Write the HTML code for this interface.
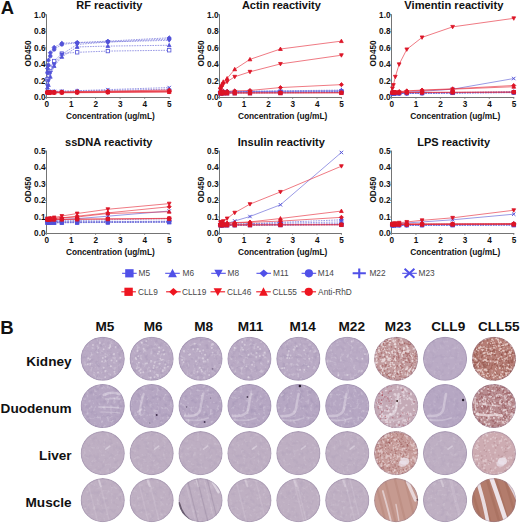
<!DOCTYPE html>
<html><head><meta charset="utf-8"><style>
html,body{margin:0;padding:0;background:#fff;width:520px;height:523px;overflow:hidden}
text{font-family:"Liberation Sans",sans-serif}
</style></head><body>
<svg width="520" height="523" viewBox="0 0 520 523" style="display:block"><g font-family="'Liberation Sans', sans-serif" fill="#111"><text x="76.30" y="9.40" font-size="11" font-weight="bold" textLength="66.00" lengthAdjust="spacingAndGlyphs">RF reactivity</text><path d="M46.50,14.30V97.50H169.70" stroke="#747474" stroke-width="1" fill="none"/><path d="M45.20,97.50H46.5" stroke="#747474" stroke-width="0.9"/><text x="45.50" y="100.40" font-size="8.2" font-weight="bold" text-anchor="end">0.0</text><path d="M45.20,80.92H46.5" stroke="#747474" stroke-width="0.9"/><text x="45.50" y="83.82" font-size="8.2" font-weight="bold" text-anchor="end">0.2</text><path d="M45.20,64.34H46.5" stroke="#747474" stroke-width="0.9"/><text x="45.50" y="67.24" font-size="8.2" font-weight="bold" text-anchor="end">0.4</text><path d="M45.20,47.76H46.5" stroke="#747474" stroke-width="0.9"/><text x="45.50" y="50.66" font-size="8.2" font-weight="bold" text-anchor="end">0.6</text><path d="M45.20,31.18H46.5" stroke="#747474" stroke-width="0.9"/><text x="45.50" y="34.08" font-size="8.2" font-weight="bold" text-anchor="end">0.8</text><path d="M45.20,14.60H46.5" stroke="#747474" stroke-width="0.9"/><text x="45.50" y="17.50" font-size="8.2" font-weight="bold" text-anchor="end">1.0</text><path d="M46.50,97.5V98.80" stroke="#747474" stroke-width="0.9"/><text x="46.70" y="106.60" font-size="8.2" font-weight="bold" text-anchor="middle">0</text><path d="M71.04,97.5V98.80" stroke="#747474" stroke-width="0.9"/><text x="71.24" y="106.60" font-size="8.2" font-weight="bold" text-anchor="middle">1</text><path d="M95.58,97.5V98.80" stroke="#747474" stroke-width="0.9"/><text x="95.78" y="106.60" font-size="8.2" font-weight="bold" text-anchor="middle">2</text><path d="M120.12,97.5V98.80" stroke="#747474" stroke-width="0.9"/><text x="120.32" y="106.60" font-size="8.2" font-weight="bold" text-anchor="middle">3</text><path d="M144.66,97.5V98.80" stroke="#747474" stroke-width="0.9"/><text x="144.86" y="106.60" font-size="8.2" font-weight="bold" text-anchor="middle">4</text><path d="M169.20,97.5V98.80" stroke="#747474" stroke-width="0.9"/><text x="169.40" y="106.60" font-size="8.2" font-weight="bold" text-anchor="middle">5</text><text x="65.90" y="118.80" font-size="8.2" font-weight="bold" textLength="88.90" lengthAdjust="spacingAndGlyphs">Concentration (ug/mL)</text><text transform="translate(30.90,53.40) rotate(-90)" font-size="8.2" font-weight="bold" text-anchor="middle" textLength="26" lengthAdjust="spacingAndGlyphs">OD450</text><polyline points="46.50,87.55 47.46,79.26 48.41,72.63 50.33,67.66 54.17,61.02 61.84,53.56 77.17,52.32 107.85,51.08 169.20,50.25" fill="none" stroke="#6a6ad8" stroke-width="0.85" stroke-opacity="0.8" stroke-dasharray="1.6,1"/><rect x="45.76" y="77.56" width="3.40" height="3.40" fill="white" stroke="#5252d8" stroke-width="0.8"/><rect x="46.71" y="70.93" width="3.40" height="3.40" fill="white" stroke="#5252d8" stroke-width="0.8"/><rect x="48.63" y="65.96" width="3.40" height="3.40" fill="white" stroke="#5252d8" stroke-width="0.8"/><rect x="52.47" y="59.32" width="3.40" height="3.40" fill="white" stroke="#5252d8" stroke-width="0.8"/><rect x="60.14" y="51.86" width="3.40" height="3.40" fill="white" stroke="#5252d8" stroke-width="0.8"/><rect x="75.47" y="50.62" width="3.40" height="3.40" fill="white" stroke="#5252d8" stroke-width="0.8"/><rect x="106.15" y="49.38" width="3.40" height="3.40" fill="white" stroke="#5252d8" stroke-width="0.8"/><rect x="167.50" y="48.55" width="3.40" height="3.40" fill="white" stroke="#5252d8" stroke-width="0.8"/><polyline points="46.50,89.21 47.46,87.55 48.41,85.06 50.33,76.78 54.17,66.00 61.84,56.88 77.17,46.93 107.85,46.10 169.20,45.27" fill="none" stroke="#6a6ad8" stroke-width="0.85" stroke-opacity="0.8" stroke-dasharray="1.6,1"/><path d="M47.46,85.60L49.33,89.02L45.59,89.02Z" fill="#5252d8" stroke="#5252d8" stroke-width="0.8"/><path d="M48.41,83.11L50.28,86.53L46.54,86.53Z" fill="#5252d8" stroke="#5252d8" stroke-width="0.8"/><path d="M50.33,74.82L52.20,78.24L48.46,78.24Z" fill="#5252d8" stroke="#5252d8" stroke-width="0.8"/><path d="M54.17,64.04L56.04,67.46L52.30,67.46Z" fill="#5252d8" stroke="#5252d8" stroke-width="0.8"/><path d="M61.84,54.92L63.71,58.35L59.97,58.35Z" fill="#5252d8" stroke="#5252d8" stroke-width="0.8"/><path d="M77.17,44.98L79.05,48.40L75.30,48.40Z" fill="#5252d8" stroke="#5252d8" stroke-width="0.8"/><path d="M107.85,44.15L109.72,47.57L105.98,47.57Z" fill="#5252d8" stroke="#5252d8" stroke-width="0.8"/><path d="M169.20,43.32L171.07,46.74L167.33,46.74Z" fill="#5252d8" stroke="#5252d8" stroke-width="0.8"/><polyline points="46.50,89.21 47.46,85.89 48.41,80.92 50.33,72.63 54.17,64.34 61.84,54.39 77.17,44.44 107.85,41.96 169.20,40.30" fill="none" stroke="#6a6ad8" stroke-width="0.85" stroke-opacity="0.8" stroke-dasharray="1.6,1"/><path d="M47.46,87.85L49.33,84.43L45.59,84.43Z" fill="#5252d8" stroke="#5252d8" stroke-width="0.8"/><path d="M48.41,82.88L50.28,79.45L46.54,79.45Z" fill="#5252d8" stroke="#5252d8" stroke-width="0.8"/><path d="M50.33,74.58L52.20,71.16L48.46,71.16Z" fill="#5252d8" stroke="#5252d8" stroke-width="0.8"/><path d="M54.17,66.30L56.04,62.87L52.30,62.87Z" fill="#5252d8" stroke="#5252d8" stroke-width="0.8"/><path d="M61.84,56.35L63.71,52.93L59.97,52.93Z" fill="#5252d8" stroke="#5252d8" stroke-width="0.8"/><path d="M77.17,46.40L79.05,42.98L75.30,42.98Z" fill="#5252d8" stroke="#5252d8" stroke-width="0.8"/><path d="M107.85,43.91L109.72,40.49L105.98,40.49Z" fill="#5252d8" stroke="#5252d8" stroke-width="0.8"/><path d="M169.20,42.25L171.07,38.83L167.33,38.83Z" fill="#5252d8" stroke="#5252d8" stroke-width="0.8"/><polyline points="46.50,85.06 47.46,68.48 48.41,60.19 50.33,52.73 54.17,47.35 61.84,43.20 77.17,42.54 107.85,41.13 169.20,37.81" fill="none" stroke="#6a6ad8" stroke-width="0.85" stroke-opacity="0.8" stroke-dasharray="1.6,1"/><path d="M47.46,66.44L49.50,68.48L47.46,70.53L45.42,68.48Z" fill="#5252d8" stroke="#5252d8" stroke-width="0.8"/><path d="M48.41,58.15L50.45,60.19L48.41,62.23L46.37,60.19Z" fill="#5252d8" stroke="#5252d8" stroke-width="0.8"/><path d="M50.33,50.69L52.37,52.73L50.33,54.77L48.29,52.73Z" fill="#5252d8" stroke="#5252d8" stroke-width="0.8"/><path d="M54.17,45.31L56.21,47.35L54.17,49.39L52.13,47.35Z" fill="#5252d8" stroke="#5252d8" stroke-width="0.8"/><path d="M61.84,41.16L63.88,43.20L61.84,45.24L59.80,43.20Z" fill="#5252d8" stroke="#5252d8" stroke-width="0.8"/><path d="M77.17,40.50L79.22,42.54L77.17,44.58L75.13,42.54Z" fill="#5252d8" stroke="#5252d8" stroke-width="0.8"/><path d="M107.85,39.09L109.89,41.13L107.85,43.17L105.81,41.13Z" fill="#5252d8" stroke="#5252d8" stroke-width="0.8"/><path d="M169.20,35.77L171.24,37.81L169.20,39.85L167.16,37.81Z" fill="#5252d8" stroke="#5252d8" stroke-width="0.8"/><polyline points="46.50,87.55 47.46,72.63 48.41,65.17 50.33,56.05 54.17,49.42 61.84,44.44 77.17,42.79 107.85,41.96 169.20,39.06" fill="none" stroke="#6a6ad8" stroke-width="0.85" stroke-opacity="0.8" stroke-dasharray="1.6,1"/><circle cx="47.46" cy="72.63" r="1.78" fill="#5252d8" stroke="#5252d8" stroke-width="0.8"/><circle cx="48.41" cy="65.17" r="1.78" fill="#5252d8" stroke="#5252d8" stroke-width="0.8"/><circle cx="50.33" cy="56.05" r="1.78" fill="#5252d8" stroke="#5252d8" stroke-width="0.8"/><circle cx="54.17" cy="49.42" r="1.78" fill="#5252d8" stroke="#5252d8" stroke-width="0.8"/><circle cx="61.84" cy="44.44" r="1.78" fill="#5252d8" stroke="#5252d8" stroke-width="0.8"/><circle cx="77.17" cy="42.79" r="1.78" fill="#5252d8" stroke="#5252d8" stroke-width="0.8"/><circle cx="107.85" cy="41.96" r="1.78" fill="#5252d8" stroke="#5252d8" stroke-width="0.8"/><circle cx="169.20" cy="39.06" r="1.78" fill="#5252d8" stroke="#5252d8" stroke-width="0.8"/><polyline points="46.50,91.70 47.46,91.68 48.41,91.66 50.33,91.62 54.17,91.54 61.84,91.39 77.17,91.08 107.85,90.45 169.20,89.21" fill="none" stroke="#6a6ad8" stroke-width="0.85" stroke-opacity="0.8" stroke-dasharray="1.6,1"/><path d="M45.25,91.68H49.67M47.46,89.47V93.89" stroke="#5252d8" stroke-width="1.1" fill="none"/><path d="M46.20,91.66H50.62M48.41,89.45V93.87" stroke="#5252d8" stroke-width="1.1" fill="none"/><path d="M48.12,91.62H52.54M50.33,89.41V93.83" stroke="#5252d8" stroke-width="1.1" fill="none"/><path d="M51.96,91.54H56.38M54.17,89.33V93.75" stroke="#5252d8" stroke-width="1.1" fill="none"/><path d="M59.63,91.39H64.05M61.84,89.18V93.60" stroke="#5252d8" stroke-width="1.1" fill="none"/><path d="M74.97,91.08H79.38M77.17,88.87V93.29" stroke="#5252d8" stroke-width="1.1" fill="none"/><path d="M105.64,90.45H110.06M107.85,88.24V92.66" stroke="#5252d8" stroke-width="1.1" fill="none"/><path d="M166.99,89.21H171.41M169.20,87.00V91.42" stroke="#5252d8" stroke-width="1.1" fill="none"/><polyline points="46.50,91.70 47.46,91.66 48.41,91.63 50.33,91.57 54.17,91.44 61.84,91.18 77.17,90.66 107.85,89.62 169.20,87.55" fill="none" stroke="#6a6ad8" stroke-width="0.85" stroke-opacity="0.8" stroke-dasharray="1.6,1"/><path d="M45.76,89.96L49.16,93.36M49.16,89.96L45.76,93.36" stroke="#5252d8" stroke-width="1.0" fill="none"/><path d="M46.71,89.93L50.11,93.33M50.11,89.93L46.71,93.33" stroke="#5252d8" stroke-width="1.0" fill="none"/><path d="M48.63,89.87L52.03,93.27M52.03,89.87L48.63,93.27" stroke="#5252d8" stroke-width="1.0" fill="none"/><path d="M52.47,89.74L55.87,93.14M55.87,89.74L52.47,93.14" stroke="#5252d8" stroke-width="1.0" fill="none"/><path d="M60.14,89.48L63.54,92.88M63.54,89.48L60.14,92.88" stroke="#5252d8" stroke-width="1.0" fill="none"/><path d="M75.47,88.96L78.88,92.36M78.88,88.96L75.47,92.36" stroke="#5252d8" stroke-width="1.0" fill="none"/><path d="M106.15,87.92L109.55,91.32M109.55,87.92L106.15,91.32" stroke="#5252d8" stroke-width="1.0" fill="none"/><path d="M167.50,85.85L170.90,89.25M170.90,85.85L167.50,89.25" stroke="#5252d8" stroke-width="1.0" fill="none"/><polyline points="46.50,92.53 47.46,92.52 48.41,92.51 50.33,92.50 54.17,92.47 61.84,92.42 77.17,92.32 107.85,92.11 169.20,91.70" fill="none" stroke="#e62c3a" stroke-width="0.85" stroke-opacity="0.75"/><rect x="45.76" y="90.82" width="3.40" height="3.40" fill="#dc1426" stroke="#dc1426" stroke-width="0.8"/><rect x="46.71" y="90.81" width="3.40" height="3.40" fill="#dc1426" stroke="#dc1426" stroke-width="0.8"/><rect x="48.63" y="90.80" width="3.40" height="3.40" fill="#dc1426" stroke="#dc1426" stroke-width="0.8"/><rect x="52.47" y="90.77" width="3.40" height="3.40" fill="#dc1426" stroke="#dc1426" stroke-width="0.8"/><rect x="60.14" y="90.72" width="3.40" height="3.40" fill="#dc1426" stroke="#dc1426" stroke-width="0.8"/><rect x="75.47" y="90.62" width="3.40" height="3.40" fill="#dc1426" stroke="#dc1426" stroke-width="0.8"/><rect x="106.15" y="90.41" width="3.40" height="3.40" fill="#dc1426" stroke="#dc1426" stroke-width="0.8"/><rect x="167.50" y="90.00" width="3.40" height="3.40" fill="#dc1426" stroke="#dc1426" stroke-width="0.8"/><polyline points="46.50,92.53 47.46,92.51 48.41,92.50 50.33,92.47 54.17,92.42 61.84,92.32 77.17,92.11 107.85,91.70 169.20,90.87" fill="none" stroke="#e62c3a" stroke-width="0.85" stroke-opacity="0.75"/><path d="M47.46,90.47L49.50,92.51L47.46,94.55L45.42,92.51Z" fill="#dc1426" stroke="#dc1426" stroke-width="0.8"/><path d="M48.41,90.46L50.45,92.50L48.41,94.54L46.37,92.50Z" fill="#dc1426" stroke="#dc1426" stroke-width="0.8"/><path d="M50.33,90.43L52.37,92.47L50.33,94.51L48.29,92.47Z" fill="#dc1426" stroke="#dc1426" stroke-width="0.8"/><path d="M54.17,90.38L56.21,92.42L54.17,94.46L52.13,92.42Z" fill="#dc1426" stroke="#dc1426" stroke-width="0.8"/><path d="M61.84,90.28L63.88,92.32L61.84,94.36L59.80,92.32Z" fill="#dc1426" stroke="#dc1426" stroke-width="0.8"/><path d="M77.17,90.07L79.22,92.11L77.17,94.15L75.13,92.11Z" fill="#dc1426" stroke="#dc1426" stroke-width="0.8"/><path d="M107.85,89.66L109.89,91.70L107.85,93.74L105.81,91.70Z" fill="#dc1426" stroke="#dc1426" stroke-width="0.8"/><path d="M169.20,88.83L171.24,90.87L169.20,92.91L167.16,90.87Z" fill="#dc1426" stroke="#dc1426" stroke-width="0.8"/><polyline points="46.50,92.11 47.46,92.10 48.41,92.08 50.33,92.05 54.17,91.98 61.84,91.85 77.17,91.59 107.85,91.08 169.20,90.04" fill="none" stroke="#e62c3a" stroke-width="0.85" stroke-opacity="0.75"/><path d="M47.46,90.14L49.33,93.56L45.59,93.56Z" fill="#dc1426" stroke="#dc1426" stroke-width="0.8"/><path d="M48.41,90.12L50.28,93.55L46.54,93.55Z" fill="#dc1426" stroke="#dc1426" stroke-width="0.8"/><path d="M50.33,90.09L52.20,93.51L48.46,93.51Z" fill="#dc1426" stroke="#dc1426" stroke-width="0.8"/><path d="M54.17,90.03L56.04,93.45L52.30,93.45Z" fill="#dc1426" stroke="#dc1426" stroke-width="0.8"/><path d="M61.84,89.90L63.71,93.32L59.97,93.32Z" fill="#dc1426" stroke="#dc1426" stroke-width="0.8"/><path d="M77.17,89.64L79.05,93.06L75.30,93.06Z" fill="#dc1426" stroke="#dc1426" stroke-width="0.8"/><path d="M107.85,89.12L109.72,92.54L105.98,92.54Z" fill="#dc1426" stroke="#dc1426" stroke-width="0.8"/><path d="M169.20,88.08L171.07,91.51L167.33,91.51Z" fill="#dc1426" stroke="#dc1426" stroke-width="0.8"/><polyline points="46.50,92.53 47.46,92.52 48.41,92.51 50.33,92.49 54.17,92.45 61.84,92.37 77.17,92.22 107.85,91.90 169.20,91.28" fill="none" stroke="#e62c3a" stroke-width="0.85" stroke-opacity="0.75"/><circle cx="47.46" cy="92.52" r="1.78" fill="#dc1426" stroke="#dc1426" stroke-width="0.8"/><circle cx="48.41" cy="92.51" r="1.78" fill="#dc1426" stroke="#dc1426" stroke-width="0.8"/><circle cx="50.33" cy="92.49" r="1.78" fill="#dc1426" stroke="#dc1426" stroke-width="0.8"/><circle cx="54.17" cy="92.45" r="1.78" fill="#dc1426" stroke="#dc1426" stroke-width="0.8"/><circle cx="61.84" cy="92.37" r="1.78" fill="#dc1426" stroke="#dc1426" stroke-width="0.8"/><circle cx="77.17" cy="92.22" r="1.78" fill="#dc1426" stroke="#dc1426" stroke-width="0.8"/><circle cx="107.85" cy="91.90" r="1.78" fill="#dc1426" stroke="#dc1426" stroke-width="0.8"/><circle cx="169.20" cy="91.28" r="1.78" fill="#dc1426" stroke="#dc1426" stroke-width="0.8"/><polyline points="46.50,92.94 47.46,92.93 48.41,92.93 50.33,92.91 54.17,92.89 61.84,92.84 77.17,92.73 107.85,92.53 169.20,92.11" fill="none" stroke="#e62c3a" stroke-width="0.85" stroke-opacity="0.75"/><path d="M47.46,94.89L49.33,91.47L45.59,91.47Z" fill="#dc1426" stroke="#dc1426" stroke-width="0.8"/><path d="M48.41,94.88L50.28,91.46L46.54,91.46Z" fill="#dc1426" stroke="#dc1426" stroke-width="0.8"/><path d="M50.33,94.87L52.20,91.45L48.46,91.45Z" fill="#dc1426" stroke="#dc1426" stroke-width="0.8"/><path d="M54.17,94.84L56.04,91.42L52.30,91.42Z" fill="#dc1426" stroke="#dc1426" stroke-width="0.8"/><path d="M61.84,94.79L63.71,91.37L59.97,91.37Z" fill="#dc1426" stroke="#dc1426" stroke-width="0.8"/><path d="M77.17,94.69L79.05,91.27L75.30,91.27Z" fill="#dc1426" stroke="#dc1426" stroke-width="0.8"/><path d="M107.85,94.48L109.72,91.06L105.98,91.06Z" fill="#dc1426" stroke="#dc1426" stroke-width="0.8"/><path d="M169.20,94.07L171.07,90.65L167.33,90.65Z" fill="#dc1426" stroke="#dc1426" stroke-width="0.8"/><text x="241.90" y="9.40" font-size="11" font-weight="bold" textLength="78.90" lengthAdjust="spacingAndGlyphs">Actin reactivity</text><path d="M219.50,14.30V97.50H341.90" stroke="#747474" stroke-width="1" fill="none"/><path d="M218.20,97.50H219.5" stroke="#747474" stroke-width="0.9"/><text x="218.50" y="100.40" font-size="8.2" font-weight="bold" text-anchor="end">0.0</text><path d="M218.20,80.92H219.5" stroke="#747474" stroke-width="0.9"/><text x="218.50" y="83.82" font-size="8.2" font-weight="bold" text-anchor="end">0.2</text><path d="M218.20,64.34H219.5" stroke="#747474" stroke-width="0.9"/><text x="218.50" y="67.24" font-size="8.2" font-weight="bold" text-anchor="end">0.4</text><path d="M218.20,47.76H219.5" stroke="#747474" stroke-width="0.9"/><text x="218.50" y="50.66" font-size="8.2" font-weight="bold" text-anchor="end">0.6</text><path d="M218.20,31.18H219.5" stroke="#747474" stroke-width="0.9"/><text x="218.50" y="34.08" font-size="8.2" font-weight="bold" text-anchor="end">0.8</text><path d="M218.20,14.60H219.5" stroke="#747474" stroke-width="0.9"/><text x="218.50" y="17.50" font-size="8.2" font-weight="bold" text-anchor="end">1.0</text><path d="M219.50,97.5V98.80" stroke="#747474" stroke-width="0.9"/><text x="219.70" y="106.60" font-size="8.2" font-weight="bold" text-anchor="middle">0</text><path d="M243.88,97.5V98.80" stroke="#747474" stroke-width="0.9"/><text x="244.08" y="106.60" font-size="8.2" font-weight="bold" text-anchor="middle">1</text><path d="M268.26,97.5V98.80" stroke="#747474" stroke-width="0.9"/><text x="268.46" y="106.60" font-size="8.2" font-weight="bold" text-anchor="middle">2</text><path d="M292.64,97.5V98.80" stroke="#747474" stroke-width="0.9"/><text x="292.84" y="106.60" font-size="8.2" font-weight="bold" text-anchor="middle">3</text><path d="M317.02,97.5V98.80" stroke="#747474" stroke-width="0.9"/><text x="317.22" y="106.60" font-size="8.2" font-weight="bold" text-anchor="middle">4</text><path d="M341.40,97.5V98.80" stroke="#747474" stroke-width="0.9"/><text x="341.60" y="106.60" font-size="8.2" font-weight="bold" text-anchor="middle">5</text><text x="237.90" y="118.80" font-size="8.2" font-weight="bold" textLength="89.40" lengthAdjust="spacingAndGlyphs">Concentration (ug/mL)</text><text transform="translate(203.90,53.40) rotate(-90)" font-size="8.2" font-weight="bold" text-anchor="middle" textLength="26" lengthAdjust="spacingAndGlyphs">OD450</text><polyline points="219.50,93.36 220.45,93.35 221.40,93.34 223.30,93.33 227.12,93.30 234.74,93.25 249.97,93.15 280.45,92.94 341.40,92.53" fill="none" stroke="#6a6ad8" stroke-width="0.85" stroke-opacity="0.8" stroke-dasharray="1.6,1"/><rect x="218.75" y="91.65" width="3.40" height="3.40" fill="#5252d8" stroke="#5252d8" stroke-width="0.8"/><rect x="219.70" y="91.64" width="3.40" height="3.40" fill="#5252d8" stroke="#5252d8" stroke-width="0.8"/><rect x="221.60" y="91.63" width="3.40" height="3.40" fill="#5252d8" stroke="#5252d8" stroke-width="0.8"/><rect x="225.42" y="91.60" width="3.40" height="3.40" fill="#5252d8" stroke="#5252d8" stroke-width="0.8"/><rect x="233.04" y="91.55" width="3.40" height="3.40" fill="#5252d8" stroke="#5252d8" stroke-width="0.8"/><rect x="248.28" y="91.45" width="3.40" height="3.40" fill="#5252d8" stroke="#5252d8" stroke-width="0.8"/><rect x="278.75" y="91.24" width="3.40" height="3.40" fill="#5252d8" stroke="#5252d8" stroke-width="0.8"/><rect x="339.70" y="90.83" width="3.40" height="3.40" fill="#5252d8" stroke="#5252d8" stroke-width="0.8"/><polyline points="219.50,92.53 220.45,92.52 221.40,92.51 223.30,92.50 227.12,92.47 234.74,92.42 249.97,92.32 280.45,92.11 341.40,91.70" fill="none" stroke="#6a6ad8" stroke-width="0.85" stroke-opacity="0.8" stroke-dasharray="1.6,1"/><path d="M220.45,90.56L222.32,93.99L218.58,93.99Z" fill="#5252d8" stroke="#5252d8" stroke-width="0.8"/><path d="M221.40,90.56L223.27,93.98L219.53,93.98Z" fill="#5252d8" stroke="#5252d8" stroke-width="0.8"/><path d="M223.30,90.55L225.17,93.97L221.43,93.97Z" fill="#5252d8" stroke="#5252d8" stroke-width="0.8"/><path d="M227.12,90.52L228.99,93.94L225.25,93.94Z" fill="#5252d8" stroke="#5252d8" stroke-width="0.8"/><path d="M234.74,90.47L236.61,93.89L232.87,93.89Z" fill="#5252d8" stroke="#5252d8" stroke-width="0.8"/><path d="M249.97,90.36L251.84,93.78L248.10,93.78Z" fill="#5252d8" stroke="#5252d8" stroke-width="0.8"/><path d="M280.45,90.16L282.32,93.58L278.58,93.58Z" fill="#5252d8" stroke="#5252d8" stroke-width="0.8"/><path d="M341.40,89.74L343.27,93.16L339.53,93.16Z" fill="#5252d8" stroke="#5252d8" stroke-width="0.8"/><polyline points="219.50,92.53 220.45,92.52 221.40,92.52 223.30,92.51 227.12,92.50 234.74,92.47 249.97,92.42 280.45,92.32 341.40,92.11" fill="none" stroke="#6a6ad8" stroke-width="0.85" stroke-opacity="0.8" stroke-dasharray="1.6,1"/><path d="M220.45,94.48L222.32,91.06L218.58,91.06Z" fill="#5252d8" stroke="#5252d8" stroke-width="0.8"/><path d="M221.40,94.47L223.27,91.05L219.53,91.05Z" fill="#5252d8" stroke="#5252d8" stroke-width="0.8"/><path d="M223.30,94.47L225.17,91.05L221.43,91.05Z" fill="#5252d8" stroke="#5252d8" stroke-width="0.8"/><path d="M227.12,94.46L228.99,91.03L225.25,91.03Z" fill="#5252d8" stroke="#5252d8" stroke-width="0.8"/><path d="M234.74,94.43L236.61,91.01L232.87,91.01Z" fill="#5252d8" stroke="#5252d8" stroke-width="0.8"/><path d="M249.97,94.38L251.84,90.96L248.10,90.96Z" fill="#5252d8" stroke="#5252d8" stroke-width="0.8"/><path d="M280.45,94.27L282.32,90.85L278.58,90.85Z" fill="#5252d8" stroke="#5252d8" stroke-width="0.8"/><path d="M341.40,94.07L343.27,90.65L339.53,90.65Z" fill="#5252d8" stroke="#5252d8" stroke-width="0.8"/><polyline points="219.50,92.53 220.45,92.52 221.40,92.51 223.30,92.50 227.12,92.47 234.74,92.42 249.97,92.32 280.45,92.11 341.40,91.70" fill="none" stroke="#6a6ad8" stroke-width="0.85" stroke-opacity="0.8" stroke-dasharray="1.6,1"/><path d="M220.45,90.48L222.49,92.52L220.45,94.56L218.41,92.52Z" fill="#5252d8" stroke="#5252d8" stroke-width="0.8"/><path d="M221.40,90.47L223.44,92.51L221.40,94.55L219.36,92.51Z" fill="#5252d8" stroke="#5252d8" stroke-width="0.8"/><path d="M223.30,90.46L225.34,92.50L223.30,94.54L221.26,92.50Z" fill="#5252d8" stroke="#5252d8" stroke-width="0.8"/><path d="M227.12,90.43L229.16,92.47L227.12,94.51L225.08,92.47Z" fill="#5252d8" stroke="#5252d8" stroke-width="0.8"/><path d="M234.74,90.38L236.78,92.42L234.74,94.46L232.70,92.42Z" fill="#5252d8" stroke="#5252d8" stroke-width="0.8"/><path d="M249.97,90.28L252.01,92.32L249.97,94.36L247.94,92.32Z" fill="#5252d8" stroke="#5252d8" stroke-width="0.8"/><path d="M280.45,90.07L282.49,92.11L280.45,94.15L278.41,92.11Z" fill="#5252d8" stroke="#5252d8" stroke-width="0.8"/><path d="M341.40,89.66L343.44,91.70L341.40,93.74L339.36,91.70Z" fill="#5252d8" stroke="#5252d8" stroke-width="0.8"/><polyline points="219.50,91.70 220.45,91.69 221.40,91.68 223.30,91.67 227.12,91.65 234.74,91.59 249.97,91.49 280.45,91.28 341.40,90.87" fill="none" stroke="#6a6ad8" stroke-width="0.85" stroke-opacity="0.8" stroke-dasharray="1.6,1"/><circle cx="220.45" cy="91.69" r="1.78" fill="#5252d8" stroke="#5252d8" stroke-width="0.8"/><circle cx="221.40" cy="91.68" r="1.78" fill="#5252d8" stroke="#5252d8" stroke-width="0.8"/><circle cx="223.30" cy="91.67" r="1.78" fill="#5252d8" stroke="#5252d8" stroke-width="0.8"/><circle cx="227.12" cy="91.65" r="1.78" fill="#5252d8" stroke="#5252d8" stroke-width="0.8"/><circle cx="234.74" cy="91.59" r="1.78" fill="#5252d8" stroke="#5252d8" stroke-width="0.8"/><circle cx="249.97" cy="91.49" r="1.78" fill="#5252d8" stroke="#5252d8" stroke-width="0.8"/><circle cx="280.45" cy="91.28" r="1.78" fill="#5252d8" stroke="#5252d8" stroke-width="0.8"/><circle cx="341.40" cy="90.87" r="1.78" fill="#5252d8" stroke="#5252d8" stroke-width="0.8"/><polyline points="219.50,91.70 220.45,91.68 221.40,91.67 223.30,91.65 227.12,91.59 234.74,91.49 249.97,91.28 280.45,90.87 341.40,90.04" fill="none" stroke="#6a6ad8" stroke-width="0.85" stroke-opacity="0.8" stroke-dasharray="1.6,1"/><path d="M218.24,91.68H222.66M220.45,89.47V93.89" stroke="#5252d8" stroke-width="1.1" fill="none"/><path d="M219.19,91.67H223.61M221.40,89.46V93.88" stroke="#5252d8" stroke-width="1.1" fill="none"/><path d="M221.09,91.65H225.51M223.30,89.44V93.86" stroke="#5252d8" stroke-width="1.1" fill="none"/><path d="M224.91,91.59H229.33M227.12,89.38V93.80" stroke="#5252d8" stroke-width="1.1" fill="none"/><path d="M232.53,91.49H236.95M234.74,89.28V93.70" stroke="#5252d8" stroke-width="1.1" fill="none"/><path d="M247.76,91.28H252.19M249.97,89.07V93.49" stroke="#5252d8" stroke-width="1.1" fill="none"/><path d="M278.24,90.87H282.66M280.45,88.66V93.08" stroke="#5252d8" stroke-width="1.1" fill="none"/><path d="M339.19,90.04H343.61M341.40,87.83V92.25" stroke="#5252d8" stroke-width="1.1" fill="none"/><polyline points="219.50,91.70 220.45,91.69 221.40,91.68 223.30,91.67 227.12,91.65 234.74,91.59 249.97,91.49 280.45,91.28 341.40,90.87" fill="none" stroke="#6a6ad8" stroke-width="0.85" stroke-opacity="0.8"/><path d="M218.75,89.99L222.15,93.39M222.15,89.99L218.75,93.39" stroke="#5252d8" stroke-width="1.0" fill="none"/><path d="M219.70,89.98L223.10,93.38M223.10,89.98L219.70,93.38" stroke="#5252d8" stroke-width="1.0" fill="none"/><path d="M221.60,89.97L225.00,93.37M225.00,89.97L221.60,93.37" stroke="#5252d8" stroke-width="1.0" fill="none"/><path d="M225.42,89.95L228.82,93.35M228.82,89.95L225.42,93.35" stroke="#5252d8" stroke-width="1.0" fill="none"/><path d="M233.04,89.89L236.44,93.29M236.44,89.89L233.04,93.29" stroke="#5252d8" stroke-width="1.0" fill="none"/><path d="M248.28,89.79L251.67,93.19M251.67,89.79L248.28,93.19" stroke="#5252d8" stroke-width="1.0" fill="none"/><path d="M278.75,89.58L282.15,92.98M282.15,89.58L278.75,92.98" stroke="#5252d8" stroke-width="1.0" fill="none"/><path d="M339.70,89.17L343.10,92.57M343.10,89.17L339.70,92.57" stroke="#5252d8" stroke-width="1.0" fill="none"/><polyline points="219.50,93.36 220.45,93.35 221.40,93.35 223.30,93.34 227.12,93.33 234.74,93.30 249.97,93.25 280.45,93.15 341.40,92.94" fill="none" stroke="#e62c3a" stroke-width="0.85" stroke-opacity="0.75"/><rect x="218.75" y="91.65" width="3.40" height="3.40" fill="#dc1426" stroke="#dc1426" stroke-width="0.8"/><rect x="219.70" y="91.65" width="3.40" height="3.40" fill="#dc1426" stroke="#dc1426" stroke-width="0.8"/><rect x="221.60" y="91.64" width="3.40" height="3.40" fill="#dc1426" stroke="#dc1426" stroke-width="0.8"/><rect x="225.42" y="91.63" width="3.40" height="3.40" fill="#dc1426" stroke="#dc1426" stroke-width="0.8"/><rect x="233.04" y="91.60" width="3.40" height="3.40" fill="#dc1426" stroke="#dc1426" stroke-width="0.8"/><rect x="248.28" y="91.55" width="3.40" height="3.40" fill="#dc1426" stroke="#dc1426" stroke-width="0.8"/><rect x="278.75" y="91.45" width="3.40" height="3.40" fill="#dc1426" stroke="#dc1426" stroke-width="0.8"/><rect x="339.70" y="91.24" width="3.40" height="3.40" fill="#dc1426" stroke="#dc1426" stroke-width="0.8"/><polyline points="219.50,91.70 220.45,91.70 221.40,91.70 223.30,91.28 227.12,91.28 234.74,90.87 249.97,90.45 280.45,87.55 341.40,84.65" fill="none" stroke="#e62c3a" stroke-width="0.85" stroke-opacity="0.75"/><path d="M220.45,89.66L222.49,91.70L220.45,93.74L218.41,91.70Z" fill="#dc1426" stroke="#dc1426" stroke-width="0.8"/><path d="M221.40,89.66L223.44,91.70L221.40,93.74L219.36,91.70Z" fill="#dc1426" stroke="#dc1426" stroke-width="0.8"/><path d="M223.30,89.24L225.34,91.28L223.30,93.32L221.26,91.28Z" fill="#dc1426" stroke="#dc1426" stroke-width="0.8"/><path d="M227.12,89.24L229.16,91.28L227.12,93.32L225.08,91.28Z" fill="#dc1426" stroke="#dc1426" stroke-width="0.8"/><path d="M234.74,88.83L236.78,90.87L234.74,92.91L232.70,90.87Z" fill="#dc1426" stroke="#dc1426" stroke-width="0.8"/><path d="M249.97,88.41L252.01,90.45L249.97,92.49L247.94,90.45Z" fill="#dc1426" stroke="#dc1426" stroke-width="0.8"/><path d="M280.45,85.51L282.49,87.55L280.45,89.59L278.41,87.55Z" fill="#dc1426" stroke="#dc1426" stroke-width="0.8"/><path d="M341.40,82.61L343.44,84.65L341.40,86.69L339.36,84.65Z" fill="#dc1426" stroke="#dc1426" stroke-width="0.8"/><polyline points="219.50,90.87 220.45,87.55 221.40,85.06 223.30,81.75 227.12,78.43 234.74,69.31 249.97,59.37 280.45,49.00 341.40,41.13" fill="none" stroke="#e62c3a" stroke-width="0.85" stroke-opacity="0.75"/><path d="M220.45,85.60L222.32,89.02L218.58,89.02Z" fill="#dc1426" stroke="#dc1426" stroke-width="0.8"/><path d="M221.40,83.11L223.27,86.53L219.53,86.53Z" fill="#dc1426" stroke="#dc1426" stroke-width="0.8"/><path d="M223.30,79.79L225.17,83.22L221.43,83.22Z" fill="#dc1426" stroke="#dc1426" stroke-width="0.8"/><path d="M227.12,76.48L228.99,79.90L225.25,79.90Z" fill="#dc1426" stroke="#dc1426" stroke-width="0.8"/><path d="M234.74,67.36L236.61,70.78L232.87,70.78Z" fill="#dc1426" stroke="#dc1426" stroke-width="0.8"/><path d="M249.97,57.41L251.84,60.83L248.10,60.83Z" fill="#dc1426" stroke="#dc1426" stroke-width="0.8"/><path d="M280.45,47.05L282.32,50.47L278.58,50.47Z" fill="#dc1426" stroke="#dc1426" stroke-width="0.8"/><path d="M341.40,39.17L343.27,42.59L339.53,42.59Z" fill="#dc1426" stroke="#dc1426" stroke-width="0.8"/><polyline points="219.50,92.53 220.45,92.53 221.40,92.53 223.30,92.53 227.12,92.53 234.74,92.53 249.97,92.53 280.45,92.53 341.40,92.53" fill="none" stroke="#e62c3a" stroke-width="0.85" stroke-opacity="0.75"/><circle cx="220.45" cy="92.53" r="1.78" fill="#dc1426" stroke="#dc1426" stroke-width="0.8"/><circle cx="221.40" cy="92.53" r="1.78" fill="#dc1426" stroke="#dc1426" stroke-width="0.8"/><circle cx="223.30" cy="92.53" r="1.78" fill="#dc1426" stroke="#dc1426" stroke-width="0.8"/><circle cx="227.12" cy="92.53" r="1.78" fill="#dc1426" stroke="#dc1426" stroke-width="0.8"/><circle cx="234.74" cy="92.53" r="1.78" fill="#dc1426" stroke="#dc1426" stroke-width="0.8"/><circle cx="249.97" cy="92.53" r="1.78" fill="#dc1426" stroke="#dc1426" stroke-width="0.8"/><circle cx="280.45" cy="92.53" r="1.78" fill="#dc1426" stroke="#dc1426" stroke-width="0.8"/><circle cx="341.40" cy="92.53" r="1.78" fill="#dc1426" stroke="#dc1426" stroke-width="0.8"/><polyline points="219.50,91.70 220.45,89.21 221.40,87.55 223.30,84.24 227.12,81.75 234.74,76.78 249.97,71.80 280.45,63.93 341.40,55.22" fill="none" stroke="#e62c3a" stroke-width="0.85" stroke-opacity="0.75"/><path d="M220.45,91.16L222.32,87.74L218.58,87.74Z" fill="#dc1426" stroke="#dc1426" stroke-width="0.8"/><path d="M221.40,89.51L223.27,86.09L219.53,86.09Z" fill="#dc1426" stroke="#dc1426" stroke-width="0.8"/><path d="M223.30,86.19L225.17,82.77L221.43,82.77Z" fill="#dc1426" stroke="#dc1426" stroke-width="0.8"/><path d="M227.12,83.70L228.99,80.28L225.25,80.28Z" fill="#dc1426" stroke="#dc1426" stroke-width="0.8"/><path d="M234.74,78.73L236.61,75.31L232.87,75.31Z" fill="#dc1426" stroke="#dc1426" stroke-width="0.8"/><path d="M249.97,73.76L251.84,70.33L248.10,70.33Z" fill="#dc1426" stroke="#dc1426" stroke-width="0.8"/><path d="M280.45,65.88L282.32,62.46L278.58,62.46Z" fill="#dc1426" stroke="#dc1426" stroke-width="0.8"/><path d="M341.40,57.18L343.27,53.75L339.53,53.75Z" fill="#dc1426" stroke="#dc1426" stroke-width="0.8"/><text x="404.30" y="9.40" font-size="11" font-weight="bold" textLength="99.10" lengthAdjust="spacingAndGlyphs">Vimentin reactivity</text><path d="M391.50,14.30V97.50H514.25" stroke="#747474" stroke-width="1" fill="none"/><path d="M390.20,97.50H391.5" stroke="#747474" stroke-width="0.9"/><text x="390.50" y="100.40" font-size="8.2" font-weight="bold" text-anchor="end">0.0</text><path d="M390.20,80.92H391.5" stroke="#747474" stroke-width="0.9"/><text x="390.50" y="83.82" font-size="8.2" font-weight="bold" text-anchor="end">0.2</text><path d="M390.20,64.34H391.5" stroke="#747474" stroke-width="0.9"/><text x="390.50" y="67.24" font-size="8.2" font-weight="bold" text-anchor="end">0.4</text><path d="M390.20,47.76H391.5" stroke="#747474" stroke-width="0.9"/><text x="390.50" y="50.66" font-size="8.2" font-weight="bold" text-anchor="end">0.6</text><path d="M390.20,31.18H391.5" stroke="#747474" stroke-width="0.9"/><text x="390.50" y="34.08" font-size="8.2" font-weight="bold" text-anchor="end">0.8</text><path d="M390.20,14.60H391.5" stroke="#747474" stroke-width="0.9"/><text x="390.50" y="17.50" font-size="8.2" font-weight="bold" text-anchor="end">1.0</text><path d="M391.50,97.5V98.80" stroke="#747474" stroke-width="0.9"/><text x="391.70" y="106.60" font-size="8.2" font-weight="bold" text-anchor="middle">0</text><path d="M415.95,97.5V98.80" stroke="#747474" stroke-width="0.9"/><text x="416.15" y="106.60" font-size="8.2" font-weight="bold" text-anchor="middle">1</text><path d="M440.40,97.5V98.80" stroke="#747474" stroke-width="0.9"/><text x="440.60" y="106.60" font-size="8.2" font-weight="bold" text-anchor="middle">2</text><path d="M464.85,97.5V98.80" stroke="#747474" stroke-width="0.9"/><text x="465.05" y="106.60" font-size="8.2" font-weight="bold" text-anchor="middle">3</text><path d="M489.30,97.5V98.80" stroke="#747474" stroke-width="0.9"/><text x="489.50" y="106.60" font-size="8.2" font-weight="bold" text-anchor="middle">4</text><path d="M513.75,97.5V98.80" stroke="#747474" stroke-width="0.9"/><text x="513.95" y="106.60" font-size="8.2" font-weight="bold" text-anchor="middle">5</text><text x="410.20" y="118.80" font-size="8.2" font-weight="bold" textLength="90.00" lengthAdjust="spacingAndGlyphs">Concentration (ug/mL)</text><text transform="translate(375.90,53.40) rotate(-90)" font-size="8.2" font-weight="bold" text-anchor="middle" textLength="26" lengthAdjust="spacingAndGlyphs">OD450</text><polyline points="391.50,93.36 392.45,93.35 393.41,93.34 395.31,93.33 399.14,93.30 406.78,93.25 422.06,93.15 452.62,92.94 513.75,92.53" fill="none" stroke="#6a6ad8" stroke-width="0.85" stroke-opacity="0.8" stroke-dasharray="1.6,1"/><rect x="390.75" y="91.65" width="3.40" height="3.40" fill="#5252d8" stroke="#5252d8" stroke-width="0.8"/><rect x="391.71" y="91.64" width="3.40" height="3.40" fill="#5252d8" stroke="#5252d8" stroke-width="0.8"/><rect x="393.61" y="91.63" width="3.40" height="3.40" fill="#5252d8" stroke="#5252d8" stroke-width="0.8"/><rect x="397.44" y="91.60" width="3.40" height="3.40" fill="#5252d8" stroke="#5252d8" stroke-width="0.8"/><rect x="405.08" y="91.55" width="3.40" height="3.40" fill="#5252d8" stroke="#5252d8" stroke-width="0.8"/><rect x="420.36" y="91.45" width="3.40" height="3.40" fill="#5252d8" stroke="#5252d8" stroke-width="0.8"/><rect x="450.93" y="91.24" width="3.40" height="3.40" fill="#5252d8" stroke="#5252d8" stroke-width="0.8"/><rect x="512.05" y="90.83" width="3.40" height="3.40" fill="#5252d8" stroke="#5252d8" stroke-width="0.8"/><polyline points="391.50,93.36 392.45,93.35 393.41,93.34 395.31,93.33 399.14,93.30 406.78,93.25 422.06,93.15 452.62,92.94 513.75,92.53" fill="none" stroke="#6a6ad8" stroke-width="0.85" stroke-opacity="0.8" stroke-dasharray="1.6,1"/><path d="M392.45,91.39L394.32,94.81L390.58,94.81Z" fill="#5252d8" stroke="#5252d8" stroke-width="0.8"/><path d="M393.41,91.39L395.28,94.81L391.54,94.81Z" fill="#5252d8" stroke="#5252d8" stroke-width="0.8"/><path d="M395.31,91.37L397.18,94.80L393.44,94.80Z" fill="#5252d8" stroke="#5252d8" stroke-width="0.8"/><path d="M399.14,91.35L401.01,94.77L397.27,94.77Z" fill="#5252d8" stroke="#5252d8" stroke-width="0.8"/><path d="M406.78,91.30L408.65,94.72L404.91,94.72Z" fill="#5252d8" stroke="#5252d8" stroke-width="0.8"/><path d="M422.06,91.19L423.93,94.61L420.19,94.61Z" fill="#5252d8" stroke="#5252d8" stroke-width="0.8"/><path d="M452.62,90.99L454.50,94.41L450.75,94.41Z" fill="#5252d8" stroke="#5252d8" stroke-width="0.8"/><path d="M513.75,90.57L515.62,93.99L511.88,93.99Z" fill="#5252d8" stroke="#5252d8" stroke-width="0.8"/><polyline points="391.50,93.36 392.45,93.35 393.41,93.34 395.31,93.33 399.14,93.30 406.78,93.25 422.06,93.15 452.62,92.94 513.75,92.53" fill="none" stroke="#6a6ad8" stroke-width="0.85" stroke-opacity="0.8" stroke-dasharray="1.6,1"/><path d="M392.45,95.30L394.32,91.88L390.58,91.88Z" fill="#5252d8" stroke="#5252d8" stroke-width="0.8"/><path d="M393.41,95.30L395.28,91.88L391.54,91.88Z" fill="#5252d8" stroke="#5252d8" stroke-width="0.8"/><path d="M395.31,95.28L397.18,91.86L393.44,91.86Z" fill="#5252d8" stroke="#5252d8" stroke-width="0.8"/><path d="M399.14,95.26L401.01,91.84L397.27,91.84Z" fill="#5252d8" stroke="#5252d8" stroke-width="0.8"/><path d="M406.78,95.21L408.65,91.79L404.91,91.79Z" fill="#5252d8" stroke="#5252d8" stroke-width="0.8"/><path d="M422.06,95.10L423.93,91.68L420.19,91.68Z" fill="#5252d8" stroke="#5252d8" stroke-width="0.8"/><path d="M452.62,94.90L454.50,91.47L450.75,91.47Z" fill="#5252d8" stroke="#5252d8" stroke-width="0.8"/><path d="M513.75,94.48L515.62,91.06L511.88,91.06Z" fill="#5252d8" stroke="#5252d8" stroke-width="0.8"/><polyline points="391.50,93.36 392.45,93.35 393.41,93.34 395.31,93.32 399.14,93.28 406.78,93.20 422.06,93.04 452.62,92.73 513.75,92.11" fill="none" stroke="#6a6ad8" stroke-width="0.85" stroke-opacity="0.8" stroke-dasharray="1.6,1"/><path d="M392.45,91.31L394.49,93.35L392.45,95.39L390.41,93.35Z" fill="#5252d8" stroke="#5252d8" stroke-width="0.8"/><path d="M393.41,91.30L395.45,93.34L393.41,95.38L391.37,93.34Z" fill="#5252d8" stroke="#5252d8" stroke-width="0.8"/><path d="M395.31,91.28L397.35,93.32L395.31,95.36L393.27,93.32Z" fill="#5252d8" stroke="#5252d8" stroke-width="0.8"/><path d="M399.14,91.24L401.18,93.28L399.14,95.32L397.10,93.28Z" fill="#5252d8" stroke="#5252d8" stroke-width="0.8"/><path d="M406.78,91.16L408.82,93.20L406.78,95.24L404.74,93.20Z" fill="#5252d8" stroke="#5252d8" stroke-width="0.8"/><path d="M422.06,91.00L424.10,93.04L422.06,95.08L420.02,93.04Z" fill="#5252d8" stroke="#5252d8" stroke-width="0.8"/><path d="M452.62,90.69L454.67,92.73L452.62,94.77L450.58,92.73Z" fill="#5252d8" stroke="#5252d8" stroke-width="0.8"/><path d="M513.75,90.07L515.79,92.11L513.75,94.15L511.71,92.11Z" fill="#5252d8" stroke="#5252d8" stroke-width="0.8"/><polyline points="391.50,93.36 392.45,93.35 393.41,93.34 395.31,93.32 399.14,93.28 406.78,93.20 422.06,93.04 452.62,92.73 513.75,92.11" fill="none" stroke="#6a6ad8" stroke-width="0.85" stroke-opacity="0.8" stroke-dasharray="1.6,1"/><circle cx="392.45" cy="93.35" r="1.78" fill="#5252d8" stroke="#5252d8" stroke-width="0.8"/><circle cx="393.41" cy="93.34" r="1.78" fill="#5252d8" stroke="#5252d8" stroke-width="0.8"/><circle cx="395.31" cy="93.32" r="1.78" fill="#5252d8" stroke="#5252d8" stroke-width="0.8"/><circle cx="399.14" cy="93.28" r="1.78" fill="#5252d8" stroke="#5252d8" stroke-width="0.8"/><circle cx="406.78" cy="93.20" r="1.78" fill="#5252d8" stroke="#5252d8" stroke-width="0.8"/><circle cx="422.06" cy="93.04" r="1.78" fill="#5252d8" stroke="#5252d8" stroke-width="0.8"/><circle cx="452.62" cy="92.73" r="1.78" fill="#5252d8" stroke="#5252d8" stroke-width="0.8"/><circle cx="513.75" cy="92.11" r="1.78" fill="#5252d8" stroke="#5252d8" stroke-width="0.8"/><polyline points="391.50,93.36 392.45,93.34 393.41,93.33 395.31,93.30 399.14,93.25 406.78,93.15 422.06,92.94 452.62,92.53 513.75,91.70" fill="none" stroke="#6a6ad8" stroke-width="0.85" stroke-opacity="0.8" stroke-dasharray="1.6,1"/><path d="M390.24,93.34H394.66M392.45,91.13V95.55" stroke="#5252d8" stroke-width="1.1" fill="none"/><path d="M391.20,93.33H395.62M393.41,91.12V95.54" stroke="#5252d8" stroke-width="1.1" fill="none"/><path d="M393.10,93.30H397.52M395.31,91.09V95.51" stroke="#5252d8" stroke-width="1.1" fill="none"/><path d="M396.93,93.25H401.35M399.14,91.04V95.46" stroke="#5252d8" stroke-width="1.1" fill="none"/><path d="M404.57,93.15H408.99M406.78,90.94V95.36" stroke="#5252d8" stroke-width="1.1" fill="none"/><path d="M419.85,92.94H424.27M422.06,90.73V95.15" stroke="#5252d8" stroke-width="1.1" fill="none"/><path d="M450.42,92.53H454.83M452.62,90.32V94.74" stroke="#5252d8" stroke-width="1.1" fill="none"/><path d="M511.54,91.70H515.96M513.75,89.49V93.91" stroke="#5252d8" stroke-width="1.1" fill="none"/><polyline points="391.50,93.36 392.45,93.36 393.41,93.36 395.31,92.94 399.14,92.53 406.78,92.11 422.06,91.28 452.62,89.21 513.75,78.52" fill="none" stroke="#6a6ad8" stroke-width="0.85" stroke-opacity="0.8"/><path d="M390.75,91.66L394.15,95.06M394.15,91.66L390.75,95.06" stroke="#5252d8" stroke-width="1.0" fill="none"/><path d="M391.71,91.66L395.11,95.06M395.11,91.66L391.71,95.06" stroke="#5252d8" stroke-width="1.0" fill="none"/><path d="M393.61,91.24L397.01,94.64M397.01,91.24L393.61,94.64" stroke="#5252d8" stroke-width="1.0" fill="none"/><path d="M397.44,90.83L400.84,94.23M400.84,90.83L397.44,94.23" stroke="#5252d8" stroke-width="1.0" fill="none"/><path d="M405.08,90.41L408.48,93.81M408.48,90.41L405.08,93.81" stroke="#5252d8" stroke-width="1.0" fill="none"/><path d="M420.36,89.58L423.76,92.98M423.76,89.58L420.36,92.98" stroke="#5252d8" stroke-width="1.0" fill="none"/><path d="M450.93,87.51L454.32,90.91M454.32,87.51L450.93,90.91" stroke="#5252d8" stroke-width="1.0" fill="none"/><path d="M512.05,76.82L515.45,80.22M515.45,76.82L512.05,80.22" stroke="#5252d8" stroke-width="1.0" fill="none"/><polyline points="391.50,92.53 392.45,92.52 393.41,92.52 395.31,92.51 399.14,92.50 406.78,92.47 422.06,92.42 452.62,92.32 513.75,92.11" fill="none" stroke="#e62c3a" stroke-width="0.85" stroke-opacity="0.75"/><rect x="390.75" y="90.82" width="3.40" height="3.40" fill="#dc1426" stroke="#dc1426" stroke-width="0.8"/><rect x="391.71" y="90.82" width="3.40" height="3.40" fill="#dc1426" stroke="#dc1426" stroke-width="0.8"/><rect x="393.61" y="90.81" width="3.40" height="3.40" fill="#dc1426" stroke="#dc1426" stroke-width="0.8"/><rect x="397.44" y="90.80" width="3.40" height="3.40" fill="#dc1426" stroke="#dc1426" stroke-width="0.8"/><rect x="405.08" y="90.77" width="3.40" height="3.40" fill="#dc1426" stroke="#dc1426" stroke-width="0.8"/><rect x="420.36" y="90.72" width="3.40" height="3.40" fill="#dc1426" stroke="#dc1426" stroke-width="0.8"/><rect x="450.93" y="90.62" width="3.40" height="3.40" fill="#dc1426" stroke="#dc1426" stroke-width="0.8"/><rect x="512.05" y="90.41" width="3.40" height="3.40" fill="#dc1426" stroke="#dc1426" stroke-width="0.8"/><polyline points="391.50,92.53 392.45,92.53 393.41,92.11 395.31,92.11 399.14,91.70 406.78,90.87 422.06,90.04 452.62,88.80 513.75,85.48" fill="none" stroke="#e62c3a" stroke-width="0.85" stroke-opacity="0.75"/><path d="M392.45,90.49L394.49,92.53L392.45,94.57L390.41,92.53Z" fill="#dc1426" stroke="#dc1426" stroke-width="0.8"/><path d="M393.41,90.07L395.45,92.11L393.41,94.15L391.37,92.11Z" fill="#dc1426" stroke="#dc1426" stroke-width="0.8"/><path d="M395.31,90.07L397.35,92.11L395.31,94.15L393.27,92.11Z" fill="#dc1426" stroke="#dc1426" stroke-width="0.8"/><path d="M399.14,89.66L401.18,91.70L399.14,93.74L397.10,91.70Z" fill="#dc1426" stroke="#dc1426" stroke-width="0.8"/><path d="M406.78,88.83L408.82,90.87L406.78,92.91L404.74,90.87Z" fill="#dc1426" stroke="#dc1426" stroke-width="0.8"/><path d="M422.06,88.00L424.10,90.04L422.06,92.08L420.02,90.04Z" fill="#dc1426" stroke="#dc1426" stroke-width="0.8"/><path d="M452.62,86.76L454.67,88.80L452.62,90.84L450.58,88.80Z" fill="#dc1426" stroke="#dc1426" stroke-width="0.8"/><path d="M513.75,83.44L515.79,85.48L513.75,87.52L511.71,85.48Z" fill="#dc1426" stroke="#dc1426" stroke-width="0.8"/><polyline points="391.50,92.53 392.45,92.53 393.41,92.11 395.31,92.11 399.14,91.70 406.78,91.28 422.06,90.45 452.62,89.21 513.75,86.72" fill="none" stroke="#e62c3a" stroke-width="0.85" stroke-opacity="0.75"/><path d="M392.45,90.57L394.32,93.99L390.58,93.99Z" fill="#dc1426" stroke="#dc1426" stroke-width="0.8"/><path d="M393.41,90.16L395.28,93.58L391.54,93.58Z" fill="#dc1426" stroke="#dc1426" stroke-width="0.8"/><path d="M395.31,90.16L397.18,93.58L393.44,93.58Z" fill="#dc1426" stroke="#dc1426" stroke-width="0.8"/><path d="M399.14,89.74L401.01,93.16L397.27,93.16Z" fill="#dc1426" stroke="#dc1426" stroke-width="0.8"/><path d="M406.78,89.33L408.65,92.75L404.91,92.75Z" fill="#dc1426" stroke="#dc1426" stroke-width="0.8"/><path d="M422.06,88.50L423.93,91.92L420.19,91.92Z" fill="#dc1426" stroke="#dc1426" stroke-width="0.8"/><path d="M452.62,87.25L454.50,90.68L450.75,90.68Z" fill="#dc1426" stroke="#dc1426" stroke-width="0.8"/><path d="M513.75,84.77L515.62,88.19L511.88,88.19Z" fill="#dc1426" stroke="#dc1426" stroke-width="0.8"/><polyline points="391.50,92.53 392.45,92.52 393.41,92.52 395.31,92.51 399.14,92.50 406.78,92.47 422.06,92.42 452.62,92.32 513.75,92.11" fill="none" stroke="#e62c3a" stroke-width="0.85" stroke-opacity="0.75"/><circle cx="392.45" cy="92.52" r="1.78" fill="#dc1426" stroke="#dc1426" stroke-width="0.8"/><circle cx="393.41" cy="92.52" r="1.78" fill="#dc1426" stroke="#dc1426" stroke-width="0.8"/><circle cx="395.31" cy="92.51" r="1.78" fill="#dc1426" stroke="#dc1426" stroke-width="0.8"/><circle cx="399.14" cy="92.50" r="1.78" fill="#dc1426" stroke="#dc1426" stroke-width="0.8"/><circle cx="406.78" cy="92.47" r="1.78" fill="#dc1426" stroke="#dc1426" stroke-width="0.8"/><circle cx="422.06" cy="92.42" r="1.78" fill="#dc1426" stroke="#dc1426" stroke-width="0.8"/><circle cx="452.62" cy="92.32" r="1.78" fill="#dc1426" stroke="#dc1426" stroke-width="0.8"/><circle cx="513.75" cy="92.11" r="1.78" fill="#dc1426" stroke="#dc1426" stroke-width="0.8"/><polyline points="391.50,90.87 392.45,88.38 393.41,85.06 395.31,76.78 399.14,64.34 406.78,49.42 422.06,37.40 452.62,26.87 513.75,18.33" fill="none" stroke="#e62c3a" stroke-width="0.85" stroke-opacity="0.75"/><path d="M392.45,90.34L394.32,86.91L390.58,86.91Z" fill="#dc1426" stroke="#dc1426" stroke-width="0.8"/><path d="M393.41,87.02L395.28,83.60L391.54,83.60Z" fill="#dc1426" stroke="#dc1426" stroke-width="0.8"/><path d="M395.31,78.73L397.18,75.31L393.44,75.31Z" fill="#dc1426" stroke="#dc1426" stroke-width="0.8"/><path d="M399.14,66.30L401.01,62.87L397.27,62.87Z" fill="#dc1426" stroke="#dc1426" stroke-width="0.8"/><path d="M406.78,51.37L408.65,47.95L404.91,47.95Z" fill="#dc1426" stroke="#dc1426" stroke-width="0.8"/><path d="M422.06,39.35L423.93,35.93L420.19,35.93Z" fill="#dc1426" stroke="#dc1426" stroke-width="0.8"/><path d="M452.62,28.82L454.50,25.40L450.75,25.40Z" fill="#dc1426" stroke="#dc1426" stroke-width="0.8"/><path d="M513.75,20.29L515.62,16.86L511.88,16.86Z" fill="#dc1426" stroke="#dc1426" stroke-width="0.8"/><text x="65.00" y="145.60" font-size="11" font-weight="bold" textLength="87.50" lengthAdjust="spacingAndGlyphs">ssDNA reactivity</text><path d="M46.50,150.70V233.50H169.70" stroke="#747474" stroke-width="1" fill="none"/><path d="M45.20,233.50H46.5" stroke="#747474" stroke-width="0.9"/><text x="45.50" y="236.40" font-size="8.2" font-weight="bold" text-anchor="end">0.0</text><path d="M45.20,217.00H46.5" stroke="#747474" stroke-width="0.9"/><text x="45.50" y="219.90" font-size="8.2" font-weight="bold" text-anchor="end">0.1</text><path d="M45.20,200.50H46.5" stroke="#747474" stroke-width="0.9"/><text x="45.50" y="203.40" font-size="8.2" font-weight="bold" text-anchor="end">0.2</text><path d="M45.20,184.00H46.5" stroke="#747474" stroke-width="0.9"/><text x="45.50" y="186.90" font-size="8.2" font-weight="bold" text-anchor="end">0.3</text><path d="M45.20,167.50H46.5" stroke="#747474" stroke-width="0.9"/><text x="45.50" y="170.40" font-size="8.2" font-weight="bold" text-anchor="end">0.4</text><path d="M45.20,151.00H46.5" stroke="#747474" stroke-width="0.9"/><text x="45.50" y="153.90" font-size="8.2" font-weight="bold" text-anchor="end">0.5</text><path d="M46.50,233.5V234.80" stroke="#747474" stroke-width="0.9"/><text x="46.70" y="242.60" font-size="8.2" font-weight="bold" text-anchor="middle">0</text><path d="M71.04,233.5V234.80" stroke="#747474" stroke-width="0.9"/><text x="71.24" y="242.60" font-size="8.2" font-weight="bold" text-anchor="middle">1</text><path d="M95.58,233.5V234.80" stroke="#747474" stroke-width="0.9"/><text x="95.78" y="242.60" font-size="8.2" font-weight="bold" text-anchor="middle">2</text><path d="M120.12,233.5V234.80" stroke="#747474" stroke-width="0.9"/><text x="120.32" y="242.60" font-size="8.2" font-weight="bold" text-anchor="middle">3</text><path d="M144.66,233.5V234.80" stroke="#747474" stroke-width="0.9"/><text x="144.86" y="242.60" font-size="8.2" font-weight="bold" text-anchor="middle">4</text><path d="M169.20,233.5V234.80" stroke="#747474" stroke-width="0.9"/><text x="169.40" y="242.60" font-size="8.2" font-weight="bold" text-anchor="middle">5</text><text x="65.90" y="255.00" font-size="8.2" font-weight="bold" textLength="88.90" lengthAdjust="spacingAndGlyphs">Concentration (ug/mL)</text><text transform="translate(30.90,189.60) rotate(-90)" font-size="8.2" font-weight="bold" text-anchor="middle" textLength="26" lengthAdjust="spacingAndGlyphs">OD450</text><polyline points="46.50,222.78 47.46,222.77 48.41,222.77 50.33,222.76 54.17,222.74 61.84,222.71 77.17,222.65 107.85,222.53 169.20,222.28" fill="none" stroke="#6a6ad8" stroke-width="0.85" stroke-opacity="0.8" stroke-dasharray="1.6,1"/><rect x="45.76" y="221.07" width="3.40" height="3.40" fill="#5252d8" stroke="#5252d8" stroke-width="0.8"/><rect x="46.71" y="221.07" width="3.40" height="3.40" fill="#5252d8" stroke="#5252d8" stroke-width="0.8"/><rect x="48.63" y="221.06" width="3.40" height="3.40" fill="#5252d8" stroke="#5252d8" stroke-width="0.8"/><rect x="52.47" y="221.04" width="3.40" height="3.40" fill="#5252d8" stroke="#5252d8" stroke-width="0.8"/><rect x="60.14" y="221.01" width="3.40" height="3.40" fill="#5252d8" stroke="#5252d8" stroke-width="0.8"/><rect x="75.47" y="220.95" width="3.40" height="3.40" fill="#5252d8" stroke="#5252d8" stroke-width="0.8"/><rect x="106.15" y="220.83" width="3.40" height="3.40" fill="#5252d8" stroke="#5252d8" stroke-width="0.8"/><rect x="167.50" y="220.58" width="3.40" height="3.40" fill="#5252d8" stroke="#5252d8" stroke-width="0.8"/><polyline points="46.50,222.78 47.46,222.77 48.41,222.76 50.33,222.75 54.17,222.72 61.84,222.67 77.17,222.57 107.85,222.36 169.20,221.95" fill="none" stroke="#6a6ad8" stroke-width="0.85" stroke-opacity="0.8" stroke-dasharray="1.6,1"/><path d="M47.46,220.81L49.33,224.23L45.59,224.23Z" fill="#5252d8" stroke="#5252d8" stroke-width="0.8"/><path d="M48.41,220.81L50.28,224.23L46.54,224.23Z" fill="#5252d8" stroke="#5252d8" stroke-width="0.8"/><path d="M50.33,220.79L52.20,224.22L48.46,224.22Z" fill="#5252d8" stroke="#5252d8" stroke-width="0.8"/><path d="M54.17,220.77L56.04,224.19L52.30,224.19Z" fill="#5252d8" stroke="#5252d8" stroke-width="0.8"/><path d="M61.84,220.72L63.71,224.14L59.97,224.14Z" fill="#5252d8" stroke="#5252d8" stroke-width="0.8"/><path d="M77.17,220.61L79.05,224.03L75.30,224.03Z" fill="#5252d8" stroke="#5252d8" stroke-width="0.8"/><path d="M107.85,220.41L109.72,223.83L105.98,223.83Z" fill="#5252d8" stroke="#5252d8" stroke-width="0.8"/><path d="M169.20,219.99L171.07,223.42L167.33,223.42Z" fill="#5252d8" stroke="#5252d8" stroke-width="0.8"/><polyline points="46.50,222.28 47.46,222.28 48.41,222.27 50.33,222.27 54.17,222.26 61.84,222.24 77.17,222.20 107.85,222.12 169.20,221.95" fill="none" stroke="#6a6ad8" stroke-width="0.85" stroke-opacity="0.8" stroke-dasharray="1.6,1"/><path d="M47.46,224.23L49.33,220.81L45.59,220.81Z" fill="#5252d8" stroke="#5252d8" stroke-width="0.8"/><path d="M48.41,224.23L50.28,220.81L46.54,220.81Z" fill="#5252d8" stroke="#5252d8" stroke-width="0.8"/><path d="M50.33,224.22L52.20,220.80L48.46,220.80Z" fill="#5252d8" stroke="#5252d8" stroke-width="0.8"/><path d="M54.17,224.21L56.04,220.79L52.30,220.79Z" fill="#5252d8" stroke="#5252d8" stroke-width="0.8"/><path d="M61.84,224.19L63.71,220.77L59.97,220.77Z" fill="#5252d8" stroke="#5252d8" stroke-width="0.8"/><path d="M77.17,224.15L79.05,220.73L75.30,220.73Z" fill="#5252d8" stroke="#5252d8" stroke-width="0.8"/><path d="M107.85,224.07L109.72,220.65L105.98,220.65Z" fill="#5252d8" stroke="#5252d8" stroke-width="0.8"/><path d="M169.20,223.91L171.07,220.48L167.33,220.48Z" fill="#5252d8" stroke="#5252d8" stroke-width="0.8"/><polyline points="46.50,221.95 47.46,221.95 48.41,221.94 50.33,221.94 54.17,221.93 61.84,221.91 77.17,221.87 107.85,221.78 169.20,221.62" fill="none" stroke="#6a6ad8" stroke-width="0.85" stroke-opacity="0.8" stroke-dasharray="1.6,1"/><path d="M47.46,219.91L49.50,221.95L47.46,223.99L45.42,221.95Z" fill="#5252d8" stroke="#5252d8" stroke-width="0.8"/><path d="M48.41,219.90L50.45,221.94L48.41,223.98L46.37,221.94Z" fill="#5252d8" stroke="#5252d8" stroke-width="0.8"/><path d="M50.33,219.90L52.37,221.94L50.33,223.98L48.29,221.94Z" fill="#5252d8" stroke="#5252d8" stroke-width="0.8"/><path d="M54.17,219.89L56.21,221.93L54.17,223.97L52.13,221.93Z" fill="#5252d8" stroke="#5252d8" stroke-width="0.8"/><path d="M61.84,219.87L63.88,221.91L61.84,223.95L59.80,221.91Z" fill="#5252d8" stroke="#5252d8" stroke-width="0.8"/><path d="M77.17,219.83L79.22,221.87L77.17,223.91L75.13,221.87Z" fill="#5252d8" stroke="#5252d8" stroke-width="0.8"/><path d="M107.85,219.75L109.89,221.78L107.85,223.82L105.81,221.78Z" fill="#5252d8" stroke="#5252d8" stroke-width="0.8"/><path d="M169.20,219.58L171.24,221.62L169.20,223.66L167.16,221.62Z" fill="#5252d8" stroke="#5252d8" stroke-width="0.8"/><polyline points="46.50,221.95 47.46,221.94 48.41,221.94 50.33,221.92 54.17,221.90 61.84,221.85 77.17,221.74 107.85,221.54 169.20,221.12" fill="none" stroke="#6a6ad8" stroke-width="0.85" stroke-opacity="0.8" stroke-dasharray="1.6,1"/><circle cx="47.46" cy="221.94" r="1.78" fill="#5252d8" stroke="#5252d8" stroke-width="0.8"/><circle cx="48.41" cy="221.94" r="1.78" fill="#5252d8" stroke="#5252d8" stroke-width="0.8"/><circle cx="50.33" cy="221.92" r="1.78" fill="#5252d8" stroke="#5252d8" stroke-width="0.8"/><circle cx="54.17" cy="221.90" r="1.78" fill="#5252d8" stroke="#5252d8" stroke-width="0.8"/><circle cx="61.84" cy="221.85" r="1.78" fill="#5252d8" stroke="#5252d8" stroke-width="0.8"/><circle cx="77.17" cy="221.74" r="1.78" fill="#5252d8" stroke="#5252d8" stroke-width="0.8"/><circle cx="107.85" cy="221.54" r="1.78" fill="#5252d8" stroke="#5252d8" stroke-width="0.8"/><circle cx="169.20" cy="221.12" r="1.78" fill="#5252d8" stroke="#5252d8" stroke-width="0.8"/><polyline points="46.50,221.12 47.46,221.11 48.41,221.09 50.33,221.05 54.17,220.97 61.84,220.82 77.17,220.51 107.85,219.89 169.20,218.65" fill="none" stroke="#6a6ad8" stroke-width="0.85" stroke-opacity="0.8" stroke-dasharray="1.6,1"/><path d="M45.25,221.11H49.67M47.46,218.90V223.32" stroke="#5252d8" stroke-width="1.1" fill="none"/><path d="M46.20,221.09H50.62M48.41,218.88V223.30" stroke="#5252d8" stroke-width="1.1" fill="none"/><path d="M48.12,221.05H52.54M50.33,218.84V223.26" stroke="#5252d8" stroke-width="1.1" fill="none"/><path d="M51.96,220.97H56.38M54.17,218.76V223.18" stroke="#5252d8" stroke-width="1.1" fill="none"/><path d="M59.63,220.82H64.05M61.84,218.61V223.03" stroke="#5252d8" stroke-width="1.1" fill="none"/><path d="M74.97,220.51H79.38M77.17,218.30V222.72" stroke="#5252d8" stroke-width="1.1" fill="none"/><path d="M105.64,219.89H110.06M107.85,217.68V222.10" stroke="#5252d8" stroke-width="1.1" fill="none"/><path d="M166.99,218.65H171.41M169.20,216.44V220.86" stroke="#5252d8" stroke-width="1.1" fill="none"/><polyline points="46.50,221.12 47.46,221.12 48.41,220.63 50.33,220.30 54.17,219.97 61.84,219.47 77.17,218.65 107.85,216.18 169.20,211.06" fill="none" stroke="#6a6ad8" stroke-width="0.85" stroke-opacity="0.8"/><path d="M45.76,219.43L49.16,222.82M49.16,219.43L45.76,222.82" stroke="#5252d8" stroke-width="1.0" fill="none"/><path d="M46.71,218.93L50.11,222.33M50.11,218.93L46.71,222.33" stroke="#5252d8" stroke-width="1.0" fill="none"/><path d="M48.63,218.60L52.03,222.00M52.03,218.60L48.63,222.00" stroke="#5252d8" stroke-width="1.0" fill="none"/><path d="M52.47,218.27L55.87,221.67M55.87,218.27L52.47,221.67" stroke="#5252d8" stroke-width="1.0" fill="none"/><path d="M60.14,217.78L63.54,221.17M63.54,217.78L60.14,221.17" stroke="#5252d8" stroke-width="1.0" fill="none"/><path d="M75.47,216.95L78.88,220.35M78.88,216.95L75.47,220.35" stroke="#5252d8" stroke-width="1.0" fill="none"/><path d="M106.15,214.48L109.55,217.88M109.55,214.48L106.15,217.88" stroke="#5252d8" stroke-width="1.0" fill="none"/><path d="M167.50,209.36L170.90,212.76M170.90,209.36L167.50,212.76" stroke="#5252d8" stroke-width="1.0" fill="none"/><polyline points="46.50,219.47 47.46,219.47 48.41,219.46 50.33,219.45 54.17,219.42 61.84,219.37 77.17,219.27 107.85,219.06 169.20,218.65" fill="none" stroke="#e62c3a" stroke-width="0.85" stroke-opacity="0.75"/><rect x="45.76" y="217.77" width="3.40" height="3.40" fill="#dc1426" stroke="#dc1426" stroke-width="0.8"/><rect x="46.71" y="217.76" width="3.40" height="3.40" fill="#dc1426" stroke="#dc1426" stroke-width="0.8"/><rect x="48.63" y="217.75" width="3.40" height="3.40" fill="#dc1426" stroke="#dc1426" stroke-width="0.8"/><rect x="52.47" y="217.72" width="3.40" height="3.40" fill="#dc1426" stroke="#dc1426" stroke-width="0.8"/><rect x="60.14" y="217.67" width="3.40" height="3.40" fill="#dc1426" stroke="#dc1426" stroke-width="0.8"/><rect x="75.47" y="217.57" width="3.40" height="3.40" fill="#dc1426" stroke="#dc1426" stroke-width="0.8"/><rect x="106.15" y="217.36" width="3.40" height="3.40" fill="#dc1426" stroke="#dc1426" stroke-width="0.8"/><rect x="167.50" y="216.95" width="3.40" height="3.40" fill="#dc1426" stroke="#dc1426" stroke-width="0.8"/><polyline points="46.50,219.47 47.46,219.15 48.41,218.98 50.33,218.65 54.17,218.32 61.84,217.82 77.17,216.18 107.85,212.88 169.20,206.77" fill="none" stroke="#e62c3a" stroke-width="0.85" stroke-opacity="0.75"/><path d="M47.46,217.11L49.50,219.15L47.46,221.19L45.42,219.15Z" fill="#dc1426" stroke="#dc1426" stroke-width="0.8"/><path d="M48.41,216.94L50.45,218.98L48.41,221.02L46.37,218.98Z" fill="#dc1426" stroke="#dc1426" stroke-width="0.8"/><path d="M50.33,216.61L52.37,218.65L50.33,220.69L48.29,218.65Z" fill="#dc1426" stroke="#dc1426" stroke-width="0.8"/><path d="M54.17,216.28L56.21,218.32L54.17,220.36L52.13,218.32Z" fill="#dc1426" stroke="#dc1426" stroke-width="0.8"/><path d="M61.84,215.78L63.88,217.82L61.84,219.86L59.80,217.82Z" fill="#dc1426" stroke="#dc1426" stroke-width="0.8"/><path d="M77.17,214.14L79.22,216.18L77.17,218.22L75.13,216.18Z" fill="#dc1426" stroke="#dc1426" stroke-width="0.8"/><path d="M107.85,210.84L109.89,212.88L107.85,214.91L105.81,212.88Z" fill="#dc1426" stroke="#dc1426" stroke-width="0.8"/><path d="M169.20,204.73L171.24,206.77L169.20,208.81L167.16,206.77Z" fill="#dc1426" stroke="#dc1426" stroke-width="0.8"/><polyline points="46.50,219.47 47.46,219.31 48.41,219.15 50.33,218.65 54.17,218.32 61.84,217.82 77.17,217.00 107.85,213.53 169.20,211.72" fill="none" stroke="#e62c3a" stroke-width="0.85" stroke-opacity="0.75"/><path d="M47.46,217.35L49.33,220.78L45.59,220.78Z" fill="#dc1426" stroke="#dc1426" stroke-width="0.8"/><path d="M48.41,217.19L50.28,220.61L46.54,220.61Z" fill="#dc1426" stroke="#dc1426" stroke-width="0.8"/><path d="M50.33,216.69L52.20,220.12L48.46,220.12Z" fill="#dc1426" stroke="#dc1426" stroke-width="0.8"/><path d="M54.17,216.36L56.04,219.79L52.30,219.79Z" fill="#dc1426" stroke="#dc1426" stroke-width="0.8"/><path d="M61.84,215.87L63.71,219.29L59.97,219.29Z" fill="#dc1426" stroke="#dc1426" stroke-width="0.8"/><path d="M77.17,215.04L79.05,218.47L75.30,218.47Z" fill="#dc1426" stroke="#dc1426" stroke-width="0.8"/><path d="M107.85,211.58L109.72,215.00L105.98,215.00Z" fill="#dc1426" stroke="#dc1426" stroke-width="0.8"/><path d="M169.20,209.76L171.07,213.19L167.33,213.19Z" fill="#dc1426" stroke="#dc1426" stroke-width="0.8"/><polyline points="46.50,219.47 47.46,219.47 48.41,219.46 50.33,219.44 54.17,219.40 61.84,219.33 77.17,219.19 107.85,218.90 169.20,218.32" fill="none" stroke="#e62c3a" stroke-width="0.85" stroke-opacity="0.75"/><circle cx="47.46" cy="219.47" r="1.78" fill="#dc1426" stroke="#dc1426" stroke-width="0.8"/><circle cx="48.41" cy="219.46" r="1.78" fill="#dc1426" stroke="#dc1426" stroke-width="0.8"/><circle cx="50.33" cy="219.44" r="1.78" fill="#dc1426" stroke="#dc1426" stroke-width="0.8"/><circle cx="54.17" cy="219.40" r="1.78" fill="#dc1426" stroke="#dc1426" stroke-width="0.8"/><circle cx="61.84" cy="219.33" r="1.78" fill="#dc1426" stroke="#dc1426" stroke-width="0.8"/><circle cx="77.17" cy="219.19" r="1.78" fill="#dc1426" stroke="#dc1426" stroke-width="0.8"/><circle cx="107.85" cy="218.90" r="1.78" fill="#dc1426" stroke="#dc1426" stroke-width="0.8"/><circle cx="169.20" cy="218.32" r="1.78" fill="#dc1426" stroke="#dc1426" stroke-width="0.8"/><polyline points="46.50,218.98 47.46,218.98 48.41,218.81 50.33,218.32 54.17,217.50 61.84,216.01 77.17,213.53 107.85,209.25 169.20,203.63" fill="none" stroke="#e62c3a" stroke-width="0.85" stroke-opacity="0.75"/><path d="M47.46,220.94L49.33,217.51L45.59,217.51Z" fill="#dc1426" stroke="#dc1426" stroke-width="0.8"/><path d="M48.41,220.77L50.28,217.35L46.54,217.35Z" fill="#dc1426" stroke="#dc1426" stroke-width="0.8"/><path d="M50.33,220.28L52.20,216.85L48.46,216.85Z" fill="#dc1426" stroke="#dc1426" stroke-width="0.8"/><path d="M54.17,219.45L56.04,216.03L52.30,216.03Z" fill="#dc1426" stroke="#dc1426" stroke-width="0.8"/><path d="M61.84,217.97L63.71,214.54L59.97,214.54Z" fill="#dc1426" stroke="#dc1426" stroke-width="0.8"/><path d="M77.17,215.49L79.05,212.07L75.30,212.07Z" fill="#dc1426" stroke="#dc1426" stroke-width="0.8"/><path d="M107.85,211.20L109.72,207.78L105.98,207.78Z" fill="#dc1426" stroke="#dc1426" stroke-width="0.8"/><path d="M169.20,205.59L171.07,202.17L167.33,202.17Z" fill="#dc1426" stroke="#dc1426" stroke-width="0.8"/><text x="237.70" y="145.60" font-size="11" font-weight="bold" textLength="87.10" lengthAdjust="spacingAndGlyphs">Insulin reactivity</text><path d="M219.50,150.70V233.50H341.90" stroke="#747474" stroke-width="1" fill="none"/><path d="M218.20,233.50H219.5" stroke="#747474" stroke-width="0.9"/><text x="218.50" y="236.40" font-size="8.2" font-weight="bold" text-anchor="end">0.0</text><path d="M218.20,217.00H219.5" stroke="#747474" stroke-width="0.9"/><text x="218.50" y="219.90" font-size="8.2" font-weight="bold" text-anchor="end">0.1</text><path d="M218.20,200.50H219.5" stroke="#747474" stroke-width="0.9"/><text x="218.50" y="203.40" font-size="8.2" font-weight="bold" text-anchor="end">0.2</text><path d="M218.20,184.00H219.5" stroke="#747474" stroke-width="0.9"/><text x="218.50" y="186.90" font-size="8.2" font-weight="bold" text-anchor="end">0.3</text><path d="M218.20,167.50H219.5" stroke="#747474" stroke-width="0.9"/><text x="218.50" y="170.40" font-size="8.2" font-weight="bold" text-anchor="end">0.4</text><path d="M218.20,151.00H219.5" stroke="#747474" stroke-width="0.9"/><text x="218.50" y="153.90" font-size="8.2" font-weight="bold" text-anchor="end">0.5</text><path d="M219.50,233.5V234.80" stroke="#747474" stroke-width="0.9"/><text x="219.70" y="242.60" font-size="8.2" font-weight="bold" text-anchor="middle">0</text><path d="M243.88,233.5V234.80" stroke="#747474" stroke-width="0.9"/><text x="244.08" y="242.60" font-size="8.2" font-weight="bold" text-anchor="middle">1</text><path d="M268.26,233.5V234.80" stroke="#747474" stroke-width="0.9"/><text x="268.46" y="242.60" font-size="8.2" font-weight="bold" text-anchor="middle">2</text><path d="M292.64,233.5V234.80" stroke="#747474" stroke-width="0.9"/><text x="292.84" y="242.60" font-size="8.2" font-weight="bold" text-anchor="middle">3</text><path d="M317.02,233.5V234.80" stroke="#747474" stroke-width="0.9"/><text x="317.22" y="242.60" font-size="8.2" font-weight="bold" text-anchor="middle">4</text><path d="M341.40,233.5V234.80" stroke="#747474" stroke-width="0.9"/><text x="341.60" y="242.60" font-size="8.2" font-weight="bold" text-anchor="middle">5</text><text x="237.90" y="255.00" font-size="8.2" font-weight="bold" textLength="89.40" lengthAdjust="spacingAndGlyphs">Concentration (ug/mL)</text><text transform="translate(203.90,189.60) rotate(-90)" font-size="8.2" font-weight="bold" text-anchor="middle" textLength="26" lengthAdjust="spacingAndGlyphs">OD450</text><polyline points="219.50,225.25 220.45,225.25 221.40,225.24 223.30,225.24 227.12,225.23 234.74,225.21 249.97,225.17 280.45,225.09 341.40,224.92" fill="none" stroke="#6a6ad8" stroke-width="0.85" stroke-opacity="0.8" stroke-dasharray="1.6,1"/><rect x="218.75" y="223.55" width="3.40" height="3.40" fill="#5252d8" stroke="#5252d8" stroke-width="0.8"/><rect x="219.70" y="223.54" width="3.40" height="3.40" fill="#5252d8" stroke="#5252d8" stroke-width="0.8"/><rect x="221.60" y="223.54" width="3.40" height="3.40" fill="#5252d8" stroke="#5252d8" stroke-width="0.8"/><rect x="225.42" y="223.53" width="3.40" height="3.40" fill="#5252d8" stroke="#5252d8" stroke-width="0.8"/><rect x="233.04" y="223.51" width="3.40" height="3.40" fill="#5252d8" stroke="#5252d8" stroke-width="0.8"/><rect x="248.28" y="223.47" width="3.40" height="3.40" fill="#5252d8" stroke="#5252d8" stroke-width="0.8"/><rect x="278.75" y="223.39" width="3.40" height="3.40" fill="#5252d8" stroke="#5252d8" stroke-width="0.8"/><rect x="339.70" y="223.22" width="3.40" height="3.40" fill="#5252d8" stroke="#5252d8" stroke-width="0.8"/><polyline points="219.50,225.25 220.45,225.24 221.40,225.24 223.30,225.22 227.12,225.20 234.74,225.15 249.97,225.04 280.45,224.84 341.40,224.43" fill="none" stroke="#6a6ad8" stroke-width="0.85" stroke-opacity="0.8" stroke-dasharray="1.6,1"/><path d="M220.45,223.29L222.32,226.71L218.58,226.71Z" fill="#5252d8" stroke="#5252d8" stroke-width="0.8"/><path d="M221.40,223.28L223.27,226.70L219.53,226.70Z" fill="#5252d8" stroke="#5252d8" stroke-width="0.8"/><path d="M223.30,223.27L225.17,226.69L221.43,226.69Z" fill="#5252d8" stroke="#5252d8" stroke-width="0.8"/><path d="M227.12,223.24L228.99,226.66L225.25,226.66Z" fill="#5252d8" stroke="#5252d8" stroke-width="0.8"/><path d="M234.74,223.19L236.61,226.61L232.87,226.61Z" fill="#5252d8" stroke="#5252d8" stroke-width="0.8"/><path d="M249.97,223.09L251.84,226.51L248.10,226.51Z" fill="#5252d8" stroke="#5252d8" stroke-width="0.8"/><path d="M280.45,222.88L282.32,226.30L278.58,226.30Z" fill="#5252d8" stroke="#5252d8" stroke-width="0.8"/><path d="M341.40,222.47L343.27,225.89L339.53,225.89Z" fill="#5252d8" stroke="#5252d8" stroke-width="0.8"/><polyline points="219.50,225.25 220.45,225.24 221.40,225.24 223.30,225.22 227.12,225.20 234.74,225.15 249.97,225.04 280.45,224.84 341.40,224.43" fill="none" stroke="#6a6ad8" stroke-width="0.85" stroke-opacity="0.8" stroke-dasharray="1.6,1"/><path d="M220.45,227.20L222.32,223.78L218.58,223.78Z" fill="#5252d8" stroke="#5252d8" stroke-width="0.8"/><path d="M221.40,227.19L223.27,223.77L219.53,223.77Z" fill="#5252d8" stroke="#5252d8" stroke-width="0.8"/><path d="M223.30,227.18L225.17,223.76L221.43,223.76Z" fill="#5252d8" stroke="#5252d8" stroke-width="0.8"/><path d="M227.12,227.15L228.99,223.73L225.25,223.73Z" fill="#5252d8" stroke="#5252d8" stroke-width="0.8"/><path d="M234.74,227.10L236.61,223.68L232.87,223.68Z" fill="#5252d8" stroke="#5252d8" stroke-width="0.8"/><path d="M249.97,227.00L251.84,223.58L248.10,223.58Z" fill="#5252d8" stroke="#5252d8" stroke-width="0.8"/><path d="M280.45,226.79L282.32,223.37L278.58,223.37Z" fill="#5252d8" stroke="#5252d8" stroke-width="0.8"/><path d="M341.40,226.38L343.27,222.96L339.53,222.96Z" fill="#5252d8" stroke="#5252d8" stroke-width="0.8"/><polyline points="219.50,225.25 220.45,225.24 221.40,225.22 223.30,225.20 227.12,225.15 234.74,225.04 249.97,224.84 280.45,224.43 341.40,223.60" fill="none" stroke="#6a6ad8" stroke-width="0.85" stroke-opacity="0.8" stroke-dasharray="1.6,1"/><path d="M220.45,223.20L222.49,225.24L220.45,227.28L218.41,225.24Z" fill="#5252d8" stroke="#5252d8" stroke-width="0.8"/><path d="M221.40,223.18L223.44,225.22L221.40,227.26L219.36,225.22Z" fill="#5252d8" stroke="#5252d8" stroke-width="0.8"/><path d="M223.30,223.16L225.34,225.20L223.30,227.24L221.26,225.20Z" fill="#5252d8" stroke="#5252d8" stroke-width="0.8"/><path d="M227.12,223.11L229.16,225.15L227.12,227.19L225.08,225.15Z" fill="#5252d8" stroke="#5252d8" stroke-width="0.8"/><path d="M234.74,223.00L236.78,225.04L234.74,227.08L232.70,225.04Z" fill="#5252d8" stroke="#5252d8" stroke-width="0.8"/><path d="M249.97,222.80L252.01,224.84L249.97,226.88L247.94,224.84Z" fill="#5252d8" stroke="#5252d8" stroke-width="0.8"/><path d="M280.45,222.39L282.49,224.43L280.45,226.47L278.41,224.43Z" fill="#5252d8" stroke="#5252d8" stroke-width="0.8"/><path d="M341.40,221.56L343.44,223.60L341.40,225.64L339.36,223.60Z" fill="#5252d8" stroke="#5252d8" stroke-width="0.8"/><polyline points="219.50,224.92 220.45,224.88 221.40,224.84 223.30,224.76 227.12,224.60 234.74,224.28 249.97,223.64 280.45,222.36 341.40,219.81" fill="none" stroke="#6a6ad8" stroke-width="0.85" stroke-opacity="0.8" stroke-dasharray="1.6,1"/><circle cx="220.45" cy="224.88" r="1.78" fill="#5252d8" stroke="#5252d8" stroke-width="0.8"/><circle cx="221.40" cy="224.84" r="1.78" fill="#5252d8" stroke="#5252d8" stroke-width="0.8"/><circle cx="223.30" cy="224.76" r="1.78" fill="#5252d8" stroke="#5252d8" stroke-width="0.8"/><circle cx="227.12" cy="224.60" r="1.78" fill="#5252d8" stroke="#5252d8" stroke-width="0.8"/><circle cx="234.74" cy="224.28" r="1.78" fill="#5252d8" stroke="#5252d8" stroke-width="0.8"/><circle cx="249.97" cy="223.64" r="1.78" fill="#5252d8" stroke="#5252d8" stroke-width="0.8"/><circle cx="280.45" cy="222.36" r="1.78" fill="#5252d8" stroke="#5252d8" stroke-width="0.8"/><circle cx="341.40" cy="219.81" r="1.78" fill="#5252d8" stroke="#5252d8" stroke-width="0.8"/><polyline points="219.50,224.43 220.45,224.41 221.40,224.39 223.30,224.35 227.12,224.27 234.74,224.12 249.97,223.81 280.45,223.19 341.40,221.95" fill="none" stroke="#6a6ad8" stroke-width="0.85" stroke-opacity="0.8" stroke-dasharray="1.6,1"/><path d="M218.24,224.41H222.66M220.45,222.20V226.62" stroke="#5252d8" stroke-width="1.1" fill="none"/><path d="M219.19,224.39H223.61M221.40,222.18V226.60" stroke="#5252d8" stroke-width="1.1" fill="none"/><path d="M221.09,224.35H225.51M223.30,222.14V226.56" stroke="#5252d8" stroke-width="1.1" fill="none"/><path d="M224.91,224.27H229.33M227.12,222.06V226.48" stroke="#5252d8" stroke-width="1.1" fill="none"/><path d="M232.53,224.12H236.95M234.74,221.91V226.33" stroke="#5252d8" stroke-width="1.1" fill="none"/><path d="M247.76,223.81H252.19M249.97,221.60V226.02" stroke="#5252d8" stroke-width="1.1" fill="none"/><path d="M278.24,223.19H282.66M280.45,220.98V225.40" stroke="#5252d8" stroke-width="1.1" fill="none"/><path d="M339.19,221.95H343.61M341.40,219.74V224.16" stroke="#5252d8" stroke-width="1.1" fill="none"/><polyline points="219.50,224.43 220.45,224.43 221.40,224.26 223.30,223.93 227.12,223.60 234.74,220.96 249.97,216.50 280.45,204.79 341.40,152.49" fill="none" stroke="#6a6ad8" stroke-width="0.85" stroke-opacity="0.8"/><path d="M218.75,222.73L222.15,226.12M222.15,222.73L218.75,226.12" stroke="#5252d8" stroke-width="1.0" fill="none"/><path d="M219.70,222.56L223.10,225.96M223.10,222.56L219.70,225.96" stroke="#5252d8" stroke-width="1.0" fill="none"/><path d="M221.60,222.23L225.00,225.63M225.00,222.23L221.60,225.63" stroke="#5252d8" stroke-width="1.0" fill="none"/><path d="M225.42,221.90L228.82,225.30M228.82,221.90L225.42,225.30" stroke="#5252d8" stroke-width="1.0" fill="none"/><path d="M233.04,219.26L236.44,222.66M236.44,219.26L233.04,222.66" stroke="#5252d8" stroke-width="1.0" fill="none"/><path d="M248.28,214.81L251.67,218.20M251.67,214.81L248.28,218.20" stroke="#5252d8" stroke-width="1.0" fill="none"/><path d="M278.75,203.09L282.15,206.49M282.15,203.09L278.75,206.49" stroke="#5252d8" stroke-width="1.0" fill="none"/><path d="M339.70,150.79L343.10,154.19M343.10,150.79L339.70,154.19" stroke="#5252d8" stroke-width="1.0" fill="none"/><polyline points="219.50,225.25 220.45,225.25 221.40,225.24 223.30,225.24 227.12,225.23 234.74,225.21 249.97,225.17 280.45,225.09 341.40,224.92" fill="none" stroke="#e62c3a" stroke-width="0.85" stroke-opacity="0.75"/><rect x="218.75" y="223.55" width="3.40" height="3.40" fill="#dc1426" stroke="#dc1426" stroke-width="0.8"/><rect x="219.70" y="223.54" width="3.40" height="3.40" fill="#dc1426" stroke="#dc1426" stroke-width="0.8"/><rect x="221.60" y="223.54" width="3.40" height="3.40" fill="#dc1426" stroke="#dc1426" stroke-width="0.8"/><rect x="225.42" y="223.53" width="3.40" height="3.40" fill="#dc1426" stroke="#dc1426" stroke-width="0.8"/><rect x="233.04" y="223.51" width="3.40" height="3.40" fill="#dc1426" stroke="#dc1426" stroke-width="0.8"/><rect x="248.28" y="223.47" width="3.40" height="3.40" fill="#dc1426" stroke="#dc1426" stroke-width="0.8"/><rect x="278.75" y="223.39" width="3.40" height="3.40" fill="#dc1426" stroke="#dc1426" stroke-width="0.8"/><rect x="339.70" y="223.22" width="3.40" height="3.40" fill="#dc1426" stroke="#dc1426" stroke-width="0.8"/><polyline points="219.50,223.60 220.45,223.60 221.40,223.60 223.30,223.60 227.12,223.27 234.74,222.94 249.97,222.28 280.45,221.12 341.40,217.33" fill="none" stroke="#e62c3a" stroke-width="0.85" stroke-opacity="0.75"/><path d="M220.45,221.56L222.49,223.60L220.45,225.64L218.41,223.60Z" fill="#dc1426" stroke="#dc1426" stroke-width="0.8"/><path d="M221.40,221.56L223.44,223.60L221.40,225.64L219.36,223.60Z" fill="#dc1426" stroke="#dc1426" stroke-width="0.8"/><path d="M223.30,221.56L225.34,223.60L223.30,225.64L221.26,223.60Z" fill="#dc1426" stroke="#dc1426" stroke-width="0.8"/><path d="M227.12,221.23L229.16,223.27L227.12,225.31L225.08,223.27Z" fill="#dc1426" stroke="#dc1426" stroke-width="0.8"/><path d="M234.74,220.90L236.78,222.94L234.74,224.98L232.70,222.94Z" fill="#dc1426" stroke="#dc1426" stroke-width="0.8"/><path d="M249.97,220.24L252.01,222.28L249.97,224.32L247.94,222.28Z" fill="#dc1426" stroke="#dc1426" stroke-width="0.8"/><path d="M280.45,219.09L282.49,221.12L280.45,223.16L278.41,221.12Z" fill="#dc1426" stroke="#dc1426" stroke-width="0.8"/><path d="M341.40,215.29L343.44,217.33L341.40,219.37L339.36,217.33Z" fill="#dc1426" stroke="#dc1426" stroke-width="0.8"/><polyline points="219.50,223.60 220.45,223.60 221.40,223.60 223.30,223.27 227.12,222.94 234.74,222.61 249.97,221.95 280.45,218.49 341.40,211.06" fill="none" stroke="#e62c3a" stroke-width="0.85" stroke-opacity="0.75"/><path d="M220.45,221.64L222.32,225.07L218.58,225.07Z" fill="#dc1426" stroke="#dc1426" stroke-width="0.8"/><path d="M221.40,221.64L223.27,225.07L219.53,225.07Z" fill="#dc1426" stroke="#dc1426" stroke-width="0.8"/><path d="M223.30,221.31L225.17,224.74L221.43,224.74Z" fill="#dc1426" stroke="#dc1426" stroke-width="0.8"/><path d="M227.12,220.98L228.99,224.41L225.25,224.41Z" fill="#dc1426" stroke="#dc1426" stroke-width="0.8"/><path d="M234.74,220.66L236.61,224.08L232.87,224.08Z" fill="#dc1426" stroke="#dc1426" stroke-width="0.8"/><path d="M249.97,219.99L251.84,223.42L248.10,223.42Z" fill="#dc1426" stroke="#dc1426" stroke-width="0.8"/><path d="M280.45,216.53L282.32,219.95L278.58,219.95Z" fill="#dc1426" stroke="#dc1426" stroke-width="0.8"/><path d="M341.40,209.10L343.27,212.53L339.53,212.53Z" fill="#dc1426" stroke="#dc1426" stroke-width="0.8"/><polyline points="219.50,224.43 220.45,224.43 221.40,224.43 223.30,224.43 227.12,224.43 234.74,224.43 249.97,224.43 280.45,224.43 341.40,224.43" fill="none" stroke="#e62c3a" stroke-width="0.85" stroke-opacity="0.75"/><circle cx="220.45" cy="224.43" r="1.78" fill="#dc1426" stroke="#dc1426" stroke-width="0.8"/><circle cx="221.40" cy="224.43" r="1.78" fill="#dc1426" stroke="#dc1426" stroke-width="0.8"/><circle cx="223.30" cy="224.43" r="1.78" fill="#dc1426" stroke="#dc1426" stroke-width="0.8"/><circle cx="227.12" cy="224.43" r="1.78" fill="#dc1426" stroke="#dc1426" stroke-width="0.8"/><circle cx="234.74" cy="224.43" r="1.78" fill="#dc1426" stroke="#dc1426" stroke-width="0.8"/><circle cx="249.97" cy="224.43" r="1.78" fill="#dc1426" stroke="#dc1426" stroke-width="0.8"/><circle cx="280.45" cy="224.43" r="1.78" fill="#dc1426" stroke="#dc1426" stroke-width="0.8"/><circle cx="341.40" cy="224.43" r="1.78" fill="#dc1426" stroke="#dc1426" stroke-width="0.8"/><polyline points="219.50,222.78 220.45,222.28 221.40,221.95 223.30,221.12 227.12,218.49 234.74,212.71 249.97,204.13 280.45,191.92 341.40,166.18" fill="none" stroke="#e62c3a" stroke-width="0.85" stroke-opacity="0.75"/><path d="M220.45,224.24L222.32,220.81L218.58,220.81Z" fill="#dc1426" stroke="#dc1426" stroke-width="0.8"/><path d="M221.40,223.91L223.27,220.48L219.53,220.48Z" fill="#dc1426" stroke="#dc1426" stroke-width="0.8"/><path d="M223.30,223.08L225.17,219.66L221.43,219.66Z" fill="#dc1426" stroke="#dc1426" stroke-width="0.8"/><path d="M227.12,220.44L228.99,217.02L225.25,217.02Z" fill="#dc1426" stroke="#dc1426" stroke-width="0.8"/><path d="M234.74,214.67L236.61,211.24L232.87,211.24Z" fill="#dc1426" stroke="#dc1426" stroke-width="0.8"/><path d="M249.97,206.09L251.84,202.66L248.10,202.66Z" fill="#dc1426" stroke="#dc1426" stroke-width="0.8"/><path d="M280.45,193.88L282.32,190.45L278.58,190.45Z" fill="#dc1426" stroke="#dc1426" stroke-width="0.8"/><path d="M341.40,168.14L343.27,164.71L339.53,164.71Z" fill="#dc1426" stroke="#dc1426" stroke-width="0.8"/><text x="417.30" y="145.60" font-size="11" font-weight="bold" textLength="72.70" lengthAdjust="spacingAndGlyphs">LPS reactivity</text><path d="M391.50,150.70V233.50H514.25" stroke="#747474" stroke-width="1" fill="none"/><path d="M390.20,233.50H391.5" stroke="#747474" stroke-width="0.9"/><text x="390.50" y="236.40" font-size="8.2" font-weight="bold" text-anchor="end">0.0</text><path d="M390.20,217.00H391.5" stroke="#747474" stroke-width="0.9"/><text x="390.50" y="219.90" font-size="8.2" font-weight="bold" text-anchor="end">0.1</text><path d="M390.20,200.50H391.5" stroke="#747474" stroke-width="0.9"/><text x="390.50" y="203.40" font-size="8.2" font-weight="bold" text-anchor="end">0.2</text><path d="M390.20,184.00H391.5" stroke="#747474" stroke-width="0.9"/><text x="390.50" y="186.90" font-size="8.2" font-weight="bold" text-anchor="end">0.3</text><path d="M390.20,167.50H391.5" stroke="#747474" stroke-width="0.9"/><text x="390.50" y="170.40" font-size="8.2" font-weight="bold" text-anchor="end">0.4</text><path d="M390.20,151.00H391.5" stroke="#747474" stroke-width="0.9"/><text x="390.50" y="153.90" font-size="8.2" font-weight="bold" text-anchor="end">0.5</text><path d="M391.50,233.5V234.80" stroke="#747474" stroke-width="0.9"/><text x="391.70" y="242.60" font-size="8.2" font-weight="bold" text-anchor="middle">0</text><path d="M415.95,233.5V234.80" stroke="#747474" stroke-width="0.9"/><text x="416.15" y="242.60" font-size="8.2" font-weight="bold" text-anchor="middle">1</text><path d="M440.40,233.5V234.80" stroke="#747474" stroke-width="0.9"/><text x="440.60" y="242.60" font-size="8.2" font-weight="bold" text-anchor="middle">2</text><path d="M464.85,233.5V234.80" stroke="#747474" stroke-width="0.9"/><text x="465.05" y="242.60" font-size="8.2" font-weight="bold" text-anchor="middle">3</text><path d="M489.30,233.5V234.80" stroke="#747474" stroke-width="0.9"/><text x="489.50" y="242.60" font-size="8.2" font-weight="bold" text-anchor="middle">4</text><path d="M513.75,233.5V234.80" stroke="#747474" stroke-width="0.9"/><text x="513.95" y="242.60" font-size="8.2" font-weight="bold" text-anchor="middle">5</text><text x="410.20" y="255.00" font-size="8.2" font-weight="bold" textLength="90.00" lengthAdjust="spacingAndGlyphs">Concentration (ug/mL)</text><text transform="translate(375.90,189.60) rotate(-90)" font-size="8.2" font-weight="bold" text-anchor="middle" textLength="26" lengthAdjust="spacingAndGlyphs">OD450</text><polyline points="391.50,225.25 392.45,225.25 393.41,225.25 395.31,225.25 399.14,225.25 406.78,225.25 422.06,225.25 452.62,225.25 513.75,225.25" fill="none" stroke="#6a6ad8" stroke-width="0.85" stroke-opacity="0.8" stroke-dasharray="1.6,1"/><rect x="390.75" y="223.55" width="3.40" height="3.40" fill="#5252d8" stroke="#5252d8" stroke-width="0.8"/><rect x="391.71" y="223.55" width="3.40" height="3.40" fill="#5252d8" stroke="#5252d8" stroke-width="0.8"/><rect x="393.61" y="223.55" width="3.40" height="3.40" fill="#5252d8" stroke="#5252d8" stroke-width="0.8"/><rect x="397.44" y="223.55" width="3.40" height="3.40" fill="#5252d8" stroke="#5252d8" stroke-width="0.8"/><rect x="405.08" y="223.55" width="3.40" height="3.40" fill="#5252d8" stroke="#5252d8" stroke-width="0.8"/><rect x="420.36" y="223.55" width="3.40" height="3.40" fill="#5252d8" stroke="#5252d8" stroke-width="0.8"/><rect x="450.93" y="223.55" width="3.40" height="3.40" fill="#5252d8" stroke="#5252d8" stroke-width="0.8"/><rect x="512.05" y="223.55" width="3.40" height="3.40" fill="#5252d8" stroke="#5252d8" stroke-width="0.8"/><polyline points="391.50,225.25 392.45,225.25 393.41,225.24 395.31,225.24 399.14,225.23 406.78,225.21 422.06,225.17 452.62,225.09 513.75,224.92" fill="none" stroke="#6a6ad8" stroke-width="0.85" stroke-opacity="0.8" stroke-dasharray="1.6,1"/><path d="M392.45,223.29L394.32,226.71L390.58,226.71Z" fill="#5252d8" stroke="#5252d8" stroke-width="0.8"/><path d="M393.41,223.29L395.28,226.71L391.54,226.71Z" fill="#5252d8" stroke="#5252d8" stroke-width="0.8"/><path d="M395.31,223.28L397.18,226.71L393.44,226.71Z" fill="#5252d8" stroke="#5252d8" stroke-width="0.8"/><path d="M399.14,223.27L401.01,226.70L397.27,226.70Z" fill="#5252d8" stroke="#5252d8" stroke-width="0.8"/><path d="M406.78,223.25L408.65,226.68L404.91,226.68Z" fill="#5252d8" stroke="#5252d8" stroke-width="0.8"/><path d="M422.06,223.21L423.93,226.63L420.19,226.63Z" fill="#5252d8" stroke="#5252d8" stroke-width="0.8"/><path d="M452.62,223.13L454.50,226.55L450.75,226.55Z" fill="#5252d8" stroke="#5252d8" stroke-width="0.8"/><path d="M513.75,222.96L515.62,226.39L511.88,226.39Z" fill="#5252d8" stroke="#5252d8" stroke-width="0.8"/><polyline points="391.50,225.25 392.45,225.25 393.41,225.24 395.31,225.24 399.14,225.23 406.78,225.21 422.06,225.17 452.62,225.09 513.75,224.92" fill="none" stroke="#6a6ad8" stroke-width="0.85" stroke-opacity="0.8" stroke-dasharray="1.6,1"/><path d="M392.45,227.20L394.32,223.78L390.58,223.78Z" fill="#5252d8" stroke="#5252d8" stroke-width="0.8"/><path d="M393.41,227.20L395.28,223.78L391.54,223.78Z" fill="#5252d8" stroke="#5252d8" stroke-width="0.8"/><path d="M395.31,227.19L397.18,223.77L393.44,223.77Z" fill="#5252d8" stroke="#5252d8" stroke-width="0.8"/><path d="M399.14,227.18L401.01,223.76L397.27,223.76Z" fill="#5252d8" stroke="#5252d8" stroke-width="0.8"/><path d="M406.78,227.16L408.65,223.74L404.91,223.74Z" fill="#5252d8" stroke="#5252d8" stroke-width="0.8"/><path d="M422.06,227.12L423.93,223.70L420.19,223.70Z" fill="#5252d8" stroke="#5252d8" stroke-width="0.8"/><path d="M452.62,227.04L454.50,223.62L450.75,223.62Z" fill="#5252d8" stroke="#5252d8" stroke-width="0.8"/><path d="M513.75,226.88L515.62,223.45L511.88,223.45Z" fill="#5252d8" stroke="#5252d8" stroke-width="0.8"/><polyline points="391.50,225.25 392.45,225.24 393.41,225.24 395.31,225.22 399.14,225.20 406.78,225.15 422.06,225.04 452.62,224.84 513.75,224.43" fill="none" stroke="#6a6ad8" stroke-width="0.85" stroke-opacity="0.8" stroke-dasharray="1.6,1"/><path d="M392.45,223.20L394.49,225.24L392.45,227.28L390.41,225.24Z" fill="#5252d8" stroke="#5252d8" stroke-width="0.8"/><path d="M393.41,223.20L395.45,225.24L393.41,227.28L391.37,225.24Z" fill="#5252d8" stroke="#5252d8" stroke-width="0.8"/><path d="M395.31,223.18L397.35,225.22L395.31,227.26L393.27,225.22Z" fill="#5252d8" stroke="#5252d8" stroke-width="0.8"/><path d="M399.14,223.16L401.18,225.20L399.14,227.24L397.10,225.20Z" fill="#5252d8" stroke="#5252d8" stroke-width="0.8"/><path d="M406.78,223.11L408.82,225.15L406.78,227.19L404.74,225.15Z" fill="#5252d8" stroke="#5252d8" stroke-width="0.8"/><path d="M422.06,223.00L424.10,225.04L422.06,227.08L420.02,225.04Z" fill="#5252d8" stroke="#5252d8" stroke-width="0.8"/><path d="M452.62,222.80L454.67,224.84L452.62,226.88L450.58,224.84Z" fill="#5252d8" stroke="#5252d8" stroke-width="0.8"/><path d="M513.75,222.39L515.79,224.43L513.75,226.47L511.71,224.43Z" fill="#5252d8" stroke="#5252d8" stroke-width="0.8"/><polyline points="391.50,224.92 392.45,224.92 393.41,224.91 395.31,224.90 399.14,224.89 406.78,224.86 422.06,224.80 452.62,224.67 513.75,224.43" fill="none" stroke="#6a6ad8" stroke-width="0.85" stroke-opacity="0.8" stroke-dasharray="1.6,1"/><circle cx="392.45" cy="224.92" r="1.78" fill="#5252d8" stroke="#5252d8" stroke-width="0.8"/><circle cx="393.41" cy="224.91" r="1.78" fill="#5252d8" stroke="#5252d8" stroke-width="0.8"/><circle cx="395.31" cy="224.90" r="1.78" fill="#5252d8" stroke="#5252d8" stroke-width="0.8"/><circle cx="399.14" cy="224.89" r="1.78" fill="#5252d8" stroke="#5252d8" stroke-width="0.8"/><circle cx="406.78" cy="224.86" r="1.78" fill="#5252d8" stroke="#5252d8" stroke-width="0.8"/><circle cx="422.06" cy="224.80" r="1.78" fill="#5252d8" stroke="#5252d8" stroke-width="0.8"/><circle cx="452.62" cy="224.67" r="1.78" fill="#5252d8" stroke="#5252d8" stroke-width="0.8"/><circle cx="513.75" cy="224.43" r="1.78" fill="#5252d8" stroke="#5252d8" stroke-width="0.8"/><polyline points="391.50,224.43 392.45,224.42 393.41,224.41 395.31,224.40 399.14,224.37 406.78,224.32 422.06,224.22 452.62,224.01 513.75,223.60" fill="none" stroke="#6a6ad8" stroke-width="0.85" stroke-opacity="0.8" stroke-dasharray="1.6,1"/><path d="M390.24,224.42H394.66M392.45,222.21V226.63" stroke="#5252d8" stroke-width="1.1" fill="none"/><path d="M391.20,224.41H395.62M393.41,222.20V226.62" stroke="#5252d8" stroke-width="1.1" fill="none"/><path d="M393.10,224.40H397.52M395.31,222.19V226.61" stroke="#5252d8" stroke-width="1.1" fill="none"/><path d="M396.93,224.37H401.35M399.14,222.16V226.58" stroke="#5252d8" stroke-width="1.1" fill="none"/><path d="M404.57,224.32H408.99M406.78,222.11V226.53" stroke="#5252d8" stroke-width="1.1" fill="none"/><path d="M419.85,224.22H424.27M422.06,222.01V226.43" stroke="#5252d8" stroke-width="1.1" fill="none"/><path d="M450.42,224.01H454.83M452.62,221.80V226.22" stroke="#5252d8" stroke-width="1.1" fill="none"/><path d="M511.54,223.60H515.96M513.75,221.39V225.81" stroke="#5252d8" stroke-width="1.1" fill="none"/><polyline points="391.50,224.43 392.45,224.43 393.41,224.26 395.31,223.93 399.14,223.60 406.78,222.94 422.06,221.95 452.62,219.81 513.75,214.19" fill="none" stroke="#6a6ad8" stroke-width="0.85" stroke-opacity="0.8"/><path d="M390.75,222.73L394.15,226.12M394.15,222.73L390.75,226.12" stroke="#5252d8" stroke-width="1.0" fill="none"/><path d="M391.71,222.56L395.11,225.96M395.11,222.56L391.71,225.96" stroke="#5252d8" stroke-width="1.0" fill="none"/><path d="M393.61,222.23L397.01,225.63M397.01,222.23L393.61,225.63" stroke="#5252d8" stroke-width="1.0" fill="none"/><path d="M397.44,221.90L400.84,225.30M400.84,221.90L397.44,225.30" stroke="#5252d8" stroke-width="1.0" fill="none"/><path d="M405.08,221.24L408.48,224.64M408.48,221.24L405.08,224.64" stroke="#5252d8" stroke-width="1.0" fill="none"/><path d="M420.36,220.25L423.76,223.65M423.76,220.25L420.36,223.65" stroke="#5252d8" stroke-width="1.0" fill="none"/><path d="M450.93,218.11L454.32,221.50M454.32,218.11L450.93,221.50" stroke="#5252d8" stroke-width="1.0" fill="none"/><path d="M512.05,212.50L515.45,215.89M515.45,212.50L512.05,215.89" stroke="#5252d8" stroke-width="1.0" fill="none"/><polyline points="391.50,224.43 392.45,224.43 393.41,224.43 395.31,224.43 399.14,224.43 406.78,224.43 422.06,224.43 452.62,224.43 513.75,224.43" fill="none" stroke="#e62c3a" stroke-width="0.85" stroke-opacity="0.75"/><rect x="390.75" y="222.73" width="3.40" height="3.40" fill="#dc1426" stroke="#dc1426" stroke-width="0.8"/><rect x="391.71" y="222.73" width="3.40" height="3.40" fill="#dc1426" stroke="#dc1426" stroke-width="0.8"/><rect x="393.61" y="222.73" width="3.40" height="3.40" fill="#dc1426" stroke="#dc1426" stroke-width="0.8"/><rect x="397.44" y="222.73" width="3.40" height="3.40" fill="#dc1426" stroke="#dc1426" stroke-width="0.8"/><rect x="405.08" y="222.73" width="3.40" height="3.40" fill="#dc1426" stroke="#dc1426" stroke-width="0.8"/><rect x="420.36" y="222.73" width="3.40" height="3.40" fill="#dc1426" stroke="#dc1426" stroke-width="0.8"/><rect x="450.93" y="222.73" width="3.40" height="3.40" fill="#dc1426" stroke="#dc1426" stroke-width="0.8"/><rect x="512.05" y="222.73" width="3.40" height="3.40" fill="#dc1426" stroke="#dc1426" stroke-width="0.8"/><polyline points="391.50,224.43 392.45,224.42 393.41,224.41 395.31,224.40 399.14,224.37 406.78,224.32 422.06,224.22 452.62,224.01 513.75,223.60" fill="none" stroke="#e62c3a" stroke-width="0.85" stroke-opacity="0.75"/><path d="M392.45,222.38L394.49,224.42L392.45,226.46L390.41,224.42Z" fill="#dc1426" stroke="#dc1426" stroke-width="0.8"/><path d="M393.41,222.37L395.45,224.41L393.41,226.45L391.37,224.41Z" fill="#dc1426" stroke="#dc1426" stroke-width="0.8"/><path d="M395.31,222.36L397.35,224.40L395.31,226.44L393.27,224.40Z" fill="#dc1426" stroke="#dc1426" stroke-width="0.8"/><path d="M399.14,222.33L401.18,224.37L399.14,226.41L397.10,224.37Z" fill="#dc1426" stroke="#dc1426" stroke-width="0.8"/><path d="M406.78,222.28L408.82,224.32L406.78,226.36L404.74,224.32Z" fill="#dc1426" stroke="#dc1426" stroke-width="0.8"/><path d="M422.06,222.18L424.10,224.22L422.06,226.26L420.02,224.22Z" fill="#dc1426" stroke="#dc1426" stroke-width="0.8"/><path d="M452.62,221.97L454.67,224.01L452.62,226.05L450.58,224.01Z" fill="#dc1426" stroke="#dc1426" stroke-width="0.8"/><path d="M513.75,221.56L515.79,223.60L513.75,225.64L511.71,223.60Z" fill="#dc1426" stroke="#dc1426" stroke-width="0.8"/><polyline points="391.50,224.43 392.45,224.42 393.41,224.42 395.31,224.41 399.14,224.39 406.78,224.36 422.06,224.30 452.62,224.18 513.75,223.93" fill="none" stroke="#e62c3a" stroke-width="0.85" stroke-opacity="0.75"/><path d="M392.45,222.47L394.32,225.89L390.58,225.89Z" fill="#dc1426" stroke="#dc1426" stroke-width="0.8"/><path d="M393.41,222.46L395.28,225.88L391.54,225.88Z" fill="#dc1426" stroke="#dc1426" stroke-width="0.8"/><path d="M395.31,222.45L397.18,225.88L393.44,225.88Z" fill="#dc1426" stroke="#dc1426" stroke-width="0.8"/><path d="M399.14,222.44L401.01,225.86L397.27,225.86Z" fill="#dc1426" stroke="#dc1426" stroke-width="0.8"/><path d="M406.78,222.41L408.65,225.83L404.91,225.83Z" fill="#dc1426" stroke="#dc1426" stroke-width="0.8"/><path d="M422.06,222.35L423.93,225.77L420.19,225.77Z" fill="#dc1426" stroke="#dc1426" stroke-width="0.8"/><path d="M452.62,222.22L454.50,225.64L450.75,225.64Z" fill="#dc1426" stroke="#dc1426" stroke-width="0.8"/><path d="M513.75,221.97L515.62,225.40L511.88,225.40Z" fill="#dc1426" stroke="#dc1426" stroke-width="0.8"/><polyline points="391.50,223.93 392.45,223.93 393.41,223.93 395.31,223.93 399.14,223.93 406.78,223.93 422.06,223.93 452.62,223.93 513.75,223.93" fill="none" stroke="#e62c3a" stroke-width="0.85" stroke-opacity="0.75"/><circle cx="392.45" cy="223.93" r="1.78" fill="#dc1426" stroke="#dc1426" stroke-width="0.8"/><circle cx="393.41" cy="223.93" r="1.78" fill="#dc1426" stroke="#dc1426" stroke-width="0.8"/><circle cx="395.31" cy="223.93" r="1.78" fill="#dc1426" stroke="#dc1426" stroke-width="0.8"/><circle cx="399.14" cy="223.93" r="1.78" fill="#dc1426" stroke="#dc1426" stroke-width="0.8"/><circle cx="406.78" cy="223.93" r="1.78" fill="#dc1426" stroke="#dc1426" stroke-width="0.8"/><circle cx="422.06" cy="223.93" r="1.78" fill="#dc1426" stroke="#dc1426" stroke-width="0.8"/><circle cx="452.62" cy="223.93" r="1.78" fill="#dc1426" stroke="#dc1426" stroke-width="0.8"/><circle cx="513.75" cy="223.93" r="1.78" fill="#dc1426" stroke="#dc1426" stroke-width="0.8"/><polyline points="391.50,223.93 392.45,223.93 393.41,223.60 395.31,223.27 399.14,222.78 406.78,221.95 422.06,220.30 452.62,217.82 513.75,210.24" fill="none" stroke="#e62c3a" stroke-width="0.85" stroke-opacity="0.75"/><path d="M392.45,225.89L394.32,222.46L390.58,222.46Z" fill="#dc1426" stroke="#dc1426" stroke-width="0.8"/><path d="M393.41,225.56L395.28,222.13L391.54,222.13Z" fill="#dc1426" stroke="#dc1426" stroke-width="0.8"/><path d="M395.31,225.23L397.18,221.80L393.44,221.80Z" fill="#dc1426" stroke="#dc1426" stroke-width="0.8"/><path d="M399.14,224.73L401.01,221.31L397.27,221.31Z" fill="#dc1426" stroke="#dc1426" stroke-width="0.8"/><path d="M406.78,223.91L408.65,220.48L404.91,220.48Z" fill="#dc1426" stroke="#dc1426" stroke-width="0.8"/><path d="M422.06,222.26L423.93,218.83L420.19,218.83Z" fill="#dc1426" stroke="#dc1426" stroke-width="0.8"/><path d="M452.62,219.78L454.50,216.36L450.75,216.36Z" fill="#dc1426" stroke="#dc1426" stroke-width="0.8"/><path d="M513.75,212.19L515.62,208.77L511.88,208.77Z" fill="#dc1426" stroke="#dc1426" stroke-width="0.8"/><path d="M122.10,273.30H136.70" stroke="#5050e8" stroke-width="1.1"/><rect x="125.20" y="269.20" width="8.4" height="8.2" fill="#5050e8"/><text x="138.50" y="276.10" font-size="8.3" fill="#474747">M5</text><path d="M165.20,273.30H179.80" stroke="#5050e8" stroke-width="1.1"/><path d="M172.50,268.70L176.90,277.30L168.10,277.30Z" fill="#5050e8"/><text x="182.50" y="276.10" font-size="8.3" fill="#474747">M6</text><path d="M211.20,273.30H225.80" stroke="#5050e8" stroke-width="1.1"/><path d="M218.50,277.60L222.70,269.70L214.30,269.70Z" fill="#5050e8"/><text x="227.50" y="276.10" font-size="8.3" fill="#474747">M8</text><path d="M256.45,273.30H271.05" stroke="#5050e8" stroke-width="1.1"/><path d="M263.75,269.40L268.05,273.30L263.75,277.20L259.45,273.30Z" fill="#5050e8"/><text x="273.10" y="276.10" font-size="8.3" fill="#474747">M11</text><path d="M301.60,273.30H316.20" stroke="#5050e8" stroke-width="1.1"/><circle cx="308.90" cy="273.30" r="4.1" fill="#5050e8"/><text x="317.75" y="276.10" font-size="8.3" fill="#474747">M14</text><path d="M352.65,273.30H365.85M359.25,268.40V278.20" stroke="#5050e8" stroke-width="2.1"/><text x="369.40" y="276.10" font-size="8.3" fill="#474747">M22</text><path d="M402.20,273.30H416.80" stroke="#5050e8" stroke-width="1.1"/><path d="M404.60,268.80L414.40,277.80M414.40,268.80L404.60,277.80" stroke="#5050e8" stroke-width="2.0"/><text x="418.50" y="276.10" font-size="8.3" fill="#474747">M23</text><path d="M121.30,291.80H135.90" stroke="#ee1520" stroke-width="1.1"/><rect x="124.40" y="287.70" width="8.4" height="8.2" fill="#ee1520"/><text x="138.00" y="294.60" font-size="8.3" fill="#474747">CLL9</text><path d="M166.10,291.80H180.70" stroke="#ee1520" stroke-width="1.1"/><path d="M173.40,287.90L177.70,291.80L173.40,295.70L169.10,291.80Z" fill="#ee1520"/><text x="181.90" y="294.60" font-size="8.3" fill="#474747">CLL19</text><path d="M210.50,291.80H225.10" stroke="#ee1520" stroke-width="1.1"/><path d="M217.80,296.10L222.00,288.20L213.60,288.20Z" fill="#ee1520"/><text x="226.90" y="294.60" font-size="8.3" fill="#474747">CLL46</text><path d="M256.20,291.80H270.80" stroke="#ee1520" stroke-width="1.1"/><path d="M263.50,287.20L267.90,295.80L259.10,295.80Z" fill="#ee1520"/><text x="272.50" y="294.60" font-size="8.3" fill="#474747">CLL55</text><path d="M301.45,291.80H316.05" stroke="#ee1520" stroke-width="1.1"/><circle cx="308.75" cy="291.80" r="4.1" fill="#ee1520"/><text x="318.10" y="294.60" font-size="8.3" fill="#474747">Anti-RhD</text><text x="0.3" y="334.1" font-size="18.6" font-weight="bold">B</text><text x="0.7" y="14.0" font-size="18.4" font-weight="bold">A</text><text x="105.00" y="330.9" font-size="13.6" font-weight="bold" text-anchor="middle">M5</text><text x="153.25" y="330.9" font-size="13.6" font-weight="bold" text-anchor="middle">M6</text><text x="203.60" y="330.9" font-size="13.6" font-weight="bold" text-anchor="middle">M8</text><text x="250.60" y="330.9" font-size="13.6" font-weight="bold" text-anchor="middle">M11</text><text x="302.70" y="330.9" font-size="13.6" font-weight="bold" text-anchor="middle">M14</text><text x="351.75" y="330.9" font-size="13.6" font-weight="bold" text-anchor="middle">M22</text><text x="398.10" y="330.9" font-size="13.6" font-weight="bold" text-anchor="middle">M23</text><text x="448.25" y="330.9" font-size="13.6" font-weight="bold" text-anchor="middle">CLL9</text><text x="498.75" y="330.9" font-size="13.6" font-weight="bold" text-anchor="middle">CLL55</text><text x="71.6" y="365.90" font-size="13.6" font-weight="bold" text-anchor="end">Kidney</text><text x="71.6" y="412.80" font-size="13.6" font-weight="bold" text-anchor="end">Duodenum</text><text x="71.6" y="460.20" font-size="13.6" font-weight="bold" text-anchor="end">Liver</text><text x="71.6" y="507.00" font-size="13.6" font-weight="bold" text-anchor="end">Muscle</text><defs><filter id="spk" x="0" y="0" width="1" height="1" color-interpolation-filters="sRGB"><feTurbulence type="fractalNoise" baseFrequency="0.3" numOctaves="2" seed="3" result="n"/><feColorMatrix in="n" type="matrix" values="0 0 0 0 1  0 0 0 0 1  0 0 0 0 1  3.0 0 0 0 -1.65" result="w"/><feGaussianBlur stdDeviation="0.45"/><feComposite in2="SourceGraphic" operator="in"/></filter><filter id="spkB" x="0" y="0" width="1" height="1" color-interpolation-filters="sRGB"><feTurbulence type="fractalNoise" baseFrequency="0.5" numOctaves="2" seed="5" result="n"/><feColorMatrix in="n" type="matrix" values="0 0 0 0 0.93  0 0 0 0 0.86  0 0 0 0 0.88  3.6 0 0 0 -1.85" result="w"/><feGaussianBlur stdDeviation="0.45"/><feComposite in2="SourceGraphic" operator="in"/></filter><filter id="dkB" x="0" y="0" width="1" height="1" color-interpolation-filters="sRGB"><feTurbulence type="fractalNoise" baseFrequency="0.45" numOctaves="2" seed="11" result="n"/><feColorMatrix in="n" type="matrix" values="0 0 0 0 0.60  0 0 0 0 0.38  0 0 0 0 0.42  0 3.4 0 0 -1.75" result="w"/><feGaussianBlur stdDeviation="0.35"/><feComposite in2="SourceGraphic" operator="in"/></filter><filter id="wsB" x="0" y="0" width="1" height="1" color-interpolation-filters="sRGB"><feTurbulence type="fractalNoise" baseFrequency="0.38" numOctaves="2" seed="23" result="n"/><feColorMatrix in="n" type="matrix" values="0 0 0 0 0.93  0 0 0 0 0.88  0 0 0 0 0.90  3.2 0 0 0 -1.5" result="w"/><feGaussianBlur stdDeviation="0.4"/><feComposite in2="SourceGraphic" operator="in"/></filter><filter id="dkG" x="0" y="0" width="1" height="1" color-interpolation-filters="sRGB"><feTurbulence type="fractalNoise" baseFrequency="0.22" numOctaves="2" seed="17" result="n"/><feColorMatrix in="n" type="matrix" values="0 0 0 0 0.52  0 0 0 0 0.46  0 0 0 0 0.62  0 3.0 0 0 -1.5" result="w"/><feGaussianBlur stdDeviation="0.6"/><feComposite in2="SourceGraphic" operator="in"/></filter><filter id="fblur2" x="-5%" y="-5%" width="110%" height="110%"><feGaussianBlur stdDeviation="0.35"/></filter><filter id="fblur" x="-20%" y="-20%" width="140%" height="140%"><feGaussianBlur stdDeviation="0.7"/></filter><filter id="soft" x="-2%" y="-2%" width="104%" height="104%"><feGaussianBlur stdDeviation="0.35"/></filter><clipPath id="c00"><circle cx="102.75" cy="358.75" r="22.1"/></clipPath><clipPath id="c01"><circle cx="151.65" cy="358.75" r="22.1"/></clipPath><clipPath id="c02"><circle cx="200.55" cy="358.75" r="22.1"/></clipPath><clipPath id="c03"><circle cx="249.45" cy="358.75" r="22.1"/></clipPath><clipPath id="c04"><circle cx="298.35" cy="358.75" r="22.1"/></clipPath><clipPath id="c05"><circle cx="347.25" cy="358.75" r="22.1"/></clipPath><clipPath id="c06"><circle cx="396.15" cy="358.75" r="22.1"/></clipPath><clipPath id="c07"><circle cx="445.05" cy="358.75" r="22.1"/></clipPath><clipPath id="c08"><circle cx="493.95" cy="358.75" r="22.1"/></clipPath><clipPath id="c10"><circle cx="102.75" cy="406.00" r="22.1"/></clipPath><clipPath id="c11"><circle cx="151.65" cy="406.00" r="22.1"/></clipPath><clipPath id="c12"><circle cx="200.55" cy="406.00" r="22.1"/></clipPath><clipPath id="c13"><circle cx="249.45" cy="406.00" r="22.1"/></clipPath><clipPath id="c14"><circle cx="298.35" cy="406.00" r="22.1"/></clipPath><clipPath id="c15"><circle cx="347.25" cy="406.00" r="22.1"/></clipPath><clipPath id="c16"><circle cx="396.15" cy="406.00" r="22.1"/></clipPath><clipPath id="c17"><circle cx="445.05" cy="406.00" r="22.1"/></clipPath><clipPath id="c18"><circle cx="493.95" cy="406.00" r="22.1"/></clipPath><clipPath id="c20"><circle cx="102.75" cy="453.20" r="22.1"/></clipPath><clipPath id="c21"><circle cx="151.65" cy="453.20" r="22.1"/></clipPath><clipPath id="c22"><circle cx="200.55" cy="453.20" r="22.1"/></clipPath><clipPath id="c23"><circle cx="249.45" cy="453.20" r="22.1"/></clipPath><clipPath id="c24"><circle cx="298.35" cy="453.20" r="22.1"/></clipPath><clipPath id="c25"><circle cx="347.25" cy="453.20" r="22.1"/></clipPath><clipPath id="c26"><circle cx="396.15" cy="453.20" r="22.1"/></clipPath><clipPath id="c27"><circle cx="445.05" cy="453.20" r="22.1"/></clipPath><clipPath id="c28"><circle cx="493.95" cy="453.20" r="22.1"/></clipPath><clipPath id="c30"><circle cx="102.75" cy="500.20" r="22.1"/></clipPath><clipPath id="c31"><circle cx="151.65" cy="500.20" r="22.1"/></clipPath><clipPath id="c32"><circle cx="200.55" cy="500.20" r="22.1"/></clipPath><clipPath id="c33"><circle cx="249.45" cy="500.20" r="22.1"/></clipPath><clipPath id="c34"><circle cx="298.35" cy="500.20" r="22.1"/></clipPath><clipPath id="c35"><circle cx="347.25" cy="500.20" r="22.1"/></clipPath><clipPath id="c36"><circle cx="396.15" cy="500.20" r="22.1"/></clipPath><clipPath id="c37"><circle cx="445.05" cy="500.20" r="22.1"/></clipPath><clipPath id="c38"><circle cx="493.95" cy="500.20" r="22.1"/></clipPath></defs><g filter="url(#soft)"><g clip-path="url(#c00)"><circle cx="102.75" cy="358.75" r="22.1" fill="#baabc5"/><circle cx="102.75" cy="358.75" r="22.1" fill="#000" filter="url(#dkG)" opacity="0.22"/><circle cx="102.75" cy="358.75" r="22.1" fill="#000" filter="url(#spk)" opacity="0.3"/><g filter="url(#fblur)"><path d="M114.4,371.8h0M103.6,349.2h0M90.0,359.1h0M93.0,345.0h0M105.4,360.5h0M109.2,348.0h0M102.8,357.9h0M87.6,364.2h0M105.2,377.1h0M105.5,356.8h0M116.6,361.0h0M113.6,354.4h0M105.3,370.8h0M111.5,360.4h0M90.4,363.8h0M103.7,367.8h0M105.3,371.4h0M102.1,361.4h0M110.2,346.7h0M97.6,352.4h0M120.4,357.9h0M110.7,366.3h0M99.9,343.0h0M114.1,354.0h0M110.2,345.1h0M98.0,372.5h0M115.7,347.0h0M88.2,358.3h0" stroke="#f4f0f4" stroke-width="1.9" stroke-linecap="round" stroke-opacity="0.45" fill="none"/></g><circle cx="102.75" cy="358.75" r="21.6" fill="none" stroke="#857898" stroke-opacity="0.3" stroke-width="1.1"/></g><g clip-path="url(#c01)"><circle cx="151.65" cy="358.75" r="22.1" fill="#baabc5"/><circle cx="151.65" cy="358.75" r="22.1" fill="#000" filter="url(#dkG)" opacity="0.22"/><circle cx="151.65" cy="358.75" r="22.1" fill="#000" filter="url(#spk)" opacity="0.3"/><g filter="url(#fblur)"><path d="M154.4,377.2h0M162.8,370.1h0M159.8,363.6h0M160.3,358.7h0M143.6,348.7h0M138.9,362.6h0M157.8,374.9h0M159.4,363.7h0M161.4,360.0h0M136.6,368.6h0M147.0,363.2h0M150.7,377.6h0M165.5,364.5h0M140.6,369.5h0M143.3,372.2h0M136.3,359.0h0M163.4,350.3h0M154.7,362.5h0M164.2,354.3h0M158.0,376.1h0M137.4,351.0h0M159.1,351.8h0M140.6,372.7h0M162.6,371.2h0M164.6,367.8h0M146.2,341.1h0M159.1,347.5h0M154.0,365.7h0M138.3,356.3h0M167.9,366.6h0M135.8,358.0h0M153.4,368.0h0M162.8,359.6h0M150.3,371.0h0M139.2,370.9h0M157.8,353.7h0M145.5,363.4h0M141.9,342.7h0M156.6,374.6h0M151.0,360.8h0" stroke="#f4f0f4" stroke-width="1.9" stroke-linecap="round" stroke-opacity="0.45" fill="none"/></g><circle cx="151.65" cy="358.75" r="21.6" fill="none" stroke="#857898" stroke-opacity="0.3" stroke-width="1.1"/></g><g clip-path="url(#c02)"><circle cx="200.55" cy="358.75" r="22.1" fill="#baabc5"/><circle cx="200.55" cy="358.75" r="22.1" fill="#000" filter="url(#dkG)" opacity="0.22"/><circle cx="200.55" cy="358.75" r="22.1" fill="#000" filter="url(#spk)" opacity="0.3"/><g filter="url(#fblur)"><path d="M202.6,358.3h0M199.9,351.2h0M203.0,358.5h0M211.9,348.0h0M212.4,343.9h0M201.3,369.8h0M197.9,349.0h0M199.8,367.8h0M211.7,344.9h0M203.2,350.2h0M212.6,352.6h0M202.0,371.5h0M195.9,361.3h0M190.1,354.2h0M184.0,351.0h0M193.2,349.2h0M213.0,344.4h0M182.1,359.9h0M207.6,359.6h0M209.2,375.0h0M194.7,343.8h0M197.5,371.8h0M205.1,354.8h0M203.6,361.5h0M183.5,362.2h0M189.2,354.7h0" stroke="#f4f0f4" stroke-width="1.9" stroke-linecap="round" stroke-opacity="0.45" fill="none"/><circle cx="212.6" cy="368.8" r="0.9" fill="#5a4a6a" opacity="0.6"/></g><circle cx="200.55" cy="358.75" r="21.6" fill="none" stroke="#857898" stroke-opacity="0.3" stroke-width="1.1"/></g><g clip-path="url(#c03)"><circle cx="249.45" cy="358.75" r="22.1" fill="#baabc5"/><circle cx="249.45" cy="358.75" r="22.1" fill="#000" filter="url(#dkG)" opacity="0.22"/><circle cx="249.45" cy="358.75" r="22.1" fill="#000" filter="url(#spk)" opacity="0.3"/><g filter="url(#fblur)"><path d="M256.3,356.9h0M268.2,361.6h0M252.1,364.8h0M243.0,349.7h0M256.5,352.9h0M259.8,356.0h0M234.7,347.9h0M242.2,342.0h0M248.4,354.7h0M260.2,348.9h0M246.4,366.4h0M258.0,347.0h0M264.9,352.4h0M263.3,355.3h0M244.7,344.7h0M248.5,377.3h0" stroke="#f4f0f4" stroke-width="1.9" stroke-linecap="round" stroke-opacity="0.45" fill="none"/></g><circle cx="249.45" cy="358.75" r="21.6" fill="none" stroke="#857898" stroke-opacity="0.3" stroke-width="1.1"/></g><g clip-path="url(#c04)"><circle cx="298.35" cy="358.75" r="22.1" fill="#baabc5"/><circle cx="298.35" cy="358.75" r="22.1" fill="#000" filter="url(#dkG)" opacity="0.22"/><circle cx="298.35" cy="358.75" r="22.1" fill="#000" filter="url(#spk)" opacity="0.3"/><g filter="url(#fblur)"><path d="M287.7,355.4h0M304.1,350.3h0M287.2,358.0h0M282.2,368.2h0M308.4,366.4h0M300.1,369.8h0M309.3,358.7h0M288.8,351.0h0M296.8,346.1h0M304.3,369.7h0M284.2,368.0h0M290.6,355.5h0M293.6,349.5h0M289.5,358.1h0" stroke="#f4f0f4" stroke-width="1.9" stroke-linecap="round" stroke-opacity="0.45" fill="none"/></g><circle cx="298.35" cy="358.75" r="21.6" fill="none" stroke="#857898" stroke-opacity="0.3" stroke-width="1.1"/></g><g clip-path="url(#c05)"><circle cx="347.25" cy="358.75" r="22.1" fill="#baabc5"/><circle cx="347.25" cy="358.75" r="22.1" fill="#000" filter="url(#dkG)" opacity="0.12"/><circle cx="347.25" cy="358.75" r="22.1" fill="#000" filter="url(#spk)" opacity="0.3"/><g filter="url(#fblur)"><path d="M338.3,375.3h0M364.9,354.1h0M351.7,341.5h0M362.3,358.8h0M347.5,375.0h0" stroke="#f4f0f4" stroke-width="1.9" stroke-linecap="round" stroke-opacity="0.45" fill="none"/></g><circle cx="347.25" cy="358.75" r="21.6" fill="none" stroke="#857898" stroke-opacity="0.3" stroke-width="1.1"/></g><g clip-path="url(#c06)"><circle cx="396.15" cy="358.75" r="22.1" fill="#c29c9e"/><g filter="url(#fblur2)" stroke-linecap="round" fill="none"><path d="M401.6,339.1h0M384.7,359.8h0M414.5,358.8h0M376.9,362.4h0M382.4,372.9h0M393.3,378.7h0M394.3,344.4h0M378.1,354.3h0M402.0,374.4h0M400.1,347.8h0M402.3,341.2h0M403.4,347.9h0M412.9,369.9h0M401.2,344.6h0M404.5,364.3h0M388.1,349.6h0M412.6,353.6h0M401.7,376.1h0M382.3,375.5h0M409.8,350.1h0M384.6,343.9h0M403.7,337.9h0M409.5,361.2h0M386.2,351.3h0M390.4,355.2h0M408.0,347.6h0M409.8,371.0h0M392.3,368.0h0M387.8,359.6h0M401.4,379.0h0M395.3,356.4h0M396.7,355.9h0M385.5,377.3h0M387.1,350.2h0M386.1,368.5h0M411.9,374.8h0M410.0,363.6h0M395.8,344.6h0M407.2,357.4h0M417.2,356.0h0M386.0,340.1h0M376.8,365.4h0M400.8,343.3h0M377.6,362.2h0M390.6,362.3h0M395.9,347.2h0M376.3,360.3h0M397.7,361.7h0M408.5,370.8h0M388.8,367.5h0M375.5,365.2h0M395.7,373.2h0M408.9,346.6h0M394.4,374.2h0M387.7,359.9h0M387.2,367.4h0M400.5,346.7h0M384.2,340.1h0M408.4,352.3h0M386.0,351.1h0M383.5,368.1h0M402.0,337.8h0M395.7,360.5h0M391.0,360.4h0M415.6,362.5h0M410.7,371.1h0M382.0,375.4h0M399.5,354.3h0M403.9,379.2h0M385.1,349.2h0M400.2,338.9h0M380.8,359.6h0M407.1,366.7h0M407.1,372.8h0M389.4,353.4h0M391.3,353.7h0M410.4,369.9h0M375.4,363.7h0M383.2,345.1h0M410.5,373.4h0M411.5,367.6h0M414.4,347.4h0M408.0,349.4h0M389.2,340.0h0M410.4,375.3h0M408.7,350.6h0M398.8,343.9h0M393.0,377.5h0M414.7,366.6h0M408.1,357.1h0M402.2,356.3h0M403.6,349.5h0M410.6,355.6h0M399.7,356.9h0M413.6,369.2h0M385.5,346.2h0M405.3,360.7h0M392.6,362.5h0M415.8,357.9h0M414.1,352.9h0M392.7,364.0h0M395.3,351.2h0M381.5,354.3h0M390.0,359.0h0M410.7,366.0h0M412.2,361.9h0M403.2,368.4h0M406.0,372.5h0M388.0,365.6h0M399.1,375.4h0M408.5,351.0h0M402.7,369.6h0M397.2,375.7h0M400.0,342.2h0M401.0,370.6h0M385.2,368.9h0M378.2,372.2h0M378.8,353.0h0M392.4,341.1h0M400.8,345.8h0M385.0,339.5h0M405.3,374.0h0M392.0,362.4h0M415.1,363.6h0M410.4,371.3h0M407.2,366.8h0M412.4,362.1h0M398.6,348.3h0M376.3,350.1h0M392.0,373.6h0M392.8,338.1h0M405.1,374.7h0M401.6,363.9h0M401.2,358.2h0M413.2,349.3h0M387.5,341.6h0M389.1,349.0h0M386.7,362.3h0M408.7,343.4h0M398.6,348.6h0M386.6,352.5h0M401.0,340.0h0M415.1,358.2h0M388.1,340.6h0M410.6,368.4h0M409.5,361.5h0M412.4,373.5h0M417.4,362.5h0M410.2,354.0h0M398.7,354.3h0" stroke="#f0e4e6" stroke-width="1.3" stroke-opacity="0.75"/><path d="M397.6,360.5h0M397.2,359.2h0M399.3,352.9h0M386.2,352.4h0M406.0,369.5h0M405.4,379.0h0M383.2,370.3h0M379.7,351.8h0M384.5,360.2h0M410.0,374.8h0M401.5,372.8h0M402.3,342.8h0M415.3,352.3h0M388.4,358.1h0M383.2,350.2h0M406.7,346.2h0M389.2,339.7h0M375.9,362.6h0M403.3,353.5h0M414.5,348.5h0M404.2,348.4h0M396.1,366.9h0M381.8,373.8h0M395.1,360.0h0M394.0,364.8h0M382.0,345.0h0M402.2,355.8h0M390.3,364.2h0M413.6,347.8h0M374.3,356.0h0M376.5,356.2h0M382.6,359.8h0M416.8,358.0h0M378.6,347.3h0M384.3,342.5h0M403.6,362.1h0M409.7,369.8h0M394.5,350.0h0M388.6,358.5h0M388.6,340.4h0M415.2,370.3h0M392.1,351.9h0M390.8,366.0h0M393.2,337.4h0M400.5,367.4h0M381.8,343.6h0M395.1,343.6h0M409.7,370.0h0M376.8,364.3h0M378.8,350.3h0M413.7,355.5h0M406.2,352.5h0M417.3,359.0h0M418.2,362.9h0M390.8,360.3h0M393.2,377.6h0M382.9,370.6h0M412.6,371.0h0M381.8,373.4h0M407.2,373.4h0M382.1,361.5h0M412.4,360.7h0M400.0,352.6h0M393.8,359.6h0M418.3,357.9h0M389.4,344.7h0M403.2,362.1h0M390.6,339.5h0M417.0,357.3h0M385.6,363.1h0M383.4,355.3h0M375.8,352.9h0M374.8,365.2h0M395.2,354.0h0M395.8,340.5h0M395.2,357.9h0M407.6,347.8h0M387.1,356.6h0M398.7,359.3h0M399.2,370.8h0M399.2,363.2h0M393.5,340.1h0M403.9,351.7h0M393.8,341.6h0M413.9,370.0h0M390.1,366.3h0M405.0,378.5h0M398.7,372.5h0M383.2,354.8h0M392.4,353.2h0M380.6,366.1h0M383.3,346.8h0M394.0,376.6h0M411.5,356.0h0M383.4,342.6h0M396.0,370.3h0M408.3,356.5h0M383.9,364.9h0M412.7,358.0h0M403.4,353.2h0M393.0,376.6h0M388.5,375.4h0M389.9,358.4h0M407.5,368.4h0M386.9,356.8h0M396.1,359.5h0M394.9,371.2h0M382.9,369.9h0M407.6,343.5h0M395.5,346.8h0M377.0,359.3h0M404.8,351.9h0M401.2,359.2h0M375.2,356.7h0M407.5,375.1h0M382.9,342.5h0M402.1,354.5h0M398.4,350.8h0M406.6,368.4h0M390.2,359.2h0M394.6,368.1h0M400.8,364.1h0M406.5,360.3h0M389.3,371.6h0M390.1,342.2h0M383.4,359.7h0M388.7,352.2h0M399.5,365.5h0M392.1,351.4h0M398.4,371.9h0M379.5,351.7h0M381.6,349.2h0M403.7,378.9h0M395.0,344.4h0M382.5,369.1h0M409.4,371.1h0M407.3,351.0h0M384.8,358.8h0M407.8,351.3h0M384.0,373.3h0M381.3,374.1h0M381.5,367.9h0M390.3,375.0h0M389.0,360.0h0M403.1,353.0h0M379.7,350.3h0M383.5,361.3h0M374.6,365.2h0M417.3,360.3h0M384.0,349.0h0" stroke="#f0e4e6" stroke-width="2.1" stroke-opacity="0.75"/><path d="M384.5,345.0h0M406.9,339.3h0M382.9,357.5h0M382.2,375.1h0M390.2,359.5h0M389.6,354.8h0M385.8,373.6h0M383.6,348.0h0M404.6,343.3h0M416.1,355.0h0M394.4,378.6h0M382.1,375.5h0M385.5,348.8h0M405.6,377.2h0M394.5,361.0h0M396.7,357.0h0M399.9,359.8h0M385.8,345.4h0M374.5,361.0h0M386.1,360.6h0M403.6,358.6h0M406.3,362.0h0M410.5,356.6h0M387.6,369.5h0M382.7,373.0h0M388.5,349.7h0M403.6,377.7h0M381.4,352.7h0M402.9,379.9h0M374.9,354.9h0M387.9,342.8h0M417.4,362.0h0M399.9,353.8h0M412.3,367.8h0M391.3,350.2h0M403.2,358.3h0M382.0,352.2h0M387.3,374.9h0M377.8,365.9h0M396.4,356.6h0M388.5,373.5h0M391.1,375.4h0M403.3,360.1h0M385.7,358.0h0M399.9,372.7h0M381.1,348.6h0M383.2,349.5h0M377.0,367.3h0M410.1,342.6h0M413.4,352.3h0M402.0,376.7h0M393.6,370.8h0M392.8,361.1h0M386.9,362.5h0M397.7,373.4h0M396.8,340.6h0M388.6,376.3h0M385.0,366.2h0M386.0,365.3h0M408.8,376.9h0M381.1,348.4h0M383.9,348.6h0M394.8,357.3h0M411.2,365.3h0M393.7,359.3h0M399.2,370.8h0M416.3,354.6h0M409.7,362.2h0M391.2,365.5h0M390.6,380.4h0M406.3,352.9h0M397.7,350.8h0M391.7,353.9h0M385.2,345.2h0M413.2,358.1h0M405.6,352.9h0M388.9,351.5h0M416.4,368.1h0M409.3,361.0h0M392.1,368.0h0M408.3,343.4h0M383.6,370.1h0M398.8,354.0h0M384.5,341.5h0M383.3,348.7h0M396.2,368.0h0M402.1,370.8h0M391.7,378.1h0M400.4,365.5h0M400.7,344.3h0M411.4,372.1h0M409.5,362.1h0M382.7,367.8h0M397.7,380.4h0M384.9,352.5h0M387.2,348.1h0M380.0,352.3h0M396.6,379.7h0M414.3,370.8h0M381.9,366.1h0M408.7,368.8h0M387.5,374.1h0M393.4,352.2h0M415.3,368.1h0M401.3,376.6h0M393.7,339.0h0M414.1,359.4h0M398.4,355.2h0M417.3,359.7h0M389.6,341.0h0M398.2,341.3h0M398.9,367.3h0M414.3,360.5h0M384.7,339.5h0M396.4,367.3h0M380.4,373.8h0M397.9,379.8h0M383.3,343.8h0M411.3,372.1h0M380.5,370.1h0M407.8,362.4h0M385.4,354.0h0M389.0,357.0h0M395.4,376.7h0M385.6,378.3h0M387.9,368.0h0M381.5,369.2h0M387.3,379.2h0M401.5,375.1h0M404.2,350.3h0" stroke="#985050" stroke-width="1.1" stroke-opacity="0.55"/><path d="M397.9,374.7h0M408.3,341.9h0M407.9,343.9h0M415.2,368.9h0M397.7,361.0h0M393.2,358.6h0M405.7,361.4h0M407.9,357.5h0M409.2,341.2h0M397.4,365.9h0M399.9,376.3h0M391.5,346.8h0M397.3,352.9h0M409.5,360.8h0M385.0,341.3h0M416.4,351.8h0M413.4,355.4h0M391.4,360.8h0M376.6,349.7h0M399.7,343.8h0M383.7,343.4h0M415.2,358.1h0M377.6,346.9h0M396.6,358.7h0M408.0,356.0h0M408.4,358.8h0M397.0,359.7h0M400.7,345.8h0M410.6,371.2h0M400.2,371.4h0M385.5,365.8h0M395.2,348.9h0M401.9,344.7h0M384.5,364.3h0M405.8,353.3h0M386.2,364.6h0M398.5,361.1h0M387.7,340.3h0M390.0,372.4h0M398.3,354.0h0M393.2,377.8h0M396.3,370.0h0M384.6,356.6h0M399.0,363.0h0M416.3,356.7h0M396.6,366.4h0M379.8,356.6h0M409.0,353.3h0M410.2,373.9h0M402.8,367.7h0M400.1,379.4h0M409.7,355.7h0M383.3,344.9h0M376.8,364.6h0M388.5,376.4h0M400.5,366.0h0M401.4,366.6h0M407.0,356.2h0M394.7,356.6h0M409.4,344.5h0M385.0,339.4h0M415.4,362.7h0M412.1,373.7h0M408.7,359.4h0M381.5,353.9h0M397.9,353.2h0M398.4,356.9h0M415.3,353.0h0M401.4,359.3h0M401.2,363.4h0M401.4,367.8h0M380.5,356.5h0M396.2,381.1h0M382.8,349.8h0M404.7,343.3h0M410.5,344.1h0M382.9,375.1h0M393.8,356.5h0M386.9,374.9h0M390.1,340.9h0M398.9,339.8h0M405.7,352.5h0M413.8,347.0h0M400.2,348.8h0M379.5,346.2h0M402.2,350.3h0M412.3,363.0h0M410.3,366.7h0M402.0,364.2h0M408.9,346.4h0M411.4,365.1h0M392.2,373.3h0M396.8,337.5h0M398.5,359.1h0M403.4,354.6h0M404.8,343.1h0M380.6,349.9h0M379.0,370.2h0M407.7,355.7h0M397.0,373.4h0M384.6,370.8h0M408.0,354.0h0M406.9,353.8h0M382.7,372.8h0M386.8,339.5h0M387.0,350.6h0M400.1,348.2h0M409.0,360.4h0M398.7,358.2h0M408.0,344.2h0M387.0,343.7h0M400.9,373.6h0M416.7,358.5h0M382.8,365.7h0M384.1,365.0h0M389.1,366.2h0M399.4,357.0h0M406.6,372.8h0M406.9,343.6h0M406.2,371.0h0M417.0,356.7h0M398.7,380.9h0M405.0,358.5h0M402.2,350.8h0M409.9,362.7h0M415.1,356.2h0M404.8,377.6h0M389.6,377.6h0M378.6,353.9h0M378.1,359.0h0" stroke="#985050" stroke-width="1.7" stroke-opacity="0.55"/></g><g filter="url(#fblur)"></g><circle cx="396.15" cy="358.75" r="21.6" fill="none" stroke="#857898" stroke-opacity="0.3" stroke-width="1.1"/></g><g clip-path="url(#c07)"><circle cx="445.05" cy="358.75" r="22.1" fill="#baabc5"/><circle cx="445.05" cy="358.75" r="22.1" fill="#000" filter="url(#dkG)" opacity="0.12"/><circle cx="445.05" cy="358.75" r="22.1" fill="#000" filter="url(#spk)" opacity="0.15"/><g filter="url(#fblur)"></g><circle cx="445.05" cy="358.75" r="21.6" fill="none" stroke="#857898" stroke-opacity="0.3" stroke-width="1.1"/></g><g clip-path="url(#c08)"><circle cx="493.95" cy="358.75" r="22.1" fill="#b67e76"/><g filter="url(#fblur2)" stroke-linecap="round" fill="none"><path d="M497.2,380.6h0M507.2,372.2h0M503.6,364.5h0M504.2,358.7h0M484.4,346.9h0M478.8,363.3h0M501.2,377.9h0M503.2,364.6h0M505.5,360.2h0M476.1,370.5h0M488.4,364.0h0M492.8,381.1h0M510.3,365.6h0M480.8,371.5h0M484.1,374.6h0M475.8,359.0h0M507.9,348.8h0M497.5,363.2h0M508.8,353.5h0M501.5,379.3h0M477.1,349.6h0M502.8,350.6h0M480.9,375.3h0M507.0,373.5h0M509.2,369.5h0M487.5,337.8h0M502.8,345.5h0M496.8,367.0h0M478.1,355.9h0M513.2,368.0h0M475.1,357.9h0M496.0,369.7h0M507.1,359.7h0M492.4,373.3h0M479.2,373.1h0M501.3,352.8h0M486.7,364.3h0M482.4,339.8h0M499.8,377.6h0M493.1,361.2h0M495.1,345.6h0M501.1,371.8h0M495.6,373.1h0M480.2,363.6h0M483.7,352.4h0M499.4,362.4h0M506.7,368.8h0M481.0,374.3h0M475.0,358.2h0M499.6,358.0h0M502.3,359.6h0M481.1,369.9h0M493.4,345.4h0M495.1,358.5h0M499.2,349.9h0M496.8,355.9h0M513.1,354.5h0M511.1,357.7h0M503.7,378.7h0M487.9,361.1h0M481.4,349.0h0M485.2,360.2h0M506.3,370.6h0M486.3,361.1h0M476.2,365.9h0M490.6,343.7h0M483.3,367.1h0M495.5,368.6h0M487.0,361.2h0M491.0,340.0h0M491.4,356.6h0M484.2,369.9h0M512.4,371.0h0M494.5,342.8h0M491.1,349.1h0M496.1,374.9h0M493.3,340.7h0M511.6,359.5h0M510.3,348.2h0M514.0,349.0h0M496.0,370.8h0M472.7,352.2h0M479.1,374.7h0M503.5,345.7h0M478.4,343.2h0M496.5,346.8h0M499.6,350.5h0M478.9,374.8h0M501.1,348.4h0M489.5,375.8h0M504.2,343.2h0M511.6,351.2h0M501.5,343.0h0M484.4,370.0h0M477.6,359.8h0M500.1,348.8h0M511.5,366.8h0M492.0,373.2h0M509.1,372.5h0M492.1,370.8h0M499.3,343.7h0M490.3,379.6h0M482.4,365.9h0M513.5,354.4h0M493.8,347.5h0M500.7,342.7h0M500.5,346.8h0M497.8,339.1h0M480.1,370.5h0M498.2,336.7h0M511.5,349.2h0M505.4,372.1h0M491.3,352.7h0M473.6,363.6h0M511.9,346.6h0M508.6,368.4h0M506.0,345.1h0M492.1,362.8h0M512.2,348.7h0M486.2,347.6h0M503.6,340.9h0M491.2,341.5h0M488.8,369.9h0M485.9,368.8h0M486.4,357.8h0M491.6,345.7h0M500.1,368.3h0M482.6,368.2h0M495.4,351.8h0M496.0,370.8h0" stroke="#f0dcd8" stroke-width="1.3" stroke-opacity="0.75"/><path d="M502.6,376.2h0M497.9,362.0h0M475.8,352.1h0M501.6,343.8h0M484.1,377.5h0M492.6,343.2h0M473.9,350.4h0M515.7,358.4h0M502.6,368.3h0M486.2,363.8h0M494.4,353.2h0M507.0,347.6h0M483.0,349.3h0M509.7,352.1h0M511.2,345.7h0M486.0,337.9h0M480.4,359.6h0M503.1,345.2h0M487.2,376.1h0M486.0,360.0h0M502.3,345.2h0M510.1,355.8h0M505.1,354.1h0M497.3,374.7h0M496.1,338.4h0M489.2,352.4h0M490.6,361.3h0M478.8,374.6h0M483.2,374.2h0M487.8,352.9h0M491.6,352.9h0M500.8,374.5h0M509.3,374.6h0M478.0,366.8h0M501.2,357.1h0M498.4,358.7h0M479.3,347.9h0M507.4,357.6h0M511.1,352.8h0M484.8,360.1h0M495.2,372.3h0M486.1,370.0h0M498.9,345.9h0M490.9,355.6h0M506.0,373.4h0M503.7,350.8h0M504.6,360.9h0M485.2,369.2h0M482.5,354.1h0M481.9,342.8h0M498.0,339.8h0M484.0,353.0h0M500.5,348.6h0M503.5,347.2h0M483.0,347.2h0M486.5,347.9h0M476.9,349.6h0M482.7,372.1h0M479.1,362.9h0M481.6,369.9h0M491.6,349.7h0M506.4,375.0h0M511.0,369.3h0M494.5,348.3h0M486.5,350.2h0M501.3,352.0h0M497.2,361.6h0M491.9,348.6h0M485.2,379.2h0M492.3,339.5h0M478.0,350.5h0M514.2,360.2h0M484.0,377.0h0M475.5,369.7h0M516.2,358.8h0M507.2,367.9h0M471.8,361.3h0M489.3,336.9h0M506.1,350.6h0M499.1,365.6h0M488.4,337.5h0M487.2,347.4h0M479.0,348.3h0M493.6,377.5h0M495.1,362.3h0M508.4,364.9h0M490.4,348.7h0M479.0,370.1h0M492.6,375.0h0M482.5,350.1h0M498.8,376.8h0M491.0,349.4h0M500.4,341.7h0M507.2,344.0h0M474.9,359.4h0M486.8,375.5h0M505.5,365.3h0M472.8,357.9h0M485.3,339.1h0M509.1,342.5h0M480.9,346.9h0M483.6,360.8h0M499.0,341.9h0M499.8,368.1h0M497.4,377.6h0M485.7,353.0h0M487.5,343.1h0M492.4,373.7h0M502.4,358.4h0M495.4,376.0h0M505.5,340.5h0M478.0,370.4h0M504.2,368.2h0M505.4,344.4h0M477.5,364.5h0M477.3,360.1h0M510.5,344.0h0M500.0,377.4h0M510.4,352.8h0M480.2,358.7h0M476.9,360.5h0M488.1,353.9h0M505.8,358.7h0M484.4,355.8h0M489.8,354.2h0M486.8,370.7h0M487.9,373.2h0M502.5,372.0h0M499.0,341.6h0M515.5,354.7h0" stroke="#f0dcd8" stroke-width="2.1" stroke-opacity="0.75"/><path d="M478.7,360.9h0M495.6,337.7h0M476.2,354.1h0M488.1,343.7h0M479.7,358.0h0M479.3,363.7h0M496.9,350.2h0M509.9,373.3h0M475.2,357.5h0M510.6,349.0h0M473.9,349.8h0M483.3,348.2h0M497.6,366.9h0M499.6,338.2h0M483.8,371.6h0M486.3,343.0h0M490.5,380.0h0M475.9,352.7h0M488.3,345.0h0M491.0,349.4h0M476.6,353.4h0M485.6,349.9h0M496.9,365.3h0M500.8,365.5h0M477.1,360.3h0M489.9,344.4h0M494.4,354.9h0M489.4,365.1h0M477.0,357.0h0M481.0,351.3h0M485.2,368.3h0M501.7,364.9h0M477.1,360.2h0M510.6,371.0h0M501.8,360.1h0M481.7,362.9h0M475.4,356.4h0M477.4,347.6h0M475.8,362.2h0M487.0,362.7h0M502.5,363.1h0M482.9,362.8h0M476.9,351.9h0M501.6,354.5h0M494.7,358.5h0M511.1,344.4h0M480.6,373.8h0M477.1,358.2h0M507.6,341.7h0M490.7,368.8h0M508.9,350.1h0M502.6,352.6h0M499.2,351.5h0M501.3,368.4h0M506.5,352.6h0M482.7,363.2h0M507.3,365.5h0M480.9,359.0h0M492.4,346.3h0M515.2,356.0h0M487.6,355.3h0M477.5,352.3h0M485.3,346.9h0M490.4,336.6h0M492.6,354.4h0M481.6,345.9h0M473.0,352.6h0M496.7,359.7h0M492.7,351.7h0M507.2,374.2h0M480.3,374.9h0M499.7,341.4h0M489.9,363.8h0M514.7,355.6h0M507.9,350.8h0M490.5,376.2h0M485.3,363.5h0M504.9,368.1h0M500.9,368.1h0M515.5,355.7h0M506.1,348.1h0M494.7,349.7h0M477.8,343.5h0M499.6,337.1h0M485.3,349.8h0M505.6,360.3h0M501.7,344.4h0M479.6,344.6h0M491.6,366.8h0M507.2,347.4h0M512.5,361.9h0M490.4,339.4h0M501.9,367.4h0M490.9,340.6h0M481.3,377.0h0M487.1,378.9h0M504.0,370.2h0M512.7,357.9h0M494.9,337.6h0M482.4,346.8h0M501.4,344.1h0M512.9,353.6h0M506.0,358.8h0M499.7,353.7h0M511.0,360.4h0M486.2,337.8h0M511.3,354.6h0M488.9,343.2h0M504.9,343.6h0M506.2,371.6h0M506.3,362.8h0M483.1,377.4h0M496.5,372.3h0M484.6,354.7h0M482.2,362.3h0M490.4,339.0h0M475.7,348.4h0M474.5,359.8h0M505.5,366.6h0M484.6,377.8h0M480.1,358.9h0M483.0,339.7h0M503.7,341.1h0M483.8,341.3h0M481.0,353.4h0M489.2,369.3h0M485.7,372.4h0M501.0,350.4h0M485.0,366.0h0M488.4,359.4h0M479.0,344.2h0M505.4,351.6h0M503.3,375.5h0M494.3,348.9h0M511.0,365.6h0M482.1,369.9h0M474.5,350.4h0M502.0,366.9h0M512.2,362.7h0M512.2,368.7h0M481.5,348.5h0M491.7,379.6h0M506.9,370.0h0M502.7,342.8h0M501.1,361.0h0M489.7,377.5h0M508.3,375.4h0M506.8,347.6h0M506.8,346.2h0M501.6,370.8h0" stroke="#8a4a40" stroke-width="1.1" stroke-opacity="0.6"/><path d="M508.7,361.0h0M508.2,357.8h0M487.0,347.2h0M488.0,347.2h0M506.3,351.3h0M492.2,373.4h0M505.5,364.6h0M493.0,344.5h0M483.6,362.3h0M503.5,339.9h0M493.1,359.3h0M475.0,368.0h0M487.7,350.0h0M510.7,371.8h0M509.5,367.2h0M486.0,353.3h0M474.4,366.2h0M500.1,358.7h0M505.2,361.0h0M514.6,365.5h0M505.9,365.3h0M503.5,346.7h0M494.5,364.3h0M495.8,371.1h0M502.4,346.6h0M483.0,355.0h0M475.8,370.6h0M508.1,371.1h0M488.3,372.2h0M491.5,345.7h0M478.3,359.8h0M487.9,359.3h0M483.1,367.4h0M483.4,364.6h0M475.6,364.9h0M499.5,361.5h0M477.3,355.0h0M495.2,354.9h0M511.5,359.8h0M497.3,374.2h0M492.1,365.1h0M482.2,354.0h0M473.0,360.5h0M474.3,365.1h0M491.4,368.0h0M483.9,365.8h0M492.8,351.0h0M492.2,348.4h0M485.2,364.4h0M499.1,365.4h0M501.0,358.1h0M507.5,351.8h0M501.0,352.3h0M477.9,349.4h0M487.8,375.3h0M505.9,350.5h0M511.2,361.9h0M496.9,343.9h0M501.1,347.4h0M479.8,363.2h0M498.9,362.1h0M480.2,342.6h0M502.6,378.3h0M487.3,371.7h0M495.8,359.3h0M475.1,349.1h0M488.6,352.6h0M489.7,351.9h0M474.8,362.4h0M484.3,367.0h0M488.8,369.7h0M513.0,360.6h0M486.4,364.9h0M492.2,363.0h0M477.1,362.0h0M483.1,348.4h0M502.7,358.2h0M499.5,374.7h0M483.4,365.2h0M491.5,342.8h0M476.8,351.2h0M479.8,366.4h0M503.0,358.1h0M476.8,362.6h0M494.5,352.1h0M502.7,366.5h0M488.8,349.8h0M508.2,361.9h0M504.5,374.1h0M512.5,352.6h0M480.9,352.8h0M508.6,361.2h0M481.7,357.1h0M475.6,370.7h0M485.9,367.0h0M473.7,366.6h0M508.8,362.7h0M510.3,357.6h0M488.6,370.6h0M491.0,351.1h0M511.8,353.0h0M501.6,353.9h0M506.6,360.2h0M477.9,362.1h0M490.9,355.8h0M502.0,355.3h0M497.1,366.1h0M487.3,364.9h0M491.0,345.7h0M503.5,368.4h0M501.3,343.8h0M509.6,365.9h0M477.8,359.5h0M493.9,350.2h0M487.6,340.0h0M506.0,351.7h0M497.2,377.4h0M516.1,358.3h0M483.4,351.6h0M501.7,354.6h0M481.1,342.4h0M476.0,351.5h0M476.9,366.9h0M498.1,376.9h0M500.0,365.9h0M503.2,367.5h0M512.8,359.5h0M511.6,348.1h0M509.2,362.9h0M505.4,371.4h0M515.8,360.5h0M484.9,361.4h0M483.2,365.2h0M479.6,360.2h0M506.3,356.2h0M509.3,365.5h0M480.7,360.8h0M514.1,353.9h0M486.9,363.2h0M508.8,345.1h0M506.7,352.3h0M495.6,374.9h0M474.9,355.5h0M508.0,375.8h0M482.2,355.9h0M489.3,355.3h0M501.8,344.2h0M495.4,363.6h0M474.3,354.6h0M495.5,380.7h0" stroke="#8a4a40" stroke-width="1.7" stroke-opacity="0.6"/></g><g filter="url(#fblur)"></g><circle cx="493.95" cy="358.75" r="21.6" fill="none" stroke="#857898" stroke-opacity="0.3" stroke-width="1.1"/></g><g clip-path="url(#c10)"><circle cx="102.75" cy="406.00" r="22.1" fill="#b6a7c3"/><circle cx="102.75" cy="406.00" r="22.1" fill="#000" filter="url(#dkG)" opacity="0.22"/><circle cx="102.75" cy="406.00" r="22.1" fill="#000" filter="url(#spk)" opacity="0.3"/><g filter="url(#fblur)"><path d="M103.8,395.0 Q109.8,392.0 114.8,393.0 L119.8,394.0" stroke="#f3eef4" stroke-opacity="0.4" stroke-width="2.6" fill="none" stroke-linecap="round" stroke-linejoin="round"/><path d="M105.8,399.0 Q112.8,398.0 116.2,398.5 L119.8,399.0" stroke="#f3eef4" stroke-opacity="0.3" stroke-width="1.8" fill="none" stroke-linecap="round" stroke-linejoin="round"/><path d="M98.8,407.0 Q110.8,407.0 114.8,407.5 L118.8,408.0" stroke="#f3eef4" stroke-opacity="0.4" stroke-width="1.4" fill="none" stroke-linecap="round" stroke-linejoin="round"/><path d="M100.8,412.0 Q112.8,412.0 116.2,412.5 L119.8,413.0" stroke="#f3eef4" stroke-opacity="0.35" stroke-width="1.2" fill="none" stroke-linecap="round" stroke-linejoin="round"/></g><circle cx="102.75" cy="406.00" r="21.6" fill="none" stroke="#857898" stroke-opacity="0.3" stroke-width="1.1"/></g><g clip-path="url(#c11)"><circle cx="151.65" cy="406.00" r="22.1" fill="#b6a7c3"/><circle cx="151.65" cy="406.00" r="22.1" fill="#000" filter="url(#dkG)" opacity="0.22"/><circle cx="151.65" cy="406.00" r="22.1" fill="#000" filter="url(#spk)" opacity="0.3"/><g filter="url(#fblur)"><path d="M143.7,394.0 Q140.7,404.0 140.2,409.0 L139.7,414.0" stroke="#f3eef4" stroke-opacity="0.35" stroke-width="2.2" fill="none" stroke-linecap="round" stroke-linejoin="round"/><path d="M137.7,412.0 L141.7,409.0" stroke="#f3eef4" stroke-opacity="0.35" stroke-width="1.6" fill="none" stroke-linecap="round" stroke-linejoin="round"/><circle cx="156.7" cy="415.0" r="1.0" fill="#2a1a3a" opacity="0.85"/><circle cx="149.7" cy="423.0" r="0.6" fill="#2a1a3a" opacity="0.6"/></g><circle cx="151.65" cy="406.00" r="21.6" fill="none" stroke="#857898" stroke-opacity="0.3" stroke-width="1.1"/></g><g clip-path="url(#c12)"><circle cx="200.55" cy="406.00" r="22.1" fill="#b6a7c3"/><circle cx="200.55" cy="406.00" r="22.1" fill="#000" filter="url(#dkG)" opacity="0.22"/><circle cx="200.55" cy="406.00" r="22.1" fill="#000" filter="url(#spk)" opacity="0.3"/><g filter="url(#fblur)"><path d="M203.1,394.0 Q201.1,404.0 200.6,408.0 Q200.1,412.0 197.1,414.0 Q194.1,416.0 189.6,416.0 L185.1,416.0" stroke="#f3eef4" stroke-opacity="0.36" stroke-width="2.4" fill="none" stroke-linecap="round" stroke-linejoin="round"/><path d="M186.1,420.0 Q198.1,421.0 203.1,419.5 L208.1,418.0" stroke="#f3eef4" stroke-opacity="0.3" stroke-width="1.8" fill="none" stroke-linecap="round" stroke-linejoin="round"/><circle cx="204.6" cy="422.0" r="1.0" fill="#2a1a3a" opacity="0.8"/><circle cx="186.6" cy="407.0" r="0.7" fill="#2a1a3a" opacity="0.6"/><circle cx="210.6" cy="398.0" r="0.6" fill="#2a1a3a" opacity="0.5"/></g><circle cx="200.55" cy="406.00" r="21.6" fill="none" stroke="#857898" stroke-opacity="0.3" stroke-width="1.1"/></g><g clip-path="url(#c13)"><circle cx="249.45" cy="406.00" r="22.1" fill="#b6a7c3"/><circle cx="249.45" cy="406.00" r="22.1" fill="#000" filter="url(#dkG)" opacity="0.22"/><circle cx="249.45" cy="406.00" r="22.1" fill="#000" filter="url(#spk)" opacity="0.3"/><g filter="url(#fblur)"><path d="M250.9,394.0 Q248.9,404.0 248.4,408.0 Q247.9,412.0 244.9,414.0 Q241.9,416.0 237.4,416.0 L232.9,416.0" stroke="#f3eef4" stroke-opacity="0.36" stroke-width="2.4" fill="none" stroke-linecap="round" stroke-linejoin="round"/><path d="M233.9,420.0 Q245.9,421.0 250.9,419.5 L255.9,418.0" stroke="#f3eef4" stroke-opacity="0.3" stroke-width="1.8" fill="none" stroke-linecap="round" stroke-linejoin="round"/><circle cx="247.4" cy="397.0" r="0.9" fill="#2a1a3a" opacity="0.8"/></g><circle cx="249.45" cy="406.00" r="21.6" fill="none" stroke="#857898" stroke-opacity="0.3" stroke-width="1.1"/></g><g clip-path="url(#c14)"><circle cx="298.35" cy="406.00" r="22.1" fill="#b6a7c3"/><circle cx="298.35" cy="406.00" r="22.1" fill="#000" filter="url(#dkG)" opacity="0.22"/><circle cx="298.35" cy="406.00" r="22.1" fill="#000" filter="url(#spk)" opacity="0.3"/><g filter="url(#fblur)"><path d="M298.6,394.0 Q296.6,404.0 296.1,408.0 Q295.6,412.0 292.6,414.0 Q289.6,416.0 285.1,416.0 L280.6,416.0" stroke="#f3eef4" stroke-opacity="0.36" stroke-width="2.4" fill="none" stroke-linecap="round" stroke-linejoin="round"/><path d="M281.6,420.0 Q293.6,421.0 298.6,419.5 L303.6,418.0" stroke="#f3eef4" stroke-opacity="0.3" stroke-width="1.8" fill="none" stroke-linecap="round" stroke-linejoin="round"/><circle cx="299.9" cy="386.0" r="1.3" fill="#1a0a20" opacity="0.95"/></g><circle cx="298.35" cy="406.00" r="21.6" fill="none" stroke="#857898" stroke-opacity="0.3" stroke-width="1.1"/></g><g clip-path="url(#c15)"><circle cx="347.25" cy="406.00" r="22.1" fill="#b6a7c3"/><circle cx="347.25" cy="406.00" r="22.1" fill="#000" filter="url(#dkG)" opacity="0.12"/><circle cx="347.25" cy="406.00" r="22.1" fill="#000" filter="url(#spk)" opacity="0.3"/><g filter="url(#fblur)"><path d="M346.5,394.0 Q344.5,404.0 344.0,408.0 Q343.5,412.0 340.5,414.0 Q337.5,416.0 333.0,416.0 L328.5,416.0" stroke="#f3eef4" stroke-opacity="0.36" stroke-width="2.4" fill="none" stroke-linecap="round" stroke-linejoin="round"/><path d="M329.5,420.0 Q341.5,421.0 346.5,419.5 L351.5,418.0" stroke="#f3eef4" stroke-opacity="0.3" stroke-width="1.8" fill="none" stroke-linecap="round" stroke-linejoin="round"/></g><circle cx="347.25" cy="406.00" r="21.6" fill="none" stroke="#857898" stroke-opacity="0.3" stroke-width="1.1"/></g><g clip-path="url(#c16)"><circle cx="396.15" cy="406.00" r="22.1" fill="#c4aab6"/><g filter="url(#fblur2)" stroke-linecap="round" fill="none"><path d="M390.9,385.3h0M417.9,408.3h0M398.5,401.2h0M403.1,387.1h0M404.6,426.5h0M386.2,417.4h0M385.5,390.6h0M395.9,394.1h0M387.9,406.8h0M393.7,421.6h0M408.0,412.0h0M399.9,397.3h0M392.2,407.8h0M395.6,398.9h0M404.2,423.7h0M380.5,411.9h0M383.9,396.0h0M388.3,410.0h0M402.5,413.9h0M396.6,418.7h0M404.2,399.5h0M404.1,414.6h0M410.0,421.1h0M415.0,400.3h0M412.1,401.2h0M382.8,410.1h0M389.8,397.0h0M382.3,403.9h0M385.8,387.7h0M391.6,399.0h0M380.1,395.3h0M390.5,404.6h0M409.9,415.2h0M392.9,390.5h0M393.9,389.5h0M400.8,396.6h0M405.7,389.0h0M404.2,413.0h0M390.8,425.2h0M392.4,401.5h0M395.0,393.6h0M403.9,397.0h0M406.5,413.7h0M381.8,409.5h0M389.0,404.3h0M395.5,410.5h0M411.8,404.7h0M394.1,415.0h0M394.9,405.0h0M406.2,421.4h0M377.5,402.7h0M403.5,395.5h0M397.8,385.9h0M403.8,391.4h0M396.5,401.9h0M402.3,421.9h0M379.6,400.1h0M391.8,408.6h0M391.9,415.1h0M390.7,396.5h0M397.2,389.6h0M382.6,417.3h0M406.1,397.7h0M415.7,413.3h0M390.9,426.6h0M381.9,408.1h0M400.3,399.6h0M404.0,397.1h0M399.7,384.3h0M403.0,394.9h0M412.2,402.7h0M392.1,419.0h0M411.5,415.1h0M380.3,411.8h0M407.5,396.0h0M413.3,409.0h0M411.0,415.0h0M381.6,402.0h0M392.6,400.3h0M389.7,413.9h0" stroke="#f2e8ee" stroke-width="1.3" stroke-opacity="0.6"/><path d="M397.8,413.6h0M399.9,426.5h0M413.6,403.5h0M396.6,403.3h0M386.0,422.2h0M400.5,403.2h0M418.3,404.8h0M408.2,413.6h0M407.4,399.1h0M404.9,420.8h0M382.1,392.1h0M399.0,421.7h0M403.6,426.5h0M414.6,394.0h0M402.4,413.2h0M402.4,391.9h0M406.7,391.3h0M403.6,407.6h0M394.5,394.4h0M381.7,416.3h0M402.8,408.3h0M393.1,406.2h0M388.3,417.6h0M401.5,409.8h0M397.7,387.4h0M381.0,406.9h0M409.4,398.1h0M403.3,420.3h0M379.4,407.1h0M387.0,419.1h0M414.0,410.6h0M410.9,393.5h0M408.1,387.2h0M381.5,406.7h0M395.7,395.4h0M390.2,422.3h0M417.9,410.8h0M410.8,399.3h0M386.6,396.9h0M389.4,407.8h0M390.4,413.9h0M381.1,416.4h0M400.2,401.0h0M407.9,419.3h0M411.7,399.6h0M375.4,403.5h0M396.4,407.0h0M378.9,405.5h0M409.5,419.0h0M380.7,392.5h0M393.3,411.1h0M397.7,416.8h0M387.5,421.9h0M393.1,428.1h0M406.5,424.3h0M397.2,427.6h0M398.5,422.6h0M396.6,425.1h0M381.5,393.5h0M388.7,411.1h0M387.2,424.8h0M386.7,405.9h0M410.5,413.7h0M405.3,389.9h0M397.3,400.5h0M384.7,410.5h0M398.6,427.7h0M404.3,395.5h0M406.4,405.3h0M403.6,392.7h0M375.8,415.3h0M401.2,387.9h0M386.3,390.8h0M404.2,389.0h0M385.8,419.9h0M387.2,410.8h0M414.5,417.2h0M382.1,414.0h0M405.1,420.0h0M411.0,394.4h0" stroke="#f2e8ee" stroke-width="2.1" stroke-opacity="0.6"/><path d="M386.9,391.8h0M398.1,406.1h0M380.0,393.2h0M394.9,424.1h0M388.4,420.9h0M378.5,416.0h0M388.0,386.2h0M391.2,386.4h0M389.0,404.0h0M374.7,407.5h0M414.0,411.5h0M399.3,425.2h0M407.9,421.5h0M396.3,418.9h0M401.9,397.2h0M383.0,411.5h0M381.4,413.1h0M386.2,400.9h0M379.5,404.3h0M400.8,395.5h0M385.9,423.4h0M383.4,410.1h0M390.2,404.1h0M392.7,427.5h0M377.9,407.5h0M413.3,415.4h0M408.8,417.9h0M386.1,407.7h0M376.7,417.2h0M380.2,395.5h0M383.4,398.9h0M398.9,416.9h0M390.1,404.2h0M391.3,403.2h0M387.1,387.4h0M391.1,405.8h0M382.7,393.0h0M391.3,397.2h0M401.0,384.3h0M383.7,423.8h0M402.8,424.9h0M379.0,396.2h0" stroke="#a05060" stroke-width="1.1" stroke-opacity="0.45"/><path d="M375.3,413.3h0M403.2,389.3h0M379.9,414.5h0M380.6,418.8h0M392.7,417.7h0M408.4,419.1h0M402.3,390.4h0M378.2,406.6h0M414.1,401.8h0M378.5,408.5h0M381.6,411.8h0M378.8,402.2h0M407.4,414.0h0M399.2,424.8h0M388.3,399.0h0M391.8,427.5h0M408.2,423.9h0M379.0,393.7h0M384.7,396.9h0M386.3,396.7h0M387.3,409.6h0M388.4,393.0h0M387.5,397.8h0M400.6,415.9h0M392.2,400.9h0M385.7,418.6h0M389.5,391.3h0M403.8,425.7h0M391.1,390.9h0M402.6,412.9h0M389.1,401.1h0M376.2,403.0h0M409.1,393.5h0" stroke="#a05060" stroke-width="1.7" stroke-opacity="0.45"/></g><g filter="url(#fblur)"><path d="M398.6,394.0 Q396.6,404.0 396.1,408.0 Q395.6,412.0 392.6,414.0 Q389.6,416.0 385.1,416.0 L380.6,416.0" stroke="#f3eef4" stroke-opacity="0.55" stroke-width="2.4" fill="none" stroke-linecap="round" stroke-linejoin="round"/><path d="M381.6,420.0 Q393.6,421.0 398.6,419.5 L403.6,418.0" stroke="#f3eef4" stroke-opacity="0.3" stroke-width="1.8" fill="none" stroke-linecap="round" stroke-linejoin="round"/><circle cx="397.1" cy="401.0" r="1.0" fill="#2a1010" opacity="0.9"/><circle cx="382.3" cy="395.0" r="0.8" fill="#a03040" opacity="0.55"/><circle cx="379.1" cy="400.0" r="0.8" fill="#a03040" opacity="0.55"/><circle cx="385.2" cy="416.3" r="0.8" fill="#a03040" opacity="0.55"/><circle cx="381.0" cy="403.5" r="0.8" fill="#a03040" opacity="0.55"/><circle cx="381.8" cy="416.0" r="0.8" fill="#a03040" opacity="0.55"/><circle cx="381.7" cy="400.1" r="0.8" fill="#a03040" opacity="0.55"/><circle cx="382.2" cy="392.1" r="0.8" fill="#a03040" opacity="0.55"/><circle cx="382.3" cy="395.3" r="0.8" fill="#a03040" opacity="0.55"/></g><circle cx="396.15" cy="406.00" r="21.6" fill="none" stroke="#857898" stroke-opacity="0.3" stroke-width="1.1"/></g><g clip-path="url(#c17)"><circle cx="445.05" cy="406.00" r="22.1" fill="#b6a7c3"/><circle cx="445.05" cy="406.00" r="22.1" fill="#000" filter="url(#dkG)" opacity="0.12"/><circle cx="445.05" cy="406.00" r="22.1" fill="#000" filter="url(#spk)" opacity="0.15"/><g filter="url(#fblur)"><path d="M446.1,394.0 Q444.1,404.0 443.6,408.0 Q443.1,412.0 440.1,414.0 Q437.1,416.0 432.6,416.0 L428.1,416.0" stroke="#f3eef4" stroke-opacity="0.36" stroke-width="2.4" fill="none" stroke-linecap="round" stroke-linejoin="round"/><path d="M429.1,420.0 Q441.1,421.0 446.1,419.5 L451.1,418.0" stroke="#f3eef4" stroke-opacity="0.3" stroke-width="1.8" fill="none" stroke-linecap="round" stroke-linejoin="round"/><circle cx="463.1" cy="400.0" r="1.2" fill="#1a0a20" opacity="0.9"/></g><circle cx="445.05" cy="406.00" r="21.6" fill="none" stroke="#857898" stroke-opacity="0.3" stroke-width="1.1"/></g><g clip-path="url(#c18)"><circle cx="493.95" cy="406.00" r="22.1" fill="#b88c90"/><g filter="url(#fblur2)" stroke-linecap="round" fill="none"><path d="M507.8,420.9h0M504.2,396.5h0M492.3,415.8h0M503.1,411.1h0M500.1,425.9h0M497.5,415.1h0M513.3,396.6h0M504.2,413.7h0M508.0,405.0h0M480.9,392.6h0M490.8,401.8h0M490.5,386.0h0M481.4,410.2h0M490.1,383.9h0M503.4,402.4h0M494.8,390.3h0M516.0,404.2h0M472.7,408.1h0M499.6,401.0h0M475.8,418.2h0M495.4,420.8h0M484.7,396.3h0M496.1,396.6h0M480.3,396.4h0M513.7,409.4h0M499.1,385.9h0M499.9,421.3h0M505.2,421.6h0M478.0,392.0h0M501.4,414.5h0M513.4,415.5h0M488.8,399.3h0M492.9,391.0h0M477.7,417.5h0M492.1,390.4h0M490.3,419.5h0M486.5,412.3h0M501.8,420.9h0M510.9,402.9h0M490.7,408.2h0M505.1,399.9h0M488.7,424.3h0M499.5,401.0h0M503.4,410.5h0M510.1,405.5h0M508.5,416.9h0M486.6,405.9h0M506.5,411.6h0M508.4,403.1h0M507.7,405.2h0M490.7,412.4h0M486.8,400.4h0M510.8,400.5h0M511.5,408.4h0M475.9,409.1h0M488.0,401.4h0M476.2,408.4h0M512.1,416.7h0M491.6,396.4h0M506.7,412.5h0M481.6,393.1h0M506.7,417.8h0M485.1,403.1h0M476.1,405.6h0M493.0,398.5h0M510.9,414.4h0M510.7,404.7h0M504.7,397.2h0M503.7,421.5h0M490.4,426.5h0M493.8,400.9h0M486.4,424.6h0M504.0,409.6h0M512.2,410.3h0M512.5,401.9h0M501.7,399.7h0M502.0,385.1h0M498.5,396.4h0M487.6,426.9h0M488.9,392.5h0M493.6,410.5h0M496.8,388.8h0M499.0,412.3h0M515.4,404.7h0M503.2,406.4h0M504.9,395.6h0M503.8,393.8h0M478.0,421.1h0M485.7,426.2h0M495.2,398.0h0M513.9,396.7h0M505.9,417.4h0M482.7,406.7h0M492.1,384.4h0M508.6,392.0h0M478.4,415.3h0M502.0,396.0h0M494.4,391.2h0M505.0,398.5h0M479.5,401.7h0M503.5,418.5h0M492.3,388.3h0M512.5,398.5h0M505.4,417.0h0M491.2,407.0h0M510.8,399.8h0M486.4,422.1h0M483.5,389.3h0M507.0,395.0h0M477.1,404.2h0M494.5,409.9h0M492.8,386.9h0M505.4,412.9h0M494.8,413.5h0M489.3,392.6h0M486.0,423.6h0M497.7,394.8h0M483.3,401.5h0M493.3,417.6h0M491.1,415.2h0" stroke="#f0e2e6" stroke-width="1.3" stroke-opacity="0.7"/><path d="M514.9,409.9h0M482.1,406.3h0M472.2,406.0h0M510.9,418.3h0M492.9,409.1h0M505.6,404.1h0M499.9,403.1h0M506.6,419.6h0M504.1,423.1h0M474.4,416.2h0M477.8,414.4h0M488.3,418.0h0M482.2,402.8h0M482.8,399.6h0M485.4,403.9h0M488.8,417.9h0M471.8,409.2h0M509.2,404.1h0M484.7,388.0h0M505.0,392.3h0M502.3,422.1h0M487.3,411.1h0M504.6,422.0h0M494.0,418.0h0M483.5,413.1h0M483.5,403.9h0M502.4,422.5h0M512.5,415.8h0M501.3,403.8h0M478.1,392.6h0M500.5,427.0h0M490.6,410.1h0M505.6,409.9h0M489.3,423.7h0M475.4,397.9h0M483.6,397.9h0M513.0,414.4h0M485.8,425.6h0M504.2,410.3h0M510.1,394.5h0M509.8,416.3h0M502.6,389.2h0M492.8,394.9h0M474.7,412.0h0M492.0,403.0h0M498.6,417.6h0M501.8,416.1h0M507.2,422.7h0M490.6,428.0h0M499.4,394.8h0M499.9,426.3h0M481.3,419.8h0M492.2,389.9h0M488.1,389.0h0M485.6,401.9h0M503.0,389.1h0M506.8,413.4h0M497.6,421.6h0M488.6,416.3h0M503.9,422.8h0M490.8,408.5h0M473.5,397.0h0M475.4,417.3h0M481.7,391.1h0M494.8,413.0h0M489.4,396.2h0M492.8,404.9h0M506.6,399.0h0M513.0,398.7h0M508.2,389.4h0M511.5,413.8h0M498.9,427.5h0M506.2,397.2h0M485.5,398.7h0M491.0,419.0h0M486.9,423.4h0M511.6,399.5h0M513.4,406.9h0M484.5,414.3h0M496.6,415.4h0M508.9,401.7h0M494.7,402.7h0M501.7,389.3h0M508.4,395.0h0M500.8,395.4h0M503.1,385.5h0M487.4,419.8h0M494.5,384.3h0M494.6,397.8h0M508.9,408.2h0M476.3,414.2h0M477.2,403.4h0M491.4,411.6h0M483.7,418.0h0M475.5,398.6h0M479.0,393.1h0M477.8,413.4h0M484.7,422.1h0M496.7,395.6h0M480.2,401.3h0M490.2,396.7h0M486.5,400.3h0M500.7,400.6h0M481.4,417.7h0M493.2,384.6h0M501.4,410.1h0M473.8,402.7h0M515.6,405.3h0M472.6,401.3h0M489.8,385.4h0M495.6,385.4h0M477.3,405.6h0M496.9,428.2h0M495.0,405.9h0M499.8,384.9h0M493.8,384.3h0M508.6,395.0h0M514.6,406.8h0M509.5,413.2h0M515.4,410.8h0" stroke="#f0e2e6" stroke-width="2.1" stroke-opacity="0.7"/><path d="M475.1,415.3h0M499.8,397.4h0M493.8,384.0h0M491.8,389.6h0M505.1,407.7h0M503.6,389.8h0M490.2,410.4h0M481.0,401.9h0M489.6,414.1h0M501.7,400.4h0M487.4,425.3h0M497.7,388.7h0M475.2,404.7h0M494.9,403.7h0M500.6,385.8h0M480.0,420.4h0M479.4,389.2h0M513.0,399.3h0M481.1,397.0h0M501.1,389.4h0M501.2,396.5h0M498.3,402.9h0M492.6,396.5h0M475.9,398.9h0M493.7,410.4h0M491.6,395.2h0M498.3,408.1h0M479.2,396.4h0M507.8,404.7h0M503.9,394.4h0M502.6,419.9h0M489.4,410.6h0M506.8,401.6h0M493.7,428.3h0M498.1,385.3h0M501.6,422.0h0M475.9,408.9h0M493.7,393.0h0M498.9,404.6h0M478.5,421.0h0M480.2,398.6h0M476.7,408.3h0M513.0,407.8h0M484.6,413.1h0M486.7,409.8h0M510.6,398.0h0M493.9,409.6h0M479.4,391.8h0M506.6,417.7h0M500.4,398.3h0M479.5,399.1h0M509.2,416.6h0M498.4,426.3h0M492.4,417.2h0M480.9,396.2h0M500.0,395.6h0M489.6,409.0h0M473.9,404.0h0M477.0,407.3h0M506.5,398.3h0M500.5,419.6h0M491.9,408.4h0M494.0,404.1h0M492.3,426.4h0M499.1,400.3h0M484.8,407.9h0M504.1,386.9h0M483.8,409.1h0M481.9,417.7h0M499.5,406.0h0M515.0,399.0h0M489.7,401.6h0M479.9,418.9h0M509.0,414.7h0M490.5,404.1h0M481.1,392.1h0M498.1,414.4h0M493.3,408.6h0M486.4,417.4h0M504.2,421.1h0M496.5,393.6h0M492.7,396.2h0M515.0,404.0h0M507.4,410.3h0M483.2,389.8h0M494.8,394.8h0M509.8,396.9h0M485.3,388.6h0M510.7,395.6h0M483.2,394.6h0M498.9,407.5h0M493.4,387.5h0M507.4,410.5h0M511.1,393.8h0M489.5,428.0h0M481.9,412.9h0M478.4,407.1h0M484.1,418.1h0M490.0,394.6h0M474.7,394.8h0M488.9,385.1h0M505.6,411.0h0M479.9,411.2h0M497.9,412.0h0M499.2,424.5h0M499.5,390.4h0M481.7,416.6h0M473.2,407.5h0M482.3,416.4h0M494.7,406.5h0M474.9,404.4h0M494.6,423.4h0M503.8,394.1h0M504.8,422.4h0M511.7,419.3h0M510.1,399.6h0M477.0,405.0h0M483.8,414.2h0M475.1,413.3h0M483.9,390.1h0M483.4,387.0h0M508.3,412.7h0M492.0,410.3h0M486.4,400.6h0M492.6,387.3h0M482.3,423.4h0M484.9,394.8h0M480.4,406.5h0M475.8,407.0h0M483.2,414.5h0" stroke="#8e4a4e" stroke-width="1.1" stroke-opacity="0.55"/><path d="M488.1,413.4h0M492.7,388.9h0M512.1,402.1h0M507.1,397.5h0M504.4,406.1h0M481.6,404.4h0M509.8,416.6h0M481.9,409.7h0M495.5,397.4h0M482.5,401.9h0M481.5,417.6h0M478.4,402.6h0M492.0,414.8h0M495.8,398.7h0M505.0,417.8h0M512.5,397.9h0M491.1,404.7h0M485.3,406.8h0M505.1,393.3h0M476.6,405.5h0M488.2,387.3h0M503.5,416.6h0M508.4,408.2h0M489.8,393.5h0M473.4,413.6h0M479.9,394.1h0M474.3,409.2h0M501.9,416.3h0M504.7,405.2h0M486.9,418.0h0M477.0,399.7h0M511.2,396.9h0M502.6,416.5h0M503.6,390.7h0M490.7,402.9h0M498.9,413.3h0M490.3,391.4h0M483.4,424.4h0M509.3,393.3h0M495.6,422.6h0M507.4,401.7h0M501.2,410.4h0M509.7,392.6h0M502.9,405.0h0M488.0,394.4h0M483.7,405.8h0M486.0,395.0h0M487.9,390.4h0M481.4,408.0h0M505.2,418.3h0M497.0,402.8h0M481.6,396.7h0M488.8,395.1h0M512.5,402.4h0M499.7,388.4h0M490.2,385.9h0M484.6,424.5h0M479.6,412.9h0M482.4,397.8h0M501.3,411.0h0M493.4,414.1h0M503.0,392.3h0M482.6,425.1h0M493.0,394.9h0M486.9,384.8h0M508.1,399.9h0M476.6,407.6h0M488.3,406.6h0M479.4,420.8h0M484.5,407.7h0M512.3,409.4h0M497.7,397.7h0M489.2,394.6h0M501.8,413.1h0M505.0,415.2h0M514.3,410.1h0M498.2,425.4h0M502.8,406.8h0M493.3,421.1h0M499.1,397.2h0M479.3,419.8h0M499.3,413.5h0M506.4,416.6h0M486.9,422.7h0M480.8,392.9h0M473.0,405.8h0M494.6,384.3h0M498.1,389.4h0M514.1,398.5h0M508.1,395.9h0M488.4,404.7h0M495.1,412.2h0M485.4,386.3h0M513.9,408.8h0M475.5,417.6h0M483.7,406.3h0M500.9,426.9h0M492.5,402.0h0M502.4,401.6h0M505.1,413.8h0M499.5,397.3h0M487.1,399.4h0M484.6,416.5h0M507.0,393.0h0M474.4,414.7h0M496.8,387.6h0M505.8,407.9h0M483.7,386.0h0M493.0,425.8h0M501.8,402.5h0M504.2,387.5h0M474.7,402.7h0M477.6,393.0h0M486.3,401.4h0M490.9,419.9h0M481.9,393.4h0M492.9,420.7h0M497.5,390.4h0M508.4,392.5h0M509.8,412.9h0M513.9,412.8h0M511.6,411.1h0M487.3,408.0h0M500.1,425.4h0M505.4,407.8h0M500.2,409.4h0M491.3,419.0h0M506.9,394.1h0M502.3,387.1h0M495.5,385.1h0" stroke="#8e4a4e" stroke-width="1.7" stroke-opacity="0.55"/></g><g filter="url(#fblur)"><path d="M476.9,414.0 Q485.9,416.0 490.9,415.0 Q495.9,414.0 498.9,415.0 L501.9,416.0" stroke="#f2e6e8" stroke-opacity="0.7" stroke-width="2.4" fill="none" stroke-linecap="round" stroke-linejoin="round"/><path d="M479.9,404.0 Q489.9,405.0 494.9,405.5 L499.9,406.0" stroke="#f2e6e8" stroke-opacity="0.45" stroke-width="1.4" fill="none" stroke-linecap="round" stroke-linejoin="round"/><path d="M474.9,400.0 L475.9,410.0" stroke="#f2e6e8" stroke-opacity="0.6" stroke-width="1.6" fill="none" stroke-linecap="round" stroke-linejoin="round"/></g><circle cx="493.95" cy="406.00" r="21.6" fill="none" stroke="#857898" stroke-opacity="0.3" stroke-width="1.1"/></g><g clip-path="url(#c20)"><circle cx="102.75" cy="453.20" r="22.1" fill="#beafc3"/><circle cx="102.75" cy="453.20" r="22.1" fill="#000" filter="url(#dkG)" opacity="0.1"/><circle cx="102.75" cy="453.20" r="22.1" fill="#000" filter="url(#spk)" opacity="0.16"/><g filter="url(#fblur)"><path d="M105.8,449.2 L109.8,446.2" stroke="#f3eef4" stroke-opacity="0.4" stroke-width="1.6" fill="none" stroke-linecap="round" stroke-linejoin="round"/></g><circle cx="102.75" cy="453.20" r="21.6" fill="none" stroke="#857898" stroke-opacity="0.3" stroke-width="1.1"/></g><g clip-path="url(#c21)"><circle cx="151.65" cy="453.20" r="22.1" fill="#beafc3"/><circle cx="151.65" cy="453.20" r="22.1" fill="#000" filter="url(#dkG)" opacity="0.1"/><circle cx="151.65" cy="453.20" r="22.1" fill="#000" filter="url(#spk)" opacity="0.16"/><g filter="url(#fblur)"><path d="M154.7,449.2 L158.7,446.2" stroke="#f3eef4" stroke-opacity="0.4" stroke-width="1.6" fill="none" stroke-linecap="round" stroke-linejoin="round"/></g><circle cx="151.65" cy="453.20" r="21.6" fill="none" stroke="#857898" stroke-opacity="0.3" stroke-width="1.1"/></g><g clip-path="url(#c22)"><circle cx="200.55" cy="453.20" r="22.1" fill="#beafc3"/><circle cx="200.55" cy="453.20" r="22.1" fill="#000" filter="url(#dkG)" opacity="0.1"/><circle cx="200.55" cy="453.20" r="22.1" fill="#000" filter="url(#spk)" opacity="0.16"/><g filter="url(#fblur)"><path d="M203.6,449.2 L207.6,446.2" stroke="#f3eef4" stroke-opacity="0.4" stroke-width="1.6" fill="none" stroke-linecap="round" stroke-linejoin="round"/></g><circle cx="200.55" cy="453.20" r="21.6" fill="none" stroke="#857898" stroke-opacity="0.3" stroke-width="1.1"/></g><g clip-path="url(#c23)"><circle cx="249.45" cy="453.20" r="22.1" fill="#beafc3"/><circle cx="249.45" cy="453.20" r="22.1" fill="#000" filter="url(#dkG)" opacity="0.1"/><circle cx="249.45" cy="453.20" r="22.1" fill="#000" filter="url(#spk)" opacity="0.16"/><g filter="url(#fblur)"><path d="M252.4,449.2 L256.4,446.2" stroke="#f3eef4" stroke-opacity="0.4" stroke-width="1.6" fill="none" stroke-linecap="round" stroke-linejoin="round"/></g><circle cx="249.45" cy="453.20" r="21.6" fill="none" stroke="#857898" stroke-opacity="0.3" stroke-width="1.1"/></g><g clip-path="url(#c24)"><circle cx="298.35" cy="453.20" r="22.1" fill="#beafc3"/><circle cx="298.35" cy="453.20" r="22.1" fill="#000" filter="url(#dkG)" opacity="0.1"/><circle cx="298.35" cy="453.20" r="22.1" fill="#000" filter="url(#spk)" opacity="0.16"/><g filter="url(#fblur)"><path d="M301.4,449.2 L305.4,446.2" stroke="#f3eef4" stroke-opacity="0.4" stroke-width="1.6" fill="none" stroke-linecap="round" stroke-linejoin="round"/></g><circle cx="298.35" cy="453.20" r="21.6" fill="none" stroke="#857898" stroke-opacity="0.3" stroke-width="1.1"/></g><g clip-path="url(#c25)"><circle cx="347.25" cy="453.20" r="22.1" fill="#beafc3"/><circle cx="347.25" cy="453.20" r="22.1" fill="#000" filter="url(#dkG)" opacity="0.1"/><circle cx="347.25" cy="453.20" r="22.1" fill="#000" filter="url(#spk)" opacity="0.16"/><g filter="url(#fblur)"><path d="M350.2,449.2 L354.2,446.2" stroke="#f3eef4" stroke-opacity="0.4" stroke-width="1.6" fill="none" stroke-linecap="round" stroke-linejoin="round"/></g><circle cx="347.25" cy="453.20" r="21.6" fill="none" stroke="#857898" stroke-opacity="0.3" stroke-width="1.1"/></g><g clip-path="url(#c26)"><circle cx="396.15" cy="453.20" r="22.1" fill="#c69c9a"/><g filter="url(#fblur2)" stroke-linecap="round" fill="none"><path d="M408.6,453.9h0M394.3,432.6h0M413.7,439.7h0M400.7,463.7h0M378.3,450.1h0M402.9,471.4h0M393.3,471.5h0M388.5,443.4h0M379.6,461.7h0M384.4,449.1h0M408.4,448.2h0M393.2,459.7h0M413.9,447.2h0M388.1,439.4h0M397.1,455.6h0M377.2,445.8h0M403.0,452.8h0M401.6,455.5h0M407.2,469.3h0M387.0,435.1h0M389.1,459.3h0M411.2,436.5h0M400.1,456.9h0M406.0,461.2h0M385.9,437.5h0M397.9,462.4h0M374.5,448.2h0M401.5,452.8h0M399.5,456.0h0M381.6,449.1h0M395.3,440.3h0M407.3,436.9h0M391.0,474.3h0M395.0,452.4h0M396.3,435.0h0M392.7,436.4h0M380.8,464.8h0M393.3,449.7h0M382.6,460.1h0M392.1,471.1h0M396.7,474.9h0M389.7,445.6h0M390.4,460.8h0M381.8,453.3h0M396.8,465.1h0M386.3,473.2h0M409.4,470.8h0M395.9,466.9h0M410.2,462.1h0M410.5,442.2h0M412.1,453.8h0M401.4,458.2h0M404.9,469.4h0M400.7,473.0h0M386.7,454.7h0M416.0,458.1h0M375.5,452.0h0M400.7,471.0h0M406.8,441.0h0M414.4,453.2h0M383.6,470.3h0M381.2,441.9h0M414.6,442.0h0M379.4,454.9h0M415.7,446.9h0M397.4,475.3h0M398.1,437.6h0M406.0,471.0h0M387.4,438.0h0M375.2,452.7h0M377.9,447.4h0M393.5,457.2h0M397.5,455.9h0M395.0,443.9h0M415.3,462.2h0M393.1,450.1h0M414.8,457.9h0M415.3,448.3h0M393.9,436.3h0M402.5,474.6h0M413.7,449.7h0M416.4,459.7h0M378.1,443.7h0M394.8,456.4h0M404.8,448.5h0M410.3,444.0h0M387.2,436.2h0M396.6,452.5h0M411.8,460.4h0M404.0,468.9h0M407.7,439.2h0M401.7,472.4h0M408.1,444.3h0M394.7,470.2h0M392.3,468.0h0M389.7,456.3h0M393.9,439.3h0M386.1,441.6h0M378.3,462.6h0M401.0,468.2h0M411.5,463.1h0M394.3,471.2h0M384.2,462.7h0M393.5,449.4h0M394.5,430.9h0M401.6,434.9h0M407.5,442.3h0M393.7,445.6h0M377.8,458.8h0M408.2,442.7h0M397.2,473.7h0M391.4,434.6h0M418.3,454.5h0M400.1,449.4h0M398.3,450.1h0M385.6,447.4h0M407.4,443.3h0M413.9,452.5h0M390.1,444.1h0M399.4,454.1h0" stroke="#f0e2e4" stroke-width="1.3" stroke-opacity="0.55"/><path d="M411.6,438.6h0M390.7,454.2h0M388.8,464.8h0M381.0,450.4h0M393.9,432.6h0M378.6,451.1h0M405.6,450.6h0M403.9,458.0h0M394.3,454.7h0M400.5,431.9h0M401.2,458.4h0M379.7,446.3h0M405.7,456.8h0M404.7,454.3h0M389.6,462.3h0M406.0,468.2h0M382.9,438.4h0M386.2,458.1h0M386.4,456.3h0M390.4,455.3h0M377.2,459.4h0M399.3,445.6h0M394.2,474.8h0M377.9,465.2h0M382.3,458.4h0M388.1,463.0h0M406.9,439.4h0M394.9,470.1h0M383.0,461.8h0M408.4,464.6h0M391.1,431.7h0M395.9,447.3h0M386.8,472.8h0M411.7,444.8h0M406.0,448.5h0M388.6,461.6h0M377.0,462.0h0M415.7,463.1h0M378.7,443.0h0M375.0,452.1h0M389.6,472.4h0M415.3,460.9h0M417.3,456.6h0M389.0,434.8h0M416.7,448.4h0M380.1,452.0h0M388.7,472.1h0M388.6,436.6h0M389.5,444.2h0M387.2,466.4h0M397.4,457.4h0M411.2,459.8h0M403.9,448.9h0M409.5,466.4h0M380.2,467.3h0M408.0,456.1h0M387.8,456.4h0M381.6,456.6h0M375.4,460.0h0M414.8,459.2h0M397.9,440.6h0M394.8,439.8h0M398.3,444.1h0M405.3,470.2h0M413.2,458.2h0M390.5,461.2h0M406.6,436.6h0M398.1,441.3h0M396.5,458.7h0M393.6,448.1h0M390.7,457.9h0M388.2,440.1h0M413.8,449.7h0M404.6,433.0h0M397.7,465.1h0M416.0,460.4h0M385.6,436.7h0M413.8,445.7h0M404.6,435.7h0M385.6,451.6h0M413.8,466.7h0M396.2,439.6h0M386.0,435.2h0M392.3,463.0h0M384.0,442.7h0M397.6,446.5h0M409.6,468.8h0M398.0,444.0h0M398.1,456.5h0M397.4,444.7h0M394.6,472.5h0M387.6,444.3h0M382.8,441.4h0M402.3,449.9h0M383.0,459.6h0M415.9,452.6h0M385.1,437.1h0M387.8,455.9h0M381.7,463.5h0M412.2,445.8h0M402.6,448.2h0M400.2,462.0h0M394.4,462.0h0M382.0,452.1h0M397.0,472.7h0M415.4,453.0h0M413.8,443.8h0M407.8,456.9h0M387.1,465.5h0M397.4,449.1h0M391.4,455.1h0M392.1,461.1h0M385.0,464.4h0M389.5,474.4h0M413.2,457.2h0M391.3,443.2h0M391.8,437.0h0M401.4,466.0h0M381.4,465.9h0M402.6,454.5h0" stroke="#f0e2e4" stroke-width="2.1" stroke-opacity="0.55"/><path d="M396.0,453.1h0M386.3,433.2h0M385.4,445.3h0M405.8,451.3h0M386.6,442.1h0M391.9,471.4h0M398.6,431.6h0M393.0,436.9h0M399.6,441.5h0M406.2,469.0h0M401.4,444.4h0M388.9,452.0h0M400.5,431.5h0M378.2,459.9h0M404.2,436.2h0M386.1,459.1h0M406.0,472.8h0M389.0,457.5h0M382.3,445.1h0M405.2,457.2h0M390.3,461.3h0M418.0,453.2h0M397.7,470.8h0M380.3,452.9h0M408.2,446.1h0M408.0,448.2h0M415.0,446.9h0M407.3,440.8h0M389.2,437.2h0M410.0,462.8h0M389.8,449.7h0M399.5,470.7h0M381.6,437.7h0M394.3,432.1h0M411.6,466.3h0M398.6,462.7h0M413.0,450.7h0M390.4,452.3h0M406.4,459.9h0M391.9,460.8h0M389.4,454.3h0M412.2,460.3h0M396.3,472.8h0M389.7,472.2h0M396.9,436.9h0M387.8,442.5h0M383.3,436.7h0M385.7,449.0h0M416.4,459.0h0M380.9,461.0h0M413.4,462.7h0M386.0,443.6h0M384.3,463.2h0M393.1,433.9h0M389.6,467.8h0M412.9,462.3h0M396.6,458.1h0M392.5,462.4h0M385.6,451.2h0M407.9,440.7h0M384.7,470.0h0M397.0,447.5h0M400.9,433.9h0M406.6,455.3h0M390.1,439.2h0M409.7,436.3h0M396.9,441.0h0M416.2,454.6h0M381.5,467.6h0M409.1,442.5h0M380.6,455.4h0M409.4,458.2h0M392.1,440.1h0M386.5,452.5h0M379.7,449.0h0M408.7,460.1h0M390.1,467.2h0M396.9,460.8h0M410.9,450.6h0M391.4,463.9h0M386.9,443.0h0M392.5,461.1h0M402.2,439.4h0M403.3,441.4h0M402.2,462.6h0M378.1,463.7h0M401.4,463.2h0M403.8,449.6h0M406.8,468.8h0M400.5,444.3h0M401.6,453.8h0M388.4,442.3h0M392.4,443.7h0M396.6,433.6h0M407.4,442.3h0M388.3,448.4h0M391.3,438.3h0M398.3,444.3h0M390.9,455.2h0M383.9,466.2h0M406.0,449.8h0M384.7,456.6h0M383.0,466.7h0M416.9,449.5h0M410.6,466.1h0M408.8,464.2h0M389.3,458.6h0M410.5,438.8h0M384.4,443.0h0M398.7,472.6h0" stroke="#9a5856" stroke-width="1.1" stroke-opacity="0.45"/><path d="M376.4,446.0h0M412.9,466.3h0M395.4,452.8h0M390.2,432.2h0M383.6,439.6h0M391.4,470.6h0M388.1,444.9h0M406.1,468.9h0M387.6,443.9h0M376.8,449.7h0M380.9,444.8h0M389.7,459.9h0M400.1,446.0h0M397.4,445.9h0M416.0,444.1h0M395.5,451.6h0M417.4,450.1h0M380.5,467.4h0M409.0,450.0h0M407.3,444.9h0M395.0,464.8h0M396.7,440.7h0M383.5,463.8h0M399.3,441.1h0M397.2,465.1h0M394.3,432.3h0M410.6,436.2h0M398.0,444.6h0M401.8,444.1h0M394.8,472.3h0M405.1,457.3h0M374.1,454.5h0M415.1,463.3h0M403.0,457.1h0M383.0,462.8h0M402.3,473.1h0M382.9,467.3h0M392.6,438.0h0M389.4,470.3h0M381.3,468.8h0M404.1,459.4h0M382.3,447.5h0M403.4,435.1h0M374.4,452.4h0M396.0,450.8h0M405.5,452.7h0M390.0,433.9h0M405.1,459.3h0M403.0,446.6h0M378.3,463.3h0M405.0,451.1h0M401.5,434.3h0M374.8,447.7h0M400.6,453.5h0M391.4,441.0h0M378.3,453.7h0M380.9,448.5h0M383.5,453.2h0M388.1,438.2h0M404.3,432.8h0M380.7,456.3h0M385.6,446.1h0M400.8,442.5h0M390.1,443.8h0M389.3,440.9h0M385.7,442.0h0M397.2,441.1h0M401.4,460.2h0M377.7,444.5h0M401.3,438.7h0M390.1,443.1h0M405.4,442.5h0M378.4,462.3h0M397.3,434.8h0M388.0,453.9h0M381.8,442.0h0M395.3,466.1h0M376.9,458.0h0M397.8,445.2h0M392.8,454.9h0M402.4,437.0h0M396.2,468.3h0M378.1,457.4h0M394.3,449.3h0M401.5,434.8h0M383.4,468.7h0M389.2,468.0h0M386.2,441.4h0M387.4,467.9h0M407.3,446.4h0M383.1,439.0h0M408.5,443.3h0M397.4,461.4h0M380.5,462.5h0M382.9,436.2h0M381.3,440.8h0M387.8,437.1h0M378.1,446.5h0M398.4,466.7h0M406.6,458.2h0M407.0,439.5h0M398.3,450.2h0M402.3,446.9h0M398.2,439.5h0M403.5,454.5h0M395.6,453.2h0M390.3,461.8h0M403.3,455.8h0M393.9,436.9h0M403.7,446.2h0" stroke="#9a5856" stroke-width="1.7" stroke-opacity="0.45"/></g><g filter="url(#fblur)"><ellipse cx="404.65" cy="461.20" rx="4.5" ry="3.6" fill="#efe8f0" opacity="0.8"/><ellipse cx="402.65" cy="463.70" rx="4" ry="3" fill="#ebe2ec" opacity="0.7"/><circle cx="406.2" cy="449.1" r="0.8" fill="#8a3a3a" opacity="0.45"/><circle cx="403.5" cy="469.6" r="0.8" fill="#8a3a3a" opacity="0.45"/><circle cx="388.1" cy="463.3" r="0.8" fill="#8a3a3a" opacity="0.45"/><circle cx="388.9" cy="442.8" r="0.8" fill="#8a3a3a" opacity="0.45"/><circle cx="389.3" cy="462.7" r="0.8" fill="#8a3a3a" opacity="0.45"/><circle cx="382.9" cy="459.6" r="0.8" fill="#8a3a3a" opacity="0.45"/><circle cx="389.4" cy="442.9" r="0.8" fill="#8a3a3a" opacity="0.45"/><circle cx="391.9" cy="450.3" r="0.8" fill="#8a3a3a" opacity="0.45"/><circle cx="392.9" cy="467.2" r="0.8" fill="#8a3a3a" opacity="0.45"/><circle cx="407.6" cy="444.9" r="0.8" fill="#8a3a3a" opacity="0.45"/></g><circle cx="396.15" cy="453.20" r="21.6" fill="none" stroke="#857898" stroke-opacity="0.3" stroke-width="1.1"/></g><g clip-path="url(#c27)"><circle cx="445.05" cy="453.20" r="22.1" fill="#beafc3"/><circle cx="445.05" cy="453.20" r="22.1" fill="#000" filter="url(#dkG)" opacity="0.1"/><circle cx="445.05" cy="453.20" r="22.1" fill="#000" filter="url(#spk)" opacity="0.16"/><g filter="url(#fblur)"><path d="M448.1,449.2 L452.1,446.2" stroke="#f3eef4" stroke-opacity="0.4" stroke-width="1.6" fill="none" stroke-linecap="round" stroke-linejoin="round"/></g><circle cx="445.05" cy="453.20" r="21.6" fill="none" stroke="#857898" stroke-opacity="0.3" stroke-width="1.1"/></g><g clip-path="url(#c28)"><circle cx="493.95" cy="453.20" r="22.1" fill="#cdacb2"/><g filter="url(#fblur2)" stroke-linecap="round" fill="none"><path d="M490.3,472.7h0M512.8,460.1h0M493.5,470.1h0M499.4,443.2h0M484.5,433.2h0M485.1,443.4h0M503.8,473.4h0M487.5,473.0h0M485.7,450.3h0M483.1,461.8h0M485.9,446.1h0M477.7,449.4h0M494.1,473.8h0M473.6,455.1h0M509.3,441.8h0M482.8,438.2h0M504.7,469.1h0M510.7,445.7h0M483.5,435.7h0M474.9,442.4h0M496.4,450.1h0M493.5,436.9h0M485.2,442.9h0M504.2,448.8h0M476.5,448.4h0M490.5,454.9h0M509.9,456.9h0M495.2,445.3h0M492.1,444.8h0M480.8,451.3h0M504.2,472.7h0M489.8,452.3h0M484.9,455.7h0M490.9,433.4h0M481.1,457.7h0M512.5,465.8h0M495.0,468.5h0M495.3,445.0h0M475.5,462.8h0M496.8,434.6h0M504.3,460.9h0M500.0,467.6h0M501.4,439.2h0M509.8,438.5h0M479.7,459.1h0M502.7,449.9h0M496.3,462.7h0M483.1,436.1h0M491.5,458.2h0M491.6,459.0h0M496.3,445.6h0M503.4,463.8h0M478.4,455.3h0M495.2,441.5h0M494.5,432.5h0M492.8,437.6h0M495.7,450.0h0M477.2,459.6h0M484.4,448.1h0M487.7,435.0h0" stroke="#f2e8ec" stroke-width="1.3" stroke-opacity="0.4"/><path d="M487.0,435.8h0M487.8,441.4h0M511.2,467.7h0M498.4,460.2h0M508.2,448.3h0M503.8,456.8h0M493.4,460.9h0M477.4,446.9h0M477.8,455.7h0M515.7,457.4h0M501.2,473.0h0M475.4,459.6h0M475.3,448.0h0M495.4,438.1h0M496.8,458.7h0M509.6,447.2h0M477.2,459.4h0M483.5,460.8h0M499.6,441.4h0M490.8,474.7h0M505.0,439.7h0M507.2,442.6h0M484.7,465.2h0M495.1,452.6h0M507.0,467.7h0M484.0,468.3h0M488.8,464.0h0M495.6,467.5h0M486.0,434.3h0M485.5,433.3h0M478.3,446.4h0M508.7,458.2h0M501.9,447.6h0M498.7,473.1h0M485.1,461.1h0M509.3,466.3h0M505.1,457.9h0M490.1,462.8h0M505.8,439.4h0M474.6,462.0h0M485.0,440.4h0M473.0,446.6h0M478.2,465.3h0M511.2,457.9h0M477.0,445.4h0M491.6,470.5h0M502.2,436.7h0M508.1,468.1h0M501.1,440.9h0M485.9,459.9h0M493.1,446.4h0M478.8,463.2h0M490.8,439.0h0M514.7,452.1h0M511.4,467.0h0M485.8,461.6h0M476.0,456.0h0M508.1,461.1h0M489.0,450.2h0M478.3,441.3h0" stroke="#f2e8ec" stroke-width="2.1" stroke-opacity="0.4"/><path d="M489.8,461.5h0M503.3,465.3h0M488.8,472.2h0M507.8,461.7h0M512.6,455.3h0M507.1,451.4h0M488.0,442.6h0M501.2,458.4h0M482.7,458.2h0M493.2,458.2h0M501.3,437.3h0M490.1,469.8h0M481.8,460.5h0M475.7,462.4h0M503.7,456.0h0M487.1,438.7h0M514.3,459.1h0M481.1,436.9h0M474.2,447.8h0M505.6,449.1h0M506.8,469.8h0M514.5,452.8h0M510.9,438.7h0M473.1,446.2h0M500.0,438.9h0M505.6,448.6h0M505.4,445.9h0M505.7,454.0h0M489.6,463.0h0M496.2,450.0h0M480.5,468.1h0M480.2,436.6h0M479.9,453.8h0M491.6,432.1h0M496.1,471.0h0M486.5,455.9h0M493.1,454.8h0M483.6,442.1h0M510.0,468.4h0M475.2,453.9h0" stroke="#a07078" stroke-width="1.1" stroke-opacity="0.3"/><path d="M513.0,460.2h0M502.9,462.0h0M485.2,463.2h0M494.2,442.8h0M496.7,438.8h0M482.2,466.9h0M485.5,470.4h0M502.2,456.3h0M507.3,446.5h0M484.7,445.6h0M515.0,459.0h0M506.3,471.7h0M491.1,461.8h0M505.6,451.5h0M481.9,455.9h0M482.0,464.8h0M490.8,468.8h0M477.3,464.5h0M472.6,446.6h0M477.3,463.4h0M480.8,435.2h0M479.0,445.5h0M501.2,457.4h0M504.4,452.5h0M505.0,470.4h0M488.4,460.5h0M481.8,455.5h0M502.5,432.4h0M498.7,455.4h0M498.4,459.8h0M485.1,469.9h0M506.9,441.7h0M505.5,440.6h0M483.6,472.5h0M495.7,447.8h0M481.4,459.5h0M484.4,450.2h0M486.3,451.4h0M497.7,445.1h0M489.4,463.5h0" stroke="#a07078" stroke-width="1.7" stroke-opacity="0.3"/></g><g filter="url(#fblur)"><ellipse cx="502.45" cy="461.20" rx="4.5" ry="3.6" fill="#efe8f0" opacity="0.8"/><ellipse cx="500.45" cy="463.70" rx="4" ry="3" fill="#ebe2ec" opacity="0.7"/></g><circle cx="493.95" cy="453.20" r="21.6" fill="none" stroke="#857898" stroke-opacity="0.3" stroke-width="1.1"/></g><g clip-path="url(#c30)"><circle cx="102.75" cy="500.20" r="22.1" fill="#bfb0c3"/><circle cx="102.75" cy="500.20" r="22.1" fill="#000" filter="url(#dkG)" opacity="0.1"/><circle cx="102.75" cy="500.20" r="22.1" fill="#000" filter="url(#spk)" opacity="0.16"/><g filter="url(#fblur)"><path d="M98.06,476.20 L110.06,524.20" stroke="#f4f0f4" stroke-opacity="0.12" stroke-width="1.4" fill="none"/><path d="M86.23,476.20 L98.23,524.20" stroke="#f4f0f4" stroke-opacity="0.12" stroke-width="1.4" fill="none"/><path d="M98.8,480.2 L100.8,486.2" stroke="#f3eef4" stroke-opacity="0.35" stroke-width="2.0" fill="none" stroke-linecap="round" stroke-linejoin="round"/></g><circle cx="102.75" cy="500.20" r="21.6" fill="none" stroke="#857898" stroke-opacity="0.3" stroke-width="1.1"/></g><g clip-path="url(#c31)"><circle cx="151.65" cy="500.20" r="22.1" fill="#bfb0c3"/><circle cx="151.65" cy="500.20" r="22.1" fill="#000" filter="url(#dkG)" opacity="0.1"/><circle cx="151.65" cy="500.20" r="22.1" fill="#000" filter="url(#spk)" opacity="0.16"/><g filter="url(#fblur)"><path d="M147.92,476.20 L159.92,524.20" stroke="#f4f0f4" stroke-opacity="0.12" stroke-width="1.4" fill="none"/><path d="M137.10,476.20 L149.10,524.20" stroke="#f4f0f4" stroke-opacity="0.12" stroke-width="1.4" fill="none"/><path d="M147.7,480.2 L149.7,486.2" stroke="#f3eef4" stroke-opacity="0.35" stroke-width="2.0" fill="none" stroke-linecap="round" stroke-linejoin="round"/></g><circle cx="151.65" cy="500.20" r="21.6" fill="none" stroke="#857898" stroke-opacity="0.3" stroke-width="1.1"/></g><g clip-path="url(#c32)"><circle cx="200.55" cy="500.20" r="22.1" fill="#bfb0c3"/><circle cx="200.55" cy="500.20" r="22.1" fill="#000" filter="url(#dkG)" opacity="0.1"/><circle cx="200.55" cy="500.20" r="22.1" fill="#000" filter="url(#spk)" opacity="0.16"/><g filter="url(#fblur)"><path d="M184.20,476.20 L196.20,524.20" stroke="#f4f0f4" stroke-opacity="0.12" stroke-width="1.4" fill="none"/><path d="M203.39,476.20 L215.39,524.20" stroke="#f4f0f4" stroke-opacity="0.12" stroke-width="1.4" fill="none"/><path d="M196.6,480.2 L198.6,486.2" stroke="#f3eef4" stroke-opacity="0.35" stroke-width="2.0" fill="none" stroke-linecap="round" stroke-linejoin="round"/><path d="M178.55,502.20 Q182.55,518.20 194.55,523.20" stroke="#3a3040" stroke-opacity="0.7" stroke-width="2.5" fill="none"/><path d="M186.55,476.20 L198.55,524.20" stroke="#8e8098" stroke-opacity="0.35" stroke-width="1.2" fill="none"/><path d="M196.55,476.20 L208.55,524.20" stroke="#8e8098" stroke-opacity="0.35" stroke-width="1.2" fill="none"/><path d="M206.55,476.20 L218.55,524.20" stroke="#8e8098" stroke-opacity="0.35" stroke-width="1.2" fill="none"/><path d="M212.6,482.2 L218.6,492.2" stroke="#f3eef4" stroke-opacity="0.55" stroke-width="2.5" fill="none" stroke-linecap="round" stroke-linejoin="round"/></g><circle cx="200.55" cy="500.20" r="21.6" fill="none" stroke="#857898" stroke-opacity="0.3" stroke-width="1.1"/></g><g clip-path="url(#c33)"><circle cx="249.45" cy="500.20" r="22.1" fill="#bfb0c3"/><circle cx="249.45" cy="500.20" r="22.1" fill="#000" filter="url(#dkG)" opacity="0.1"/><circle cx="249.45" cy="500.20" r="22.1" fill="#000" filter="url(#spk)" opacity="0.16"/><g filter="url(#fblur)"><path d="M254.54,476.20 L266.54,524.20" stroke="#f4f0f4" stroke-opacity="0.12" stroke-width="1.4" fill="none"/><path d="M234.96,476.20 L246.96,524.20" stroke="#f4f0f4" stroke-opacity="0.12" stroke-width="1.4" fill="none"/><path d="M245.4,480.2 L247.4,486.2" stroke="#f3eef4" stroke-opacity="0.35" stroke-width="2.0" fill="none" stroke-linecap="round" stroke-linejoin="round"/></g><circle cx="249.45" cy="500.20" r="21.6" fill="none" stroke="#857898" stroke-opacity="0.3" stroke-width="1.1"/></g><g clip-path="url(#c34)"><circle cx="298.35" cy="500.20" r="22.1" fill="#bfb0c3"/><circle cx="298.35" cy="500.20" r="22.1" fill="#000" filter="url(#dkG)" opacity="0.1"/><circle cx="298.35" cy="500.20" r="22.1" fill="#000" filter="url(#spk)" opacity="0.16"/><g filter="url(#fblur)"><path d="M292.63,476.20 L304.63,524.20" stroke="#f4f0f4" stroke-opacity="0.12" stroke-width="1.4" fill="none"/><path d="M295.07,476.20 L307.07,524.20" stroke="#f4f0f4" stroke-opacity="0.12" stroke-width="1.4" fill="none"/><path d="M294.4,480.2 L296.4,486.2" stroke="#f3eef4" stroke-opacity="0.35" stroke-width="2.0" fill="none" stroke-linecap="round" stroke-linejoin="round"/></g><circle cx="298.35" cy="500.20" r="21.6" fill="none" stroke="#857898" stroke-opacity="0.3" stroke-width="1.1"/></g><g clip-path="url(#c35)"><circle cx="347.25" cy="500.20" r="22.1" fill="#bfb0c3"/><circle cx="347.25" cy="500.20" r="22.1" fill="#000" filter="url(#dkG)" opacity="0.1"/><circle cx="347.25" cy="500.20" r="22.1" fill="#000" filter="url(#spk)" opacity="0.16"/><g filter="url(#fblur)"><path d="M343.66,476.20 L355.66,524.20" stroke="#f4f0f4" stroke-opacity="0.12" stroke-width="1.4" fill="none"/><path d="M349.15,476.20 L361.15,524.20" stroke="#f4f0f4" stroke-opacity="0.12" stroke-width="1.4" fill="none"/><path d="M343.2,480.2 L345.2,486.2" stroke="#f3eef4" stroke-opacity="0.35" stroke-width="2.0" fill="none" stroke-linecap="round" stroke-linejoin="round"/></g><circle cx="347.25" cy="500.20" r="21.6" fill="none" stroke="#857898" stroke-opacity="0.3" stroke-width="1.1"/></g><g clip-path="url(#c36)"><circle cx="396.15" cy="500.20" r="22.1" fill="#c69a90"/><g filter="url(#fblur)"><path d="M374.15,476.20 L386.15,524.20" stroke="#b07a70" stroke-opacity="0.35" stroke-width="2.2" fill="none"/><path d="M384.15,476.20 L396.15,524.20" stroke="#b07a70" stroke-opacity="0.35" stroke-width="2.2" fill="none"/><path d="M394.15,476.20 L406.15,524.20" stroke="#b07a70" stroke-opacity="0.35" stroke-width="2.2" fill="none"/><path d="M404.15,476.20 L416.15,524.20" stroke="#b07a70" stroke-opacity="0.35" stroke-width="2.2" fill="none"/><path d="M407.5,482.0 Q411.5,491.0 413.5,495.5 L415.5,500.0" stroke="#f2eaf0" stroke-opacity="0.75" stroke-width="3.2" fill="none" stroke-linecap="round" stroke-linejoin="round"/><path d="M382.8,491.0 Q386.0,502.0 388.4,511.2 L390.8,520.5" stroke="#f2eaf0" stroke-opacity="0.6" stroke-width="1.8" fill="none" stroke-linecap="round" stroke-linejoin="round"/><path d="M396.0,504.5 Q397.5,512.0 398.1,516.2 L398.8,520.5" stroke="#f2eaf0" stroke-opacity="0.55" stroke-width="1.4" fill="none" stroke-linecap="round" stroke-linejoin="round"/><circle cx="417.4" cy="499.7" r="1.0" fill="#3a2020" opacity="0.7"/></g><circle cx="396.15" cy="500.20" r="21.6" fill="none" stroke="#857898" stroke-opacity="0.3" stroke-width="1.1"/></g><g clip-path="url(#c37)"><circle cx="445.05" cy="500.20" r="22.1" fill="#bfb0c3"/><circle cx="445.05" cy="500.20" r="22.1" fill="#000" filter="url(#dkG)" opacity="0.1"/><circle cx="445.05" cy="500.20" r="22.1" fill="#000" filter="url(#spk)" opacity="0.16"/><g filter="url(#fblur)"><path d="M450.43,476.20 L462.43,524.20" stroke="#f4f0f4" stroke-opacity="0.12" stroke-width="1.4" fill="none"/><path d="M448.89,476.20 L460.89,524.20" stroke="#f4f0f4" stroke-opacity="0.12" stroke-width="1.4" fill="none"/><path d="M441.1,480.2 L443.1,486.2" stroke="#f3eef4" stroke-opacity="0.35" stroke-width="2.0" fill="none" stroke-linecap="round" stroke-linejoin="round"/></g><circle cx="445.05" cy="500.20" r="21.6" fill="none" stroke="#857898" stroke-opacity="0.3" stroke-width="1.1"/></g><g clip-path="url(#c38)"><circle cx="493.95" cy="500.20" r="22.1" fill="#b37c6c"/><g filter="url(#fblur)"><path d="M467.95,476.20 L481.95,524.20" stroke="#9a6050" stroke-opacity="0.35" stroke-width="2.5" fill="none"/><path d="M476.95,476.20 L490.95,524.20" stroke="#9a6050" stroke-opacity="0.35" stroke-width="2.5" fill="none"/><path d="M485.95,476.20 L499.95,524.20" stroke="#9a6050" stroke-opacity="0.35" stroke-width="2.5" fill="none"/><path d="M494.95,476.20 L508.95,524.20" stroke="#9a6050" stroke-opacity="0.35" stroke-width="2.5" fill="none"/><path d="M503.95,476.20 L517.95,524.20" stroke="#9a6050" stroke-opacity="0.35" stroke-width="2.5" fill="none"/><path d="M478.5,484.0 Q482.0,496.0 483.5,502.0 Q485.0,508.0 486.5,515.5 L488.0,523.0" stroke="#efe8ee" stroke-opacity="0.9" stroke-width="3.6" fill="none" stroke-linecap="round" stroke-linejoin="round"/><path d="M491.0,477.0 Q496.0,491.0 498.5,498.5 Q501.0,506.0 503.5,513.5 L506.0,521.0" stroke="#f2ecf2" stroke-opacity="0.92" stroke-width="4.4" fill="none" stroke-linecap="round" stroke-linejoin="round"/><path d="M507.0,480.0 Q512.0,488.0 514.5,493.5 L517.0,499.0" stroke="#eee6ee" stroke-opacity="0.85" stroke-width="3.0" fill="none" stroke-linecap="round" stroke-linejoin="round"/></g><circle cx="493.95" cy="500.20" r="21.6" fill="none" stroke="#857898" stroke-opacity="0.3" stroke-width="1.1"/></g></g></g></svg>
</body></html>
